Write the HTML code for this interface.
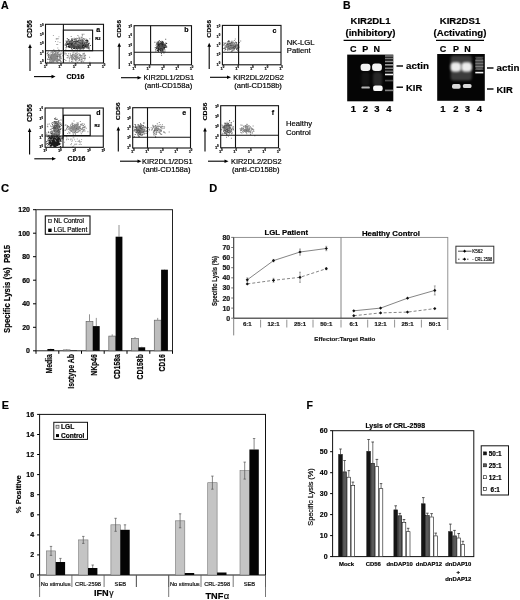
<!DOCTYPE html>
<html><head><meta charset="utf-8"><style>
html,body{margin:0;padding:0;background:#fff;}
svg{display:block;font-family:"Liberation Sans",sans-serif;filter:grayscale(1);}
text{stroke:#000;stroke-width:0.18px;}
</style></head><body>
<svg width="520" height="600" viewBox="0 0 520 600">
<defs>
<filter id="bd" x="-20%" y="-20%" width="140%" height="140%"><feGaussianBlur stdDeviation="0.3"/></filter>
<filter id="b1" x="-50%" y="-50%" width="200%" height="200%"><feGaussianBlur stdDeviation="0.7"/></filter>
<filter id="b2" x="-50%" y="-50%" width="200%" height="200%"><feGaussianBlur stdDeviation="1.3"/></filter>
<filter id="b3" x="-50%" y="-50%" width="200%" height="200%"><feGaussianBlur stdDeviation="2.5"/></filter>
</defs>
<rect width="520" height="600" fill="#fff"/>
<text x="1" y="8.6" font-size="10.6" font-weight="bold" fill="#000">A</text>
<g filter="url(#bd)">
<path fill="#1a1a1a" d="M75.8 45h1v1h-1zM76 43.7h1v1h-1zM72.7 43.9h1v1h-1zM82.1 44.9h1v1h-1zM81.8 44.6h1v1h-1zM78.8 44.5h1v1h-1zM69.3 45.6h1v1h-1zM79.3 45h1v1h-1zM69.2 41.4h1v1h-1zM72.9 43.5h1v1h-1zM78.4 44.1h1v1h-1zM79.4 43.2h1v1h-1zM78.4 44.8h1v1h-1zM74 46.9h1v1h-1zM79.6 46.1h1v1h-1zM74.1 43h1v1h-1zM75.4 44h1v1h-1zM79.9 44.6h1v1h-1zM74.9 42.7h1v1h-1zM74.6 46.2h1v1h-1zM73.3 44.6h1v1h-1zM79 41.8h1v1h-1zM77.2 46.3h1v1h-1zM67.7 43.7h1v1h-1zM76.5 42.9h1v1h-1zM79.3 44.1h1v1h-1zM70.3 45.5h1v1h-1zM80.1 45.7h1v1h-1zM83.6 44.8h1v1h-1zM77.5 42.1h1v1h-1zM79.8 43.2h1v1h-1zM74.9 42.2h1v1h-1zM72.5 43.4h1v1h-1zM82.9 40.9h1v1h-1zM70.3 44.6h1v1h-1zM83.6 45.1h1v1h-1zM68.3 40.2h1v1h-1zM78.6 43h1v1h-1zM71.8 45.8h1v1h-1zM82.1 44.5h1v1h-1zM78.1 44.9h1v1h-1zM84.3 45.2h1v1h-1zM79.4 45.1h1v1h-1zM69.8 46.3h1v1h-1zM81.4 45h1v1h-1zM67.9 43.2h1v1h-1zM80.9 41.3h1v1h-1zM76.2 45.8h1v1h-1zM71 46.8h1v1h-1zM79.5 44h1v1h-1zM78.5 45.2h1v1h-1zM77.6 46h1v1h-1zM74 43.5h1v1h-1zM81.8 44.2h1v1h-1zM72.9 45.7h1v1h-1zM83.7 43.5h1v1h-1zM70.7 44h1v1h-1zM76.3 43.7h1v1h-1zM83.5 42.6h1v1h-1zM82.8 42.2h1v1h-1zM73.4 45.2h1v1h-1zM82.2 45.6h1v1h-1zM78.6 44.4h1v1h-1zM77.7 45.1h1v1h-1zM76.2 44.6h1v1h-1zM79.6 44.2h1v1h-1zM80.5 45.1h1v1h-1zM86.2 44.7h1v1h-1zM75 43.6h1v1h-1zM76.9 45.7h1v1h-1zM75.5 44.8h1v1h-1zM85.5 40.1h1v1h-1zM71.8 44.6h1v1h-1zM78.8 44.6h1v1h-1zM75 45.2h1v1h-1zM78.3 43.4h1v1h-1zM88.2 44.8h1v1h-1zM74.5 44h1v1h-1zM76 44.1h1v1h-1zM81.6 42.3h1v1h-1zM76.7 45.7h1v1h-1zM80.9 46.6h1v1h-1zM69.2 43.6h1v1h-1zM75.4 45.2h1v1h-1zM82 39.9h1v1h-1zM82 41.9h1v1h-1zM80.1 41.8h1v1h-1zM77.8 46.1h1v1h-1zM76.3 44.5h1v1h-1zM80.7 44.4h1v1h-1zM76.6 46.7h1v1h-1zM81.8 43.7h1v1h-1zM81.2 43.8h1v1h-1zM77.6 45.3h1v1h-1zM78 45.2h1v1h-1zM70 41.8h1v1h-1zM79.8 42.7h1v1h-1zM72.3 41.8h1v1h-1zM82.8 45.4h1v1h-1zM83.8 42.7h1v1h-1zM77 42.4h1v1h-1zM80.5 46.7h1v1h-1zM72.9 46.7h1v1h-1zM81.5 43.9h1v1h-1zM67.9 46.5h1v1h-1zM76.6 43.2h1v1h-1zM78.8 44.9h1v1h-1zM83.9 42.6h1v1h-1zM82.2 46.6h1v1h-1zM83.7 43.9h1v1h-1zM73.6 45.8h1v1h-1zM77.5 44.4h1v1h-1zM83.6 43.8h1v1h-1zM66.4 43.6h1v1h-1zM68.5 45.5h1v1h-1zM78.5 43.2h1v1h-1zM77 45.5h1v1h-1zM77.4 46.3h1v1h-1zM76.7 45.9h1v1h-1zM83.9 46.8h1v1h-1zM73.9 45.6h1v1h-1zM68.4 42.5h1v1h-1zM68 45.9h1v1h-1zM71.3 44.2h1v1h-1zM76.1 44.2h1v1h-1zM74.3 44.6h1v1h-1zM85.2 44.3h1v1h-1zM79.4 45.8h1v1h-1zM76.1 42.2h1v1h-1zM74.4 45.9h1v1h-1zM69.4 43.2h1v1h-1zM81.6 45.5h1v1h-1zM77 45.5h1v1h-1zM77.8 42.3h1v1h-1zM69.8 43.2h1v1h-1zM81.2 43.3h1v1h-1zM72.8 43h1v1h-1zM70 44h1v1h-1zM71.6 44.8h1v1h-1zM66.1 44.7h1v1h-1zM74 41.1h1v1h-1zM80.3 43.8h1v1h-1zM66.7 42.8h1v1h-1zM78.3 43.5h1v1h-1zM80.6 45.4h1v1h-1zM80.1 44.7h1v1h-1zM83.1 45.3h1v1h-1zM79.1 40.9h1v1h-1zM81.1 46.3h1v1h-1zM75.6 43.4h1v1h-1zM85.9 41.4h1v1h-1zM79.2 48.1h1v1h-1zM72.7 45.3h1v1h-1zM85.7 44h1v1h-1zM79.6 45.6h1v1h-1zM72.8 44.1h1v1h-1zM78.3 45.5h1v1h-1zM76.8 43.9h1v1h-1zM72.3 43.6h1v1h-1zM81.1 44.4h1v1h-1zM73.1 42.9h1v1h-1zM79.9 40.1h1v1h-1zM79.9 45h1v1h-1zM84.7 44.9h1v1h-1zM76.7 45h1v1h-1zM68.1 45.9h1v1h-1zM78.5 43.1h1v1h-1zM83.1 47.1h1v1h-1zM70.5 43.1h1v1h-1zM78.3 44.5h1v1h-1zM75.2 42.6h1v1h-1zM86.8 45.9h1v1h-1zM71.5 42h1v1h-1zM84.8 45.8h1v1h-1zM85.4 45.5h1v1h-1zM73 44.6h1v1h-1zM67.1 43h1v1h-1zM76.7 45h1v1h-1zM73.7 44h1v1h-1zM79.1 44.8h1v1h-1zM79.9 44.5h1v1h-1zM75.5 45.5h1v1h-1zM77.2 42.9h1v1h-1zM74.1 44.2h1v1h-1zM76.5 44.5h1v1h-1zM77 44.5h1v1h-1zM76.4 42.2h1v1h-1zM78.9 45.9h1v1h-1zM79 43.9h1v1h-1zM79.1 42.7h1v1h-1zM68.3 44.3h1v1h-1zM72.7 45.4h1v1h-1zM72 40h1v1h-1zM72.2 46.7h1v1h-1zM75.2 42h1v1h-1zM73.5 45h1v1h-1zM79.3 44.5h1v1h-1zM83.8 45.3h1v1h-1zM76.9 45.2h1v1h-1zM84.6 45.8h1v1h-1zM81.7 42.5h1v1h-1zM76.3 45.4h1v1h-1zM75.6 45.9h1v1h-1zM79.7 45.7h1v1h-1zM76 48.3h1v1h-1zM82.7 43.9h1v1h-1zM77.4 48.4h1v1h-1zM75.4 45.6h1v1h-1zM81.5 44.2h1v1h-1zM71.6 44.5h1v1h-1zM78.7 46h1v1h-1zM80.6 44.2h1v1h-1zM80.9 45.1h1v1h-1zM77.9 44.3h1v1h-1zM75.9 45.3h1v1h-1zM72.2 43.2h1v1h-1zM77 41.9h1v1h-1zM75 41h1v1h-1zM73.9 45.1h1v1h-1zM79.6 44.1h1v1h-1zM75.9 41.9h1v1h-1zM85.4 45h1v1h-1zM82 42.8h1v1h-1zM76.1 41.3h1v1h-1zM80.6 45.7h1v1h-1zM68.3 44.1h1v1h-1zM79.9 41.4h1v1h-1zM68.6 42.5h1v1h-1zM74.1 42h1v1h-1zM77.1 44.6h1v1h-1zM79.9 45.3h1v1h-1zM83.9 46.1h1v1h-1zM71 43.4h1v1h-1zM72.1 42.5h1v1h-1zM76.6 44.2h1v1h-1zM79.3 41.7h1v1h-1zM71.3 44.2h1v1h-1zM76.1 43.7h1v1h-1zM76.7 43h1v1h-1zM80.2 44.8h1v1h-1zM76.6 43.1h1v1h-1zM76.2 39.8h1v1h-1zM72.5 44.3h1v1h-1zM70.1 44.5h1v1h-1zM77.7 42h1v1h-1zM75.8 43.7h1v1h-1zM79.1 45.2h1v1h-1zM76.8 42.8h1v1h-1zM76.3 44.1h1v1h-1zM80.4 44.7h1v1h-1zM73.7 42h1v1h-1zM75.3 43h1v1h-1zM71.9 44h1v1h-1zM74.7 44.4h1v1h-1zM79.4 43.5h1v1h-1zM87.7 43.7h1v1h-1zM82.1 44.4h1v1h-1zM82.1 40.4h1v1h-1zM73.5 44.6h1v1h-1zM79.8 47.9h1v1h-1zM78.5 46.2h1v1h-1zM80.5 45.7h1v1h-1zM79.3 44h1v1h-1zM79.3 42.5h1v1h-1zM82.4 42.6h1v1h-1zM78.1 47.6h1v1h-1zM76 44.2h1v1h-1zM82.3 44.2h1v1h-1zM73.3 44.6h1v1h-1zM79.7 45.3h1v1h-1zM73.4 47h1v1h-1zM84.7 44.2h1v1h-1zM78.2 43.5h1v1h-1zM83.5 43.1h1v1h-1zM80.1 43.4h1v1h-1zM73.8 45.3h1v1h-1zM83.1 44.2h1v1h-1zM73.9 45.5h1v1h-1zM76.8 44.7h1v1h-1zM84 46h1v1h-1zM74.6 47.9h1v1h-1zM77 45.5h1v1h-1zM74 44.1h1v1h-1zM69 47.1h1v1h-1zM83.3 42.3h1v1h-1zM70.1 41.6h1v1h-1zM82.4 43.5h1v1h-1zM76.7 43.7h1v1h-1zM76.4 42.5h1v1h-1zM77.1 41.9h1v1h-1zM76.7 44.7h1v1h-1zM79.2 43.8h1v1h-1zM72.8 44.5h1v1h-1zM74.8 46.7h1v1h-1zM80.5 44h1v1h-1zM74.8 43.1h1v1h-1zM72.7 43.6h1v1h-1zM78.4 45h1v1h-1zM79.6 47.6h1v1h-1zM73.8 44.2h1v1h-1zM74.6 44.5h1v1h-1zM77.7 44.9h1v1h-1zM75.9 44.8h1v1h-1zM77.2 45.4h1v1h-1zM68.3 42.8h1v1h-1zM77 42.5h1v1h-1zM72.2 45.2h1v1h-1zM74 45.2h1v1h-1zM80.4 44.7h1v1h-1zM79.3 44h1v1h-1zM70.5 44.2h1v1h-1zM79.1 43.4h1v1h-1zM76.5 45.4h1v1h-1zM73 45.2h1v1h-1zM85.6 43.3h1v1h-1zM77.7 44h1v1h-1zM84.1 44.7h1v1h-1zM81.1 43.1h1v1h-1zM76.9 44.2h1v1h-1zM68.8 46.5h1v1h-1zM81.1 41.4h1v1h-1zM80.4 44h1v1h-1zM79.1 44.8h1v1h-1zM70.1 43.9h1v1h-1zM83.9 43.3h1v1h-1zM72.3 42h1v1h-1zM71.4 44.7h1v1h-1zM84.8 44.9h1v1h-1zM78.1 47.8h1v1h-1zM74.6 43.1h1v1h-1zM79.4 45.1h1v1h-1zM72.3 42.3h1v1h-1zM78.3 44.6h1v1h-1zM71 43.9h1v1h-1zM74.5 44.9h1v1h-1zM76.5 44.1h1v1h-1zM75.4 45.9h1v1h-1zM83.4 43.6h1v1h-1zM80.9 43h1v1h-1zM77.3 45.4h1v1h-1zM84 43.6h1v1h-1zM76.7 44.5h1v1h-1zM70.1 44.2h1v1h-1zM73.9 44.8h1v1h-1zM71.8 41h1v1h-1zM77.2 44.6h1v1h-1zM74.5 45.6h1v1h-1zM75.7 43.2h1v1h-1zM79.2 41.7h1v1h-1zM73.9 44.2h1v1h-1zM80.9 43.9h1v1h-1zM78.4 43.2h1v1h-1zM78.4 46.9h1v1h-1zM73.8 48h1v1h-1zM74 44.2h1v1h-1zM77.8 45.8h1v1h-1zM71.3 40.8h1v1h-1zM79.8 45.5h1v1h-1zM79.9 48.4h1v1h-1zM77.9 44.6h1v1h-1zM81.3 44.8h1v1h-1zM84.7 42.2h1v1h-1zM75.3 38.7h1v1h-1zM80.7 43.6h1v1h-1zM81.3 47.6h1v1h-1zM77 43.8h1v1h-1zM74.7 42.9h1v1h-1zM74.1 45.2h1v1h-1zM77.2 44.3h1v1h-1zM76.2 45.7h1v1h-1zM79.3 44h1v1h-1zM80.1 44h1v1h-1zM71.7 46.5h1v1h-1zM79.1 42.7h1v1h-1zM82 44.8h1v1h-1zM69.8 46.8h1v1h-1zM78.5 45.6h1v1h-1zM77.9 44h1v1h-1zM69.9 45.8h1v1h-1zM77.1 43.7h1v1h-1zM78.6 44.3h1v1h-1zM80.1 43.6h1v1h-1zM76.8 40.8h1v1h-1zM75.1 45.3h1v1h-1zM83.1 43.6h1v1h-1zM76.4 46.7h1v1h-1zM75.5 45.4h1v1h-1zM84.7 44.3h1v1h-1zM82.6 43.1h1v1h-1zM78 44.1h1v1h-1zM77.5 46h1v1h-1zM88 43.1h1v1h-1zM74.4 45h1v1h-1zM72.1 45h1v1h-1zM79.6 43.8h1v1h-1zM79.4 41.7h1v1h-1zM80.5 41.7h1v1h-1zM73.8 43.3h1v1h-1zM75.2 45.6h1v1h-1zM77.4 43.6h1v1h-1zM79.5 46.7h1v1h-1zM77 44.8h1v1h-1zM82.7 44.6h1v1h-1zM71.1 48.2h1v1h-1zM87.2 41h1v1h-1zM76.8 44.9h1v1h-1zM81.4 45.3h1v1h-1zM75.7 42.5h1v1h-1zM77.5 45.9h1v1h-1zM72 42.6h1v1h-1zM76.9 41.1h1v1h-1zM75.8 43.5h1v1h-1zM79.1 43.1h1v1h-1zM72.9 43.6h1v1h-1zM76.8 43.1h1v1h-1zM77.1 45.4h1v1h-1zM82.5 46.9h1v1h-1zM73.4 43.5h1v1h-1zM65.6 47.2h1v1h-1zM73.7 44.1h1v1h-1zM79.4 42h1v1h-1zM79.1 44.2h1v1h-1zM68.6 44.7h1v1h-1zM82.5 41.2h1v1h-1zM80.7 44.5h1v1h-1zM79.2 44.9h1v1h-1zM83 43.8h1v1h-1zM81 43.5h1v1h-1zM80.3 42.9h1v1h-1zM76.5 47h1v1h-1zM79 43.9h1v1h-1zM71.7 42.9h1v1h-1zM77.9 45.7h1v1h-1zM79 45h1v1h-1zM76.8 46.4h1v1h-1zM75.2 43.3h1v1h-1zM81.1 44.3h1v1h-1zM75.7 43.3h1v1h-1zM75.8 45.2h1v1h-1zM78.6 42.3h1v1h-1zM79 44.5h1v1h-1zM72.4 45.4h1v1h-1zM75.7 43.7h1v1h-1zM80.7 46.3h1v1h-1zM73.8 44.9h1v1h-1zM73 47.9h1v1h-1zM74.7 46.1h1v1h-1zM74 45.5h1v1h-1zM87.2 40.1h1v1h-1zM75 45h1v1h-1zM76.6 43.1h1v1h-1zM86.9 44.3h1v1h-1zM69.4 45.6h1v1h-1zM69.1 46h1v1h-1zM74.3 44.4h1v1h-1zM82.8 44.4h1v1h-1zM70.6 41.5h1v1h-1zM82.4 45.4h1v1h-1zM73.2 45.6h1v1h-1zM79.3 45.2h1v1h-1zM66.6 43.7h1v1h-1zM81.1 45.4h1v1h-1zM81.1 40.3h1v1h-1zM77.8 45h1v1h-1zM88.7 42.7h1v1h-1zM75.5 44.3h1v1h-1zM81.1 43.5h1v1h-1zM82.3 42.9h1v1h-1zM78.2 43.4h1v1h-1zM77.7 43.1h1v1h-1zM69.7 45.9h1v1h-1zM78.4 43.3h1v1h-1zM77.9 45.8h1v1h-1zM72.5 44h1v1h-1zM79.5 45h1v1h-1zM75.5 40.8h1v1h-1zM82.7 44.7h1v1h-1zM77.1 43.8h1v1h-1zM78.2 43.5h1v1h-1zM72.3 43h1v1h-1zM74.3 43.2h1v1h-1zM71.7 45.2h1v1h-1zM71 45.3h1v1h-1zM72.3 44.8h1v1h-1zM83.3 44.5h1v1h-1zM73.6 44.3h1v1h-1zM77.7 41.4h1v1h-1zM74.2 44.5h1v1h-1zM74.8 44.3h1v1h-1zM80.4 45.4h1v1h-1zM81.2 45.1h1v1h-1zM75.7 44.2h1v1h-1zM75.8 43.7h1v1h-1zM76.2 41.4h1v1h-1zM75.5 44.2h1v1h-1zM72.5 44.2h1v1h-1zM79.4 43.9h1v1h-1zM86.6 40h1v1h-1zM76.1 41.3h1v1h-1zM81.5 48.4h1v1h-1zM65.5 44.4h1v1h-1zM79.4 43.7h1v1h-1zM79.5 40.6h1v1h-1zM80.9 44.8h1v1h-1zM77.1 43.3h1v1h-1zM79.9 43.4h1v1h-1zM78 43.4h1v1h-1zM66.7 44.1h1v1h-1zM77.9 45.4h1v1h-1zM73 44.1h1v1h-1zM79.8 44.4h1v1h-1zM82.7 47.4h1v1h-1zM72.8 41.1h1v1h-1zM80.9 46.6h1v1h-1zM81.2 45.5h1v1h-1zM74.2 43.1h1v1h-1zM81.1 42.7h1v1h-1zM68.7 42.6h1v1h-1zM88.5 47.3h1v1h-1zM73.8 43h1v1h-1zM78.1 43h1v1h-1zM83 44.1h1v1h-1zM72 46.3h1v1h-1zM74.3 44.6h1v1h-1zM76.9 43.7h1v1h-1zM78.5 43.1h1v1h-1zM68.5 40.7h1v1h-1zM71.2 43h1v1h-1zM76.9 44.3h1v1h-1zM79.6 44.4h1v1h-1zM73.4 43.1h1v1h-1zM67.3 43.9h1v1h-1zM79.2 45h1v1h-1zM76.4 43.9h1v1h-1zM81.3 44.2h1v1h-1zM80.4 45.1h1v1h-1zM78 46.3h1v1h-1zM74.4 43.6h1v1h-1zM73.3 42.9h1v1h-1zM84.2 47h1v1h-1zM77.1 45.1h1v1h-1zM82.4 45.5h1v1h-1zM82.5 42.2h1v1h-1zM74.1 44.9h1v1h-1zM83.6 44.4h1v1h-1zM73.1 43.6h1v1h-1zM74 42.8h1v1h-1zM83.9 43.2h1v1h-1zM77.1 47.7h1v1h-1zM82.4 44.7h1v1h-1zM74.2 44.9h1v1h-1zM84.5 45.2h1v1h-1zM82.8 44.4h1v1h-1zM79.4 43.9h1v1h-1zM79 46.3h1v1h-1zM70.4 44.1h1v1h-1zM78.1 43.3h1v1h-1zM75.6 45.5h1v1h-1zM86.2 45.2h1v1h-1zM78.5 41.7h1v1h-1zM85.9 44.3h1v1h-1zM76.8 42.4h1v1h-1zM76.7 42.4h1v1h-1zM77.3 44.9h1v1h-1zM77.1 44.6h1v1h-1zM73.1 46.5h1v1h-1zM74 41.3h1v1h-1zM76.1 43h1v1h-1zM72.4 43.6h1v1h-1zM78.3 42.3h1v1h-1zM76.4 46.5h1v1h-1zM80.1 44h1v1h-1zM77.6 44h1v1h-1zM76.8 45.4h1v1h-1zM76.6 40.4h1v1h-1zM76.9 42.8h1v1h-1zM80 43.2h1v1h-1zM77.7 47.7h1v1h-1zM72.2 42.4h1v1h-1zM70.5 40.4h1v1h-1zM68.4 44.8h1v1h-1zM74.1 41.2h1v1h-1zM70.2 45.2h1v1h-1zM73.4 43.6h1v1h-1zM78.5 46.4h1v1h-1zM85.9 45.9h1v1h-1zM77.7 44.5h1v1h-1zM85.3 46.5h1v1h-1zM75.6 44.9h1v1h-1zM78.3 44.3h1v1h-1zM74.7 42.1h1v1h-1zM74.5 41.7h1v1h-1zM82.6 45.1h1v1h-1zM71.5 46.4h1v1h-1zM81.1 41.1h1v1h-1zM85.5 45.5h1v1h-1zM86.5 42.2h1v1h-1zM79.4 44.9h1v1h-1zM77.9 44.5h1v1h-1zM81.8 41.8h1v1h-1zM71.3 42h1v1h-1zM74.4 43.2h1v1h-1zM78.7 44.6h1v1h-1zM77.1 43.1h1v1h-1zM75 45.7h1v1h-1zM80.5 44.4h1v1h-1zM75.5 46.7h1v1h-1zM74.3 45.2h1v1h-1zM82.3 43.8h1v1h-1zM80.8 42.4h1v1h-1zM81.7 44.5h1v1h-1zM69.7 45.3h1v1h-1zM72.9 46.3h1v1h-1zM73.9 43.9h1v1h-1zM78.3 43.7h1v1h-1zM78.2 43.3h1v1h-1zM80.1 44.2h1v1h-1zM78 39.8h1v1h-1zM82.3 44.3h1v1h-1zM68.8 44.4h1v1h-1zM79.1 45.9h1v1h-1zM72 46.7h1v1h-1zM76.3 48h1v1h-1zM76.3 45.3h1v1h-1zM75.3 42.4h1v1h-1zM82 45.7h1v1h-1zM84.1 45.6h1v1h-1zM74.4 41.5h1v1h-1zM74 43.1h1v1h-1zM73.3 45.1h1v1h-1zM78.5 43.8h1v1h-1zM77.8 44h1v1h-1zM78 45.4h1v1h-1zM81.4 43.1h1v1h-1zM70.1 46.5h1v1h-1zM77.5 46h1v1h-1zM69.4 43.7h1v1h-1zM77.1 41.9h1v1h-1zM74.6 45.4h1v1h-1zM82 46.8h1v1h-1zM73 42h1v1h-1zM79.4 45.7h1v1h-1zM77.9 42.1h1v1h-1zM80.6 45.5h1v1h-1zM79.5 43.4h1v1h-1zM78.4 45.5h1v1h-1zM74.4 41.3h1v1h-1zM78.5 45h1v1h-1zM77.1 45.6h1v1h-1zM74.3 44.1h1v1h-1zM75.6 45.1h1v1h-1zM84.3 43.8h1v1h-1zM86.5 46.6h1v1h-1zM80.6 45.1h1v1h-1zM85.1 43.9h1v1h-1zM76.5 42.5h1v1h-1zM79.2 46.4h1v1h-1zM79.4 44.9h1v1h-1zM76.1 44.5h1v1h-1zM70.4 45.9h1v1h-1zM75.1 42.4h1v1h-1zM73.5 42.9h1v1h-1zM80.9 45.9h1v1h-1zM70.8 45.7h1v1h-1zM81.1 43.3h1v1h-1zM70.2 43h1v1h-1zM74.1 44.7h1v1h-1zM75.4 41h1v1h-1zM78.1 41.7h1v1h-1zM81.2 42.3h1v1h-1zM73.8 42.8h1v1h-1zM74.5 46.3h1v1h-1zM80.9 45.2h1v1h-1zM78.5 41.7h1v1h-1zM74.6 43.3h1v1h-1zM72.5 45h1v1h-1zM73.6 43.1h1v1h-1zM72.2 40.9h1v1h-1zM79.7 46.3h1v1h-1zM77.8 42.6h1v1h-1zM64.6 44.5h1v1h-1zM82.6 44.7h1v1h-1zM81.3 46.6h1v1h-1zM82.2 43.5h1v1h-1zM81.8 45.4h1v1h-1zM69.9 43.6h1v1h-1zM70.5 44h1v1h-1zM79.7 42.5h1v1h-1zM67.5 46.3h1v1h-1zM78.7 46.6h1v1h-1zM70.9 45.9h1v1h-1zM86.5 47.4h1v1h-1zM76 44.6h1v1h-1zM76.3 45.8h1v1h-1zM81.8 44.3h1v1h-1zM70.7 45.4h1v1h-1z"/>
<path fill="#555" d="M74.3 45.4h1v1h-1zM78.5 47.9h1v1h-1zM83.6 42.7h1v1h-1zM79 48.2h1v1h-1zM73.9 44.9h1v1h-1zM83.9 46.9h1v1h-1zM80 40.5h1v1h-1zM69.7 44.4h1v1h-1zM79.2 50.2h1v1h-1zM72 46.6h1v1h-1zM81.5 39.6h1v1h-1zM72.3 44.2h1v1h-1zM74.1 43.4h1v1h-1zM79.7 41.8h1v1h-1zM79.7 42.2h1v1h-1zM73.8 45.1h1v1h-1zM73.7 44.5h1v1h-1zM86.3 43.9h1v1h-1zM76.2 45.6h1v1h-1zM74.9 46.5h1v1h-1zM69.6 45.3h1v1h-1zM74 41.8h1v1h-1zM87.3 41.7h1v1h-1zM87.2 45.4h1v1h-1zM85.4 41.4h1v1h-1zM84 47.4h1v1h-1zM76.3 43.5h1v1h-1zM74.5 42.2h1v1h-1zM79.6 44.6h1v1h-1zM78 48.1h1v1h-1zM75.1 45h1v1h-1zM85.5 41.3h1v1h-1zM83 48.4h1v1h-1zM69.1 41.1h1v1h-1zM71 39.2h1v1h-1zM79.6 39.2h1v1h-1zM79.9 47.4h1v1h-1zM67.6 43h1v1h-1zM65.9 45.7h1v1h-1zM72.7 43.1h1v1h-1zM77.3 45.2h1v1h-1zM75 43.8h1v1h-1zM73.8 44.1h1v1h-1zM70.2 44h1v1h-1zM65.8 42.6h1v1h-1zM88.1 44h1v1h-1zM69.7 44.4h1v1h-1zM71.4 39.7h1v1h-1zM72.7 45.6h1v1h-1zM79.2 43.6h1v1h-1zM71.6 41.1h1v1h-1zM84.8 44.4h1v1h-1zM71.5 38.5h1v1h-1zM69.1 50h1v1h-1zM70.3 43.6h1v1h-1zM78.2 43.4h1v1h-1zM75.4 40.4h1v1h-1zM70.9 48h1v1h-1zM72.6 45.9h1v1h-1zM67.2 43.1h1v1h-1zM78.5 46.4h1v1h-1zM70.5 45.3h1v1h-1zM79.2 42h1v1h-1zM79.8 41.6h1v1h-1zM72.4 43.8h1v1h-1zM71.2 40.1h1v1h-1zM74.5 45.7h1v1h-1zM74.7 47h1v1h-1zM70.3 40.5h1v1h-1zM86 44.8h1v1h-1zM82.5 41.7h1v1h-1zM81.7 44.4h1v1h-1zM80.8 43.9h1v1h-1zM84 42.2h1v1h-1zM71.4 40.1h1v1h-1zM83.7 42h1v1h-1zM70.9 41.5h1v1h-1zM74.4 40.6h1v1h-1zM75.3 42.2h1v1h-1zM73.8 41.4h1v1h-1zM77.2 42.6h1v1h-1zM77.7 44.4h1v1h-1zM79 38.3h1v1h-1zM73.9 41.8h1v1h-1zM81.5 39.9h1v1h-1zM72.9 43.1h1v1h-1zM75.1 46.3h1v1h-1zM74.4 46.2h1v1h-1zM68.5 39.3h1v1h-1zM84.1 44.9h1v1h-1zM79.8 44.1h1v1h-1zM79.8 40.8h1v1h-1zM82.5 42.5h1v1h-1zM82.7 44h1v1h-1zM65.6 40.6h1v1h-1zM83.5 43.5h1v1h-1zM74.7 44.4h1v1h-1zM74.5 42.4h1v1h-1zM77.6 44.2h1v1h-1zM85.8 43.9h1v1h-1zM87.9 48.3h1v1h-1zM87 46.5h1v1h-1zM77.8 44.1h1v1h-1zM76.2 42h1v1h-1zM76.6 42.2h1v1h-1zM86.5 45.1h1v1h-1zM74.4 39h1v1h-1zM76.7 42.8h1v1h-1zM70.7 41h1v1h-1zM76.6 50.3h1v1h-1zM76.8 43.4h1v1h-1zM85.4 44.1h1v1h-1zM78 42.9h1v1h-1zM73.5 47.5h1v1h-1zM82.8 48.1h1v1h-1zM75 43.9h1v1h-1zM71.9 46.2h1v1h-1zM68.9 45.2h1v1h-1zM83.4 47.3h1v1h-1zM71.5 46.5h1v1h-1zM72.9 41.9h1v1h-1zM69.3 46.7h1v1h-1zM86.6 42.3h1v1h-1zM72.6 43h1v1h-1zM73.9 39.3h1v1h-1zM73.1 46.8h1v1h-1zM87.8 43.1h1v1h-1zM73 42.5h1v1h-1zM66.1 46.1h1v1h-1zM70.7 46.5h1v1h-1zM67.1 40.6h1v1h-1zM78.7 41.9h1v1h-1zM81.5 43.8h1v1h-1zM70.2 45.4h1v1h-1zM81.9 39h1v1h-1zM87.6 45h1v1h-1zM81.4 39.1h1v1h-1zM72.8 42.9h1v1h-1zM83.2 40.2h1v1h-1zM71.9 38.7h1v1h-1zM75.6 44.7h1v1h-1zM67.2 42.3h1v1h-1zM80 47.8h1v1h-1zM80.9 43h1v1h-1zM70.2 41.5h1v1h-1zM73.1 44.2h1v1h-1zM76.7 48h1v1h-1zM78.7 41.1h1v1h-1zM86 46.2h1v1h-1zM77.6 42h1v1h-1zM66.1 41.2h1v1h-1zM82.3 41.8h1v1h-1zM69.3 44.3h1v1h-1zM78.4 45.3h1v1h-1zM80.8 47.3h1v1h-1zM72.1 46.2h1v1h-1zM71.3 45.5h1v1h-1zM78 44.4h1v1h-1zM82.6 43.8h1v1h-1zM83.5 46h1v1h-1zM77.8 42.4h1v1h-1zM72.6 42.5h1v1h-1zM75.8 43.7h1v1h-1zM81.5 41.6h1v1h-1zM72.9 43h1v1h-1zM78.1 41.2h1v1h-1zM86.3 42.4h1v1h-1zM83.3 38h1v1h-1zM77 44.5h1v1h-1zM78.1 45.3h1v1h-1zM78.6 44.2h1v1h-1zM66 42h1v1h-1zM78.8 43.3h1v1h-1zM72.2 42.3h1v1h-1zM87.7 48.1h1v1h-1zM76.7 47h1v1h-1zM67.8 39h1v1h-1zM74.2 41.6h1v1h-1zM73.8 44.3h1v1h-1zM77.3 44.5h1v1h-1zM76.8 46.1h1v1h-1zM87.3 40.7h1v1h-1zM77.9 43.1h1v1h-1zM79.1 40h1v1h-1zM66.8 38h1v1h-1zM80 44.3h1v1h-1zM77.4 37.9h1v1h-1zM74.8 41.9h1v1h-1zM68.8 41.5h1v1h-1zM81 45.2h1v1h-1zM76.9 45.1h1v1h-1zM73.5 44h1v1h-1zM77.2 45.2h1v1h-1zM76.6 43.4h1v1h-1zM76.2 42.2h1v1h-1zM90 45.1h1v1h-1zM79.5 49.5h1v1h-1zM85.1 39.9h1v1h-1zM81 45.9h1v1h-1zM87.9 47.1h1v1h-1zM81.5 40.9h1v1h-1zM72 44.5h1v1h-1zM79.9 41.2h1v1h-1zM74.8 42.8h1v1h-1zM77.4 44.6h1v1h-1zM75.3 40.7h1v1h-1zM84.2 47.8h1v1h-1zM76.4 46.4h1v1h-1zM79.6 45.4h1v1h-1zM79.8 41.9h1v1h-1zM80.3 46.3h1v1h-1zM71.8 48.7h1v1h-1zM89.1 48.4h1v1h-1zM88.5 45.7h1v1h-1zM75 42.3h1v1h-1zM72.3 44.1h1v1h-1zM76.8 45.5h1v1h-1zM65.3 49.6h1v1h-1zM80.9 45h1v1h-1zM78.6 43.3h1v1h-1zM76.3 41.7h1v1h-1zM78 43.7h1v1h-1zM78.9 41.7h1v1h-1zM77.2 43.9h1v1h-1zM80.5 41.1h1v1h-1zM79.4 46.3h1v1h-1zM80.5 42.9h1v1h-1zM74.2 43.2h1v1h-1zM81.2 47.7h1v1h-1zM76.1 42.2h1v1h-1zM79.2 44.3h1v1h-1zM71.7 42h1v1h-1zM76.4 45.5h1v1h-1zM70.1 41.3h1v1h-1zM79.9 40.7h1v1h-1zM77.6 44.7h1v1h-1zM76.4 41.3h1v1h-1zM76.7 43h1v1h-1zM78.9 41.7h1v1h-1zM83.3 39.6h1v1h-1zM76 43.8h1v1h-1zM82.6 42.3h1v1h-1zM80.2 42.4h1v1h-1zM81.3 48.1h1v1h-1zM74.7 44.9h1v1h-1zM71.6 46.2h1v1h-1zM84 43.9h1v1h-1zM70.4 44.8h1v1h-1zM83.7 46.5h1v1h-1zM81.7 39.2h1v1h-1zM73.1 47.4h1v1h-1zM69.9 46.6h1v1h-1zM87.9 45.7h1v1h-1zM83.5 43h1v1h-1zM69.9 43.5h1v1h-1zM75.8 43.7h1v1h-1zM81 43.4h1v1h-1zM78.1 44.9h1v1h-1zM77 48.4h1v1h-1zM79.6 44h1v1h-1zM75.8 42.2h1v1h-1zM84.8 44.2h1v1h-1zM70.7 42.4h1v1h-1zM76.2 42.7h1v1h-1zM83.3 40.9h1v1h-1zM79.9 44.2h1v1h-1zM70.2 43.9h1v1h-1zM76.5 45.1h1v1h-1zM74.4 44.6h1v1h-1zM67.3 41.1h1v1h-1zM81.6 46.4h1v1h-1zM76.9 42.3h1v1h-1zM55.1 52.5h1v1h-1zM55.5 55.8h1v1h-1zM54.2 56.3h1v1h-1zM54.4 53.1h1v1h-1zM50.9 55.3h1v1h-1zM55.4 51.3h1v1h-1zM51.5 54.9h1v1h-1zM50.5 57.3h1v1h-1zM53.5 54.4h1v1h-1zM50.8 58.6h1v1h-1zM51.8 58h1v1h-1zM55.5 51.6h1v1h-1zM50.4 56.5h1v1h-1zM55.1 58.5h1v1h-1zM56.6 59.2h1v1h-1zM52.8 56h1v1h-1zM56.6 55.4h1v1h-1zM57.5 52.4h1v1h-1zM56.2 56h1v1h-1zM47.5 59h1v1h-1zM55 56.6h1v1h-1zM50.4 55.3h1v1h-1zM59 54.3h1v1h-1zM50 56.2h1v1h-1zM52.7 54.1h1v1h-1zM51.2 59.2h1v1h-1zM49.2 61.6h1v1h-1zM52.2 53.7h1v1h-1zM56.6 58h1v1h-1zM50.6 58.4h1v1h-1zM47.9 54.1h1v1h-1zM57.7 55.8h1v1h-1zM49.7 57.8h1v1h-1zM57 56.4h1v1h-1zM48 55.6h1v1h-1zM55.4 58.5h1v1h-1zM60.1 55.8h1v1h-1zM52.4 56.4h1v1h-1zM58 54.1h1v1h-1zM58.3 49.4h1v1h-1zM56.6 54.7h1v1h-1zM55.5 58.3h1v1h-1zM50.1 56.3h1v1h-1zM54.8 58h1v1h-1zM50.9 53.9h1v1h-1zM53.4 55.9h1v1h-1zM49.1 58.9h1v1h-1zM52.2 60.2h1v1h-1zM56.8 56.6h1v1h-1zM56.4 53.6h1v1h-1zM52.9 55h1v1h-1zM49.8 56.5h1v1h-1zM53.5 60.2h1v1h-1zM51 55.3h1v1h-1zM55.4 57.5h1v1h-1zM54.1 55.3h1v1h-1zM55.6 57.4h1v1h-1zM47.9 55.8h1v1h-1zM49.5 53.4h1v1h-1zM54.5 56.7h1v1h-1zM54.4 54.2h1v1h-1zM53.3 54.1h1v1h-1zM55.3 58.3h1v1h-1zM59.8 59.8h1v1h-1zM51.3 55.3h1v1h-1zM50.9 57.3h1v1h-1zM60.5 58.3h1v1h-1zM46.7 53.2h1v1h-1zM49.7 57.8h1v1h-1zM54 57.3h1v1h-1zM59.9 54.3h1v1h-1zM51.2 61.6h1v1h-1zM55.1 54.5h1v1h-1zM47.3 52.5h1v1h-1zM54.1 59.1h1v1h-1zM53.5 54.7h1v1h-1zM51.6 61.4h1v1h-1zM48.2 57h1v1h-1zM54.1 58.1h1v1h-1zM52.7 57.8h1v1h-1zM56.7 56.1h1v1h-1zM52.5 56h1v1h-1zM50.8 56h1v1h-1zM53 57h1v1h-1zM58.4 59.9h1v1h-1z"/>
<path fill="#888" d="M83.4 33.7h1v1h-1zM74 42h1v1h-1zM81.3 36.9h1v1h-1zM68.6 44.4h1v1h-1zM78.8 37.3h1v1h-1zM78.3 42.7h1v1h-1zM65 43.3h1v1h-1zM81.7 33.8h1v1h-1zM81.9 34.7h1v1h-1zM83.7 41.2h1v1h-1zM89.3 38.2h1v1h-1zM78 43.1h1v1h-1zM74.8 37.9h1v1h-1zM76.1 39.8h1v1h-1zM72.6 41.5h1v1h-1zM80.7 40.2h1v1h-1zM86.5 39h1v1h-1zM84.5 38.4h1v1h-1zM81.8 34.2h1v1h-1zM79 39.5h1v1h-1zM75.5 38.2h1v1h-1zM76.3 37.8h1v1h-1zM67 38.2h1v1h-1zM75.3 38.4h1v1h-1zM72.7 39.6h1v1h-1zM81.9 39.2h1v1h-1zM75.5 44.1h1v1h-1zM82.9 42.8h1v1h-1zM83.8 39h1v1h-1zM77.4 43.3h1v1h-1zM75.2 39.6h1v1h-1zM79.9 41.1h1v1h-1zM76.6 43h1v1h-1zM77.1 42.2h1v1h-1zM83.4 42h1v1h-1zM81.7 36.5h1v1h-1zM71.4 38.1h1v1h-1zM80.4 44.5h1v1h-1zM71.9 40.9h1v1h-1zM73.7 37.8h1v1h-1zM76.6 42.1h1v1h-1zM79.1 43.5h1v1h-1zM73.1 42.7h1v1h-1zM82.7 40.2h1v1h-1zM80.4 38.3h1v1h-1zM72.6 38.8h1v1h-1zM74.8 48.7h1v1h-1zM75.6 45h1v1h-1zM79 40.9h1v1h-1zM81.7 37.7h1v1h-1zM82.6 41.1h1v1h-1zM70.4 41.8h1v1h-1zM80.8 41.4h1v1h-1zM85.9 38.8h1v1h-1zM80.6 42.2h1v1h-1zM73.5 43.6h1v1h-1zM70.7 36.1h1v1h-1zM80.6 36.7h1v1h-1zM77.4 35.1h1v1h-1zM78.3 36.6h1v1h-1zM52.3 58.3h1v1h-1zM55.1 58.8h1v1h-1zM54.1 57.3h1v1h-1zM52.2 54.1h1v1h-1zM57.3 60.4h1v1h-1zM56.5 57.8h1v1h-1zM55 55.1h1v1h-1zM47.2 58.5h1v1h-1zM54.8 54.8h1v1h-1zM50.3 60.3h1v1h-1zM47.1 61.8h1v1h-1zM51.3 56.4h1v1h-1zM52.1 57h1v1h-1zM53.2 54.3h1v1h-1zM58.1 54.1h1v1h-1zM52.1 58.2h1v1h-1zM52 55.2h1v1h-1zM55.4 55.4h1v1h-1zM49.3 56.2h1v1h-1zM53.2 61.6h1v1h-1zM49.8 59.4h1v1h-1zM51 55.4h1v1h-1zM52.8 57.3h1v1h-1zM57.3 61.7h1v1h-1zM51.6 60.5h1v1h-1zM57.8 58.9h1v1h-1zM51.1 59.2h1v1h-1zM53.6 57.6h1v1h-1zM53 58.5h1v1h-1zM58.2 59.9h1v1h-1zM53.2 59.5h1v1h-1zM59.5 53.7h1v1h-1zM59.6 52.5h1v1h-1zM56.1 58.3h1v1h-1zM59.6 57.3h1v1h-1zM52.2 54.1h1v1h-1zM49.2 58.8h1v1h-1zM53.1 54.3h1v1h-1zM56 54.2h1v1h-1zM52.3 55.1h1v1h-1zM60.3 60.9h1v1h-1zM53.4 51.8h1v1h-1zM55.1 56.7h1v1h-1zM55.3 58.2h1v1h-1zM52.8 59.3h1v1h-1zM57.2 57.1h1v1h-1zM52.5 55.1h1v1h-1zM56.6 53.2h1v1h-1zM53.4 54.3h1v1h-1zM48.7 58.3h1v1h-1zM53.9 56.6h1v1h-1zM57.3 52h1v1h-1zM53.7 57.4h1v1h-1zM57.2 53.2h1v1h-1zM56.7 57.2h1v1h-1zM59.2 59.9h1v1h-1zM54 55.2h1v1h-1zM52.7 53.7h1v1h-1zM53.9 50.9h1v1h-1zM53.7 57.8h1v1h-1zM57.8 55.5h1v1h-1zM59.3 54.5h1v1h-1zM53.5 50.9h1v1h-1zM51.1 54.1h1v1h-1zM59.5 58.1h1v1h-1zM49.9 58.1h1v1h-1zM55.8 55.8h1v1h-1zM54.1 55.6h1v1h-1zM52 51.3h1v1h-1zM53.7 60.3h1v1h-1zM59.3 55.7h1v1h-1zM51.2 55.9h1v1h-1zM57.3 57.5h1v1h-1zM51.8 57.6h1v1h-1zM53.2 58h1v1h-1zM52.5 52.2h1v1h-1zM54.2 58.7h1v1h-1zM49.9 56.2h1v1h-1zM57.3 55.4h1v1h-1zM57.1 59.5h1v1h-1zM50.5 61.3h1v1h-1zM47.9 55h1v1h-1zM56.7 60.4h1v1h-1zM50.6 54.6h1v1h-1zM54.7 50.9h1v1h-1zM56.4 58.1h1v1h-1zM52.3 58.1h1v1h-1zM56.9 57.4h1v1h-1zM55.9 60.9h1v1h-1zM52.2 57h1v1h-1zM52.1 59.5h1v1h-1zM52.5 57.9h1v1h-1zM54.5 56.7h1v1h-1zM60.3 56.3h1v1h-1zM59.2 58.9h1v1h-1zM58.9 56h1v1h-1zM57.4 58.7h1v1h-1zM51.7 57.3h1v1h-1zM53.5 56.4h1v1h-1zM58.8 54.4h1v1h-1zM47.8 51.5h1v1h-1zM52.3 54.6h1v1h-1zM54.1 58.1h1v1h-1zM60.5 57.4h1v1h-1zM55.7 54.4h1v1h-1zM56.1 60.4h1v1h-1zM58.9 50.8h1v1h-1zM57.3 61.1h1v1h-1zM57 52.2h1v1h-1zM52.9 58.2h1v1h-1zM55.5 54.2h1v1h-1zM50.7 59.3h1v1h-1zM49.1 60.6h1v1h-1zM54.1 57.4h1v1h-1zM49.1 54.8h1v1h-1zM56.5 52.3h1v1h-1zM61.6 52.4h1v1h-1zM49.5 56.6h1v1h-1zM55.8 58.6h1v1h-1zM52.6 55.9h1v1h-1zM53.1 54.8h1v1h-1zM54.9 57h1v1h-1zM51.7 57.2h1v1h-1zM54 56.3h1v1h-1zM58 51.5h1v1h-1zM54.9 53.4h1v1h-1zM52.8 60.8h1v1h-1zM50 56.2h1v1h-1zM51.8 59.2h1v1h-1zM50.4 51.7h1v1h-1zM55.9 55.5h1v1h-1zM52.8 59.6h1v1h-1zM50.8 55.4h1v1h-1zM54.5 57.7h1v1h-1zM52.1 59.5h1v1h-1zM62.2 55.3h1v1h-1zM60.8 50.4h1v1h-1zM59.1 55.5h1v1h-1zM54.5 55.5h1v1h-1zM51.7 52.8h1v1h-1zM52.6 60.2h1v1h-1zM58.2 55.5h1v1h-1zM52.1 54.5h1v1h-1zM49.6 61.7h1v1h-1zM56.4 56.8h1v1h-1zM52.2 53.6h1v1h-1zM58.8 58.7h1v1h-1zM50.5 59.3h1v1h-1zM50 58.3h1v1h-1zM50.5 55.3h1v1h-1zM55.8 57.7h1v1h-1zM57.7 54.1h1v1h-1zM59.8 60.4h1v1h-1zM54 57.8h1v1h-1zM51.2 56.1h1v1h-1zM49.2 56.8h1v1h-1zM54.7 60.4h1v1h-1zM57.5 58.8h1v1h-1zM52.7 55.9h1v1h-1zM52.8 57.1h1v1h-1zM47 58.7h1v1h-1zM48.3 55h1v1h-1zM54.1 55h1v1h-1zM60.1 56.2h1v1h-1zM59.7 59.9h1v1h-1zM52.2 57.7h1v1h-1zM58.7 55.5h1v1h-1zM54.3 54.9h1v1h-1zM54.2 55.5h1v1h-1zM54.3 59.4h1v1h-1zM59.1 56.9h1v1h-1zM54.7 59h1v1h-1zM52.9 53.5h1v1h-1zM58.1 53.8h1v1h-1zM57.4 53.7h1v1h-1zM60.7 53.5h1v1h-1zM57.1 60.8h1v1h-1zM50.5 60.8h1v1h-1zM51 51.4h1v1h-1zM56.6 58.5h1v1h-1zM53.3 49.2h1v1h-1zM53.8 55.6h1v1h-1zM52.6 55.7h1v1h-1zM47.5 54.9h1v1h-1zM60.6 61h1v1h-1zM52.7 54.4h1v1h-1zM55.4 59.6h1v1h-1zM56.6 53.1h1v1h-1zM54.6 56.9h1v1h-1zM59.2 59.9h1v1h-1zM55.9 60h1v1h-1zM52.6 60.9h1v1h-1zM52.4 57.6h1v1h-1zM57.3 53.9h1v1h-1zM51.4 51.4h1v1h-1zM54.6 56.3h1v1h-1zM74 57.9h1v1h-1zM76.5 55.7h1v1h-1zM81 61.5h1v1h-1zM73.2 53.8h1v1h-1zM72.2 56.8h1v1h-1zM79.7 54h1v1h-1zM82.2 53.5h1v1h-1zM81.2 57.7h1v1h-1zM74.4 56h1v1h-1zM79 59h1v1h-1zM67.6 57.3h1v1h-1zM71.4 58.3h1v1h-1zM84.5 56.6h1v1h-1zM75.3 57h1v1h-1zM79.5 57h1v1h-1zM73.5 54.4h1v1h-1zM74.9 60h1v1h-1zM75.4 60.4h1v1h-1zM77.7 56.5h1v1h-1zM65.6 54.6h1v1h-1zM83.8 52.8h1v1h-1zM69.8 53.3h1v1h-1zM72.6 58.4h1v1h-1zM85.1 54.8h1v1h-1zM72.3 61.3h1v1h-1zM75.5 52.9h1v1h-1zM72 54.4h1v1h-1zM69.7 55.5h1v1h-1zM81.5 57.5h1v1h-1zM69.8 56.8h1v1h-1zM76.2 58.7h1v1h-1zM74 57.8h1v1h-1zM89.1 56.8h1v1h-1zM69.2 57.4h1v1h-1zM71 55.4h1v1h-1zM77.2 57.5h1v1h-1zM74.2 58.9h1v1h-1zM74.8 52.7h1v1h-1zM81.5 55.5h1v1h-1zM83.6 54.6h1v1h-1zM79.6 57.4h1v1h-1zM69 60.6h1v1h-1zM64.2 59.1h1v1h-1zM82.8 57.9h1v1h-1zM80.2 55.1h1v1h-1zM75.9 57.1h1v1h-1zM78.6 58.5h1v1h-1zM74.7 54.5h1v1h-1zM72.5 57.7h1v1h-1zM65.6 52.9h1v1h-1zM73.4 54.9h1v1h-1zM73.9 55.8h1v1h-1zM74.1 57.9h1v1h-1zM79.1 59.9h1v1h-1zM82.6 53.5h1v1h-1zM80 55.5h1v1h-1zM71 60.9h1v1h-1zM72.1 54h1v1h-1zM73.5 54h1v1h-1zM82.3 57.6h1v1h-1zM84.8 57.7h1v1h-1zM72.2 59.5h1v1h-1zM71.9 55.2h1v1h-1zM75 56.6h1v1h-1zM83.5 54.8h1v1h-1zM78.2 56.4h1v1h-1zM68.1 53.3h1v1h-1zM74.6 57.7h1v1h-1zM78 57.9h1v1h-1zM76.3 55.2h1v1h-1zM78.7 53.6h1v1h-1zM67.6 55.5h1v1h-1zM67 55h1v1h-1zM71.3 54.9h1v1h-1zM75.7 54.2h1v1h-1zM73.4 51.6h1v1h-1zM76.9 54h1v1h-1zM71 57.2h1v1h-1zM76.6 56.8h1v1h-1zM66.6 57.2h1v1h-1zM76.9 53.7h1v1h-1zM80.7 56.4h1v1h-1zM76.1 55.2h1v1h-1zM79.4 56.8h1v1h-1zM83.1 57.8h1v1h-1zM72.1 55.9h1v1h-1zM81.8 55.4h1v1h-1zM78.4 58h1v1h-1zM76.8 57.1h1v1h-1zM76.9 54.3h1v1h-1zM83.6 56.1h1v1h-1zM72.1 54.4h1v1h-1zM78.3 53.3h1v1h-1zM84.2 59.6h1v1h-1zM84.6 58.2h1v1h-1zM65.4 60h1v1h-1zM83.8 57.9h1v1h-1zM84.6 55.1h1v1h-1zM76.8 58.8h1v1h-1zM75.5 59.7h1v1h-1zM76.5 58.5h1v1h-1zM76.5 52.2h1v1h-1zM77.8 60.3h1v1h-1zM83.2 61.5h1v1h-1zM79.5 54.8h1v1h-1zM74.8 59.1h1v1h-1zM81.2 60.4h1v1h-1zM70.2 54.6h1v1h-1zM64.2 53.5h1v1h-1zM68.8 60.5h1v1h-1zM78.7 55.1h1v1h-1zM75.6 57.1h1v1h-1zM89.4 61.7h1v1h-1zM82.2 60.5h1v1h-1zM79.2 57.5h1v1h-1zM74.8 55.3h1v1h-1zM77.7 56.4h1v1h-1zM77.1 61.8h1v1h-1zM75.3 55.7h1v1h-1zM71.3 56.4h1v1h-1zM73.2 57.1h1v1h-1zM81.5 58.9h1v1h-1zM80.5 58.9h1v1h-1zM80.3 60.6h1v1h-1zM82.4 60.4h1v1h-1zM72.8 56.5h1v1h-1zM71.4 59.3h1v1h-1zM81.3 55.1h1v1h-1zM83.8 53.2h1v1h-1zM75.4 58.4h1v1h-1zM75.8 57.6h1v1h-1zM83.5 57.5h1v1h-1zM69.1 58.6h1v1h-1zM75.4 56.8h1v1h-1zM72.4 52.5h1v1h-1zM68.1 55.5h1v1h-1zM83.3 53.1h1v1h-1zM71.4 58.1h1v1h-1zM71.1 58.4h1v1h-1zM73 57.4h1v1h-1zM76.7 56.5h1v1h-1zM64.4 52.2h1v1h-1zM75.7 60.6h1v1h-1z"/>
<path fill="#aaa" d="M56.2 44.1h1v1h-1zM57.2 43.9h1v1h-1zM58.4 36.2h1v1h-1zM57.4 41.3h1v1h-1zM56.5 38.7h1v1h-1zM55.9 38h1v1h-1zM55.4 51.8h1v1h-1zM59.5 42h1v1h-1zM58.1 38.2h1v1h-1zM52.9 34.9h1v1h-1zM57.2 47.6h1v1h-1zM56.9 38.1h1v1h-1zM56.6 38.1h1v1h-1zM55 41.1h1v1h-1zM56.4 38.8h1v1h-1zM55.7 38.4h1v1h-1zM57.3 47.4h1v1h-1zM56.7 50.7h1v1h-1z"/>
</g>
<rect x="45.5" y="24.3" width="58" height="38.7" fill="none" stroke="#111" stroke-width="1.1"/>
<line x1="63.4" y1="24.3" x2="63.4" y2="63" stroke="#111" stroke-width="1.1"/>
<line x1="45.5" y1="50.7" x2="103.5" y2="50.7" stroke="#111" stroke-width="1.1"/>
<rect x="63.4" y="30.1" width="29.2" height="20.6" fill="none" stroke="#111" stroke-width="1.1"/>
<text x="95.3" y="40" font-size="4.2" font-weight="bold" fill="#000">R2</text>
<text x="96.2" y="31.6" font-size="7" font-weight="bold" fill="#000">a</text>
<text x="39.7" y="27" font-size="4.2" font-weight="bold" fill="#111">1</text>
<text x="41.9" y="25.5" font-size="2.8" font-weight="bold" fill="#111">0</text>
<text x="39.7" y="36.2" font-size="4.2" font-weight="bold" fill="#111">1</text>
<text x="41.9" y="34.7" font-size="2.8" font-weight="bold" fill="#111">0</text>
<text x="39.7" y="45.4" font-size="4.2" font-weight="bold" fill="#111">1</text>
<text x="41.9" y="43.9" font-size="2.8" font-weight="bold" fill="#111">0</text>
<text x="39.7" y="54.5" font-size="4.2" font-weight="bold" fill="#111">1</text>
<text x="41.9" y="53" font-size="2.8" font-weight="bold" fill="#111">0</text>
<text x="39.7" y="63.7" font-size="4.2" font-weight="bold" fill="#111">1</text>
<text x="41.9" y="62.2" font-size="2.8" font-weight="bold" fill="#111">0</text>
<text x="43.7" y="67.8" font-size="4.2" font-weight="bold" fill="#111">1</text>
<text x="45.8" y="66.4" font-size="2.8" font-weight="bold" fill="#111">0</text>
<text x="58.2" y="67.8" font-size="4.2" font-weight="bold" fill="#111">1</text>
<text x="60.3" y="66.4" font-size="2.8" font-weight="bold" fill="#111">0</text>
<text x="72.7" y="67.8" font-size="4.2" font-weight="bold" fill="#111">1</text>
<text x="74.8" y="66.4" font-size="2.8" font-weight="bold" fill="#111">0</text>
<text x="87.2" y="67.8" font-size="4.2" font-weight="bold" fill="#111">1</text>
<text x="89.3" y="66.4" font-size="2.8" font-weight="bold" fill="#111">0</text>
<text x="101.7" y="67.8" font-size="4.2" font-weight="bold" fill="#111">1</text>
<text x="103.8" y="66.4" font-size="2.8" font-weight="bold" fill="#111">0</text>
<line x1="30" y1="47" x2="30" y2="71" stroke="#000" stroke-width="1.1"/>
<path d="M30 44l-1.8 4h3.6z" fill="#000"/>
<text x="32.4" y="29" font-size="7" font-weight="bold" text-anchor="middle" transform="rotate(-90 32.4 29)" fill="#000">CD56</text>
<line x1="34" y1="76.6" x2="52.5" y2="76.6" stroke="#000" stroke-width="1.1"/>
<path d="M55.5 76.6l-4 -1.8v3.6z" fill="#000"/>
<text x="66.5" y="79.1" font-size="7" font-weight="bold" fill="#000">CD16</text>
<g filter="url(#bd)">
<path fill="#1a1a1a" d="M157.5 46.7h1v1h-1zM158.4 45.9h1v1h-1zM160.7 47.3h1v1h-1zM162.6 45.1h1v1h-1zM158.2 45.8h1v1h-1zM161 44.8h1v1h-1zM162.2 49.5h1v1h-1zM157.9 46.9h1v1h-1zM162.4 42.5h1v1h-1zM160.9 45.8h1v1h-1zM157.9 48.8h1v1h-1zM160.9 45.3h1v1h-1zM161.3 47.5h1v1h-1zM161.9 47.3h1v1h-1zM161.3 43.9h1v1h-1zM159.7 46.5h1v1h-1zM155.4 50.4h1v1h-1zM159.8 44.1h1v1h-1zM157.1 46.7h1v1h-1zM160.6 45.1h1v1h-1zM159.7 44.5h1v1h-1zM159.1 46h1v1h-1zM159.3 47.5h1v1h-1zM160.2 46.5h1v1h-1zM161.3 48.7h1v1h-1zM161.6 46.6h1v1h-1zM160.2 44.6h1v1h-1zM159.9 47.5h1v1h-1zM160.9 45.4h1v1h-1zM158 43.2h1v1h-1zM161.1 48.2h1v1h-1zM161.2 43.5h1v1h-1zM160.1 46.6h1v1h-1zM158.8 46.9h1v1h-1zM160.1 44.6h1v1h-1zM158.2 47.8h1v1h-1zM161.2 44.5h1v1h-1zM158.6 47.9h1v1h-1zM161.6 45.6h1v1h-1zM163.4 45.6h1v1h-1zM158.5 48.3h1v1h-1zM160.2 46.9h1v1h-1zM160.6 44.2h1v1h-1zM158.3 45.8h1v1h-1zM163.1 44.2h1v1h-1zM163 46.6h1v1h-1zM158.4 46.7h1v1h-1zM161.5 44.4h1v1h-1zM156.6 46.9h1v1h-1zM158.4 47.1h1v1h-1zM157 45.9h1v1h-1zM159 43.3h1v1h-1zM160.1 46.5h1v1h-1zM159.5 43.9h1v1h-1zM160.9 42.8h1v1h-1zM161.5 47.2h1v1h-1zM163.6 47.9h1v1h-1zM161.2 46.7h1v1h-1zM160.6 43.6h1v1h-1zM163.2 47.2h1v1h-1zM160 44h1v1h-1zM163.2 47.2h1v1h-1zM158.3 47.5h1v1h-1zM164 46.2h1v1h-1zM161.2 45.4h1v1h-1zM159.3 48.3h1v1h-1zM166.2 46.4h1v1h-1zM160.3 47.7h1v1h-1zM159.9 47.6h1v1h-1zM162 44.2h1v1h-1zM158.5 46.1h1v1h-1zM162 46.7h1v1h-1zM162.8 43.5h1v1h-1zM161.4 45h1v1h-1zM160.7 46.8h1v1h-1zM158.7 45.8h1v1h-1zM158.4 46.7h1v1h-1zM158.9 45.2h1v1h-1zM160.9 44.9h1v1h-1zM162.6 45h1v1h-1zM162.1 46.7h1v1h-1zM158.6 45.8h1v1h-1zM159 45.5h1v1h-1zM160 49.7h1v1h-1zM159.7 49.2h1v1h-1zM161.3 43.7h1v1h-1zM156.2 47.5h1v1h-1zM156.8 47.6h1v1h-1zM162.4 47h1v1h-1zM160.1 45.7h1v1h-1zM161 45.6h1v1h-1zM159.5 45.5h1v1h-1zM162.7 45h1v1h-1zM161.2 44h1v1h-1zM159.2 43.5h1v1h-1zM160.1 47.5h1v1h-1zM161.1 45.2h1v1h-1zM161.6 45.5h1v1h-1zM161.2 46.7h1v1h-1zM161.5 41.4h1v1h-1zM158.1 47.7h1v1h-1zM160.3 50.5h1v1h-1zM160.1 45.1h1v1h-1zM163.2 47.3h1v1h-1zM164 47.2h1v1h-1zM160.1 47.6h1v1h-1zM159.1 45.3h1v1h-1zM159.5 45.8h1v1h-1zM161.9 45.3h1v1h-1zM161.1 45.2h1v1h-1zM162.1 40.9h1v1h-1zM160.1 46.5h1v1h-1zM158.5 48.2h1v1h-1zM160.9 48.7h1v1h-1zM162.3 47.4h1v1h-1zM160.2 44.1h1v1h-1zM160.1 45.3h1v1h-1zM161 45.3h1v1h-1zM166.1 43.1h1v1h-1zM162.7 45.3h1v1h-1zM160.1 48h1v1h-1zM160.5 43.9h1v1h-1zM161.3 45.8h1v1h-1zM156.7 46.6h1v1h-1zM158.6 44.8h1v1h-1zM161.4 46.8h1v1h-1zM160 50.4h1v1h-1zM161.3 45h1v1h-1zM160.9 46h1v1h-1zM156.5 43.2h1v1h-1zM157.9 50.2h1v1h-1zM160.2 45.7h1v1h-1zM159.5 48.1h1v1h-1zM160.6 49.5h1v1h-1zM161.9 49.4h1v1h-1zM160.3 46.9h1v1h-1zM159.7 45.9h1v1h-1zM157.3 45.1h1v1h-1zM158.8 44.9h1v1h-1zM162.7 46.7h1v1h-1zM162.7 47.9h1v1h-1zM162.2 48.1h1v1h-1zM159.4 47.7h1v1h-1zM159.9 45.2h1v1h-1zM162.7 50.4h1v1h-1zM158.7 49.5h1v1h-1zM162 44.6h1v1h-1zM161 46.9h1v1h-1zM161.2 45.5h1v1h-1zM158.1 46.3h1v1h-1zM162.1 47.7h1v1h-1zM161.7 48.3h1v1h-1zM158.7 46.1h1v1h-1zM161.1 48.1h1v1h-1zM160.8 47.2h1v1h-1zM160.7 50.2h1v1h-1zM156.5 46.2h1v1h-1zM165 46.7h1v1h-1zM157.1 46.5h1v1h-1zM157.9 44.9h1v1h-1zM160.9 49.5h1v1h-1zM161.3 47.5h1v1h-1zM162.4 46.6h1v1h-1zM158.9 46h1v1h-1zM161.1 45.7h1v1h-1zM159.3 45.5h1v1h-1zM157.8 44.2h1v1h-1zM160.3 45.5h1v1h-1zM160.6 48.9h1v1h-1zM161 46.1h1v1h-1zM158.4 44.1h1v1h-1zM161.2 44.5h1v1h-1zM161.3 44.1h1v1h-1zM160.7 46.1h1v1h-1zM162.3 45.4h1v1h-1zM159.8 46.7h1v1h-1zM160.6 49.5h1v1h-1zM160 45.2h1v1h-1zM159.9 47.1h1v1h-1zM160.9 47.5h1v1h-1zM158 51h1v1h-1zM163.9 46.1h1v1h-1zM158.3 46.5h1v1h-1zM161.3 41.9h1v1h-1zM160.5 43.4h1v1h-1zM161.3 48.9h1v1h-1zM162.4 43.3h1v1h-1zM163 47.9h1v1h-1zM159.8 47.2h1v1h-1zM163.3 45.6h1v1h-1zM160.5 45.1h1v1h-1zM162.6 42.1h1v1h-1zM163.1 44.3h1v1h-1zM162.2 43.1h1v1h-1zM158.8 45h1v1h-1zM162 43.1h1v1h-1zM161.6 45h1v1h-1zM162.8 45.6h1v1h-1zM161.4 45.9h1v1h-1zM163.8 45.5h1v1h-1zM160.5 50h1v1h-1zM160.6 47.5h1v1h-1zM159.2 46.6h1v1h-1zM156.4 46.4h1v1h-1zM159.3 43.3h1v1h-1zM157.9 48.4h1v1h-1zM161.3 43.3h1v1h-1zM163.8 44.9h1v1h-1zM159.8 46.7h1v1h-1zM158.4 43.1h1v1h-1zM159.1 48.5h1v1h-1zM162.2 43.2h1v1h-1zM162.7 46.3h1v1h-1zM161.4 46.3h1v1h-1zM161.3 44.3h1v1h-1zM158.8 44.8h1v1h-1zM159.8 47.4h1v1h-1zM158.3 49.3h1v1h-1zM159.3 45.1h1v1h-1zM161.8 47h1v1h-1zM159.9 44.1h1v1h-1zM158.7 43.1h1v1h-1zM162.6 48.3h1v1h-1zM163.9 47.2h1v1h-1zM161.1 47.7h1v1h-1zM162.2 45.7h1v1h-1zM161.1 50.3h1v1h-1zM157.4 43.5h1v1h-1zM158.7 47.7h1v1h-1zM162.7 45.5h1v1h-1zM161.7 46.1h1v1h-1zM161 45.2h1v1h-1zM160.5 46.2h1v1h-1zM162.6 50.5h1v1h-1zM157.2 47.2h1v1h-1zM160.5 48.1h1v1h-1zM162.4 47.7h1v1h-1zM162 44.4h1v1h-1zM157.4 49.4h1v1h-1zM162.7 44.4h1v1h-1zM162.9 47.5h1v1h-1zM156 47.9h1v1h-1zM158.7 48.4h1v1h-1zM159.3 44.8h1v1h-1zM157.7 45.8h1v1h-1zM162.4 44.9h1v1h-1zM157.1 50.3h1v1h-1zM163.9 47.5h1v1h-1zM159.5 43.9h1v1h-1zM157.5 47.3h1v1h-1zM162.9 44.2h1v1h-1zM160.5 45.7h1v1h-1zM160 47.2h1v1h-1zM164.3 45h1v1h-1zM162.1 48.3h1v1h-1zM160 45.9h1v1h-1zM158 48.3h1v1h-1zM159.5 44.9h1v1h-1zM160.6 44.5h1v1h-1zM158.6 45.6h1v1h-1zM163.2 45.8h1v1h-1zM161.5 43.4h1v1h-1zM156.9 49.7h1v1h-1zM159.8 43.2h1v1h-1zM160.3 47.4h1v1h-1zM157.3 44.5h1v1h-1zM161 44.4h1v1h-1zM162 48.1h1v1h-1zM161.3 45.4h1v1h-1zM160.4 45h1v1h-1zM160.3 46.8h1v1h-1zM159.9 48.1h1v1h-1zM165.3 45.1h1v1h-1zM161.1 47.8h1v1h-1zM161.7 45.7h1v1h-1zM159.6 48.1h1v1h-1zM161.6 47.2h1v1h-1zM159 47.4h1v1h-1zM162 45.8h1v1h-1zM161.7 50.4h1v1h-1zM157.1 47.4h1v1h-1zM158.4 43.6h1v1h-1zM160.1 47.3h1v1h-1zM160.6 43.9h1v1h-1zM157.9 45.1h1v1h-1zM160.5 44.6h1v1h-1zM157.7 49.6h1v1h-1zM159 45.9h1v1h-1zM159.5 45.1h1v1h-1zM160.6 45.6h1v1h-1zM161.6 43.9h1v1h-1zM157.8 50h1v1h-1zM160.4 47.7h1v1h-1zM162.7 47.3h1v1h-1zM160.6 43.2h1v1h-1zM157.6 48.1h1v1h-1zM161.7 47.3h1v1h-1zM157.4 42.1h1v1h-1zM158.6 43.9h1v1h-1zM160.8 44.2h1v1h-1zM163.4 45h1v1h-1zM159.5 47.9h1v1h-1zM161.1 44.5h1v1h-1zM162 49.9h1v1h-1zM158.2 45.7h1v1h-1zM158.5 42.4h1v1h-1zM161.7 47.6h1v1h-1zM162.3 47h1v1h-1zM156.8 46.1h1v1h-1zM159.3 43.9h1v1h-1zM158.5 47.7h1v1h-1zM160 50h1v1h-1zM161.4 42.5h1v1h-1zM162.1 48.6h1v1h-1zM160.6 43.8h1v1h-1zM163.8 43.6h1v1h-1zM160.3 42.5h1v1h-1zM158.2 42.9h1v1h-1zM162.5 48.5h1v1h-1zM159.8 43.6h1v1h-1zM160.4 46.9h1v1h-1zM157.7 43.9h1v1h-1zM160.3 47.6h1v1h-1zM160.6 47.1h1v1h-1zM158.2 41.3h1v1h-1zM161.1 44.4h1v1h-1zM160.3 45.5h1v1h-1zM161.4 44.7h1v1h-1zM163.2 46.3h1v1h-1zM161.5 47.4h1v1h-1zM162.4 47h1v1h-1zM157.3 45h1v1h-1zM164 47.1h1v1h-1zM161.5 47.1h1v1h-1zM159.3 44.9h1v1h-1zM159.3 48.5h1v1h-1zM161.2 49.7h1v1h-1zM161.4 49.9h1v1h-1zM161.4 43.9h1v1h-1zM163.7 46.9h1v1h-1zM162.7 46.6h1v1h-1zM159.9 46.5h1v1h-1zM158.4 43.9h1v1h-1zM158.8 45.2h1v1h-1zM158 46h1v1h-1zM161.1 50.2h1v1h-1zM163.9 46.1h1v1h-1zM162.1 45.8h1v1h-1zM161.2 46.1h1v1h-1zM159.5 46.3h1v1h-1zM157.7 47.1h1v1h-1zM160 44.1h1v1h-1zM159.8 47.3h1v1h-1zM159.2 47.1h1v1h-1zM161.6 49.3h1v1h-1zM158.5 46h1v1h-1zM161.5 49.2h1v1h-1zM161 47.7h1v1h-1zM157.8 45.1h1v1h-1zM163.6 45.6h1v1h-1zM164.5 44.8h1v1h-1zM160 43.1h1v1h-1zM161.7 46.7h1v1h-1zM164.3 46.5h1v1h-1zM160 43.4h1v1h-1zM160.3 48.1h1v1h-1zM161.9 48.6h1v1h-1zM162.1 46.1h1v1h-1zM161.6 46.5h1v1h-1zM158 49.6h1v1h-1zM161.2 44.1h1v1h-1zM161.2 46.8h1v1h-1zM162.4 49.1h1v1h-1zM154.8 47.3h1v1h-1zM163.4 44.3h1v1h-1zM157 46.8h1v1h-1zM161.1 46.9h1v1h-1zM158.4 45.3h1v1h-1zM160.9 47.7h1v1h-1zM164.6 46.8h1v1h-1z"/>
<path fill="#555" d="M158.8 40h1v1h-1zM163.5 46.1h1v1h-1zM160.2 43.8h1v1h-1zM162.5 41.5h1v1h-1zM160.8 46.8h1v1h-1zM161.3 50.1h1v1h-1zM160.2 46.8h1v1h-1zM162.9 42.2h1v1h-1zM159.7 46.7h1v1h-1zM163.2 44.3h1v1h-1zM162.7 47.6h1v1h-1zM156.4 42.4h1v1h-1zM156.5 46.9h1v1h-1zM161.1 48.5h1v1h-1zM162.8 45h1v1h-1zM163.5 48.8h1v1h-1zM161.8 47.8h1v1h-1zM156.9 47.5h1v1h-1zM157.6 43.2h1v1h-1zM159.5 46.9h1v1h-1zM160.4 45.6h1v1h-1zM157.7 47h1v1h-1zM158.4 42.6h1v1h-1zM160.8 50.5h1v1h-1zM159.4 43.5h1v1h-1zM164.4 51.3h1v1h-1zM159.7 45.9h1v1h-1zM161.1 54.7h1v1h-1zM160.9 49.3h1v1h-1zM161.7 41.4h1v1h-1zM157.4 43.1h1v1h-1zM161.7 46.8h1v1h-1zM165.5 45.7h1v1h-1zM161.4 46.7h1v1h-1zM160.9 53h1v1h-1zM161.3 50.6h1v1h-1zM164.1 44.8h1v1h-1zM162.4 45.4h1v1h-1zM160.8 46.9h1v1h-1zM160.6 45.2h1v1h-1zM164.8 45.8h1v1h-1zM162.5 51.2h1v1h-1zM162.2 49.4h1v1h-1zM164.4 49.5h1v1h-1zM165.3 42.5h1v1h-1zM166 46.6h1v1h-1zM155.6 44.7h1v1h-1zM156.6 46.4h1v1h-1zM156.3 43.7h1v1h-1zM161.3 46.9h1v1h-1zM158.3 45.8h1v1h-1zM160.2 46.7h1v1h-1zM160.5 45.9h1v1h-1zM163 42h1v1h-1zM159.1 46.9h1v1h-1zM159.4 45h1v1h-1zM159.3 47.1h1v1h-1zM164 46h1v1h-1zM159.8 47.5h1v1h-1zM159.8 41.1h1v1h-1zM161.3 45.4h1v1h-1zM158.9 48.3h1v1h-1zM160.6 44.9h1v1h-1zM154.4 41.7h1v1h-1zM160.5 46.2h1v1h-1zM161.7 47.1h1v1h-1zM159.2 43h1v1h-1zM157.4 46.1h1v1h-1zM157.3 48.6h1v1h-1zM156.8 41.5h1v1h-1zM160 41.5h1v1h-1zM165.1 43.7h1v1h-1zM160.4 45.8h1v1h-1zM158.2 41.6h1v1h-1zM155.3 48.9h1v1h-1zM163.4 52.6h1v1h-1zM156.4 48.1h1v1h-1zM160.5 48.9h1v1h-1zM159.1 48.5h1v1h-1zM163 48.2h1v1h-1zM164.6 46h1v1h-1zM164.8 44.5h1v1h-1zM165.2 38.8h1v1h-1zM160.5 44.3h1v1h-1zM160.5 49.4h1v1h-1zM162.5 46.8h1v1h-1zM165.3 42.4h1v1h-1zM158.2 50.7h1v1h-1zM161.4 40.7h1v1h-1zM161.5 43.2h1v1h-1z"/>
</g>
<rect x="134.1" y="25.7" width="57.4" height="39.1" fill="none" stroke="#111" stroke-width="1.1"/>
<line x1="150.6" y1="25.7" x2="150.6" y2="64.8" stroke="#111" stroke-width="1.1"/>
<line x1="134.1" y1="52.3" x2="191.5" y2="52.3" stroke="#111" stroke-width="1.1"/>
<text x="184.3" y="32.3" font-size="7" font-weight="bold" fill="#000">b</text>
<text x="128.3" y="28.4" font-size="4.2" font-weight="bold" fill="#111">1</text>
<text x="130.5" y="26.9" font-size="2.8" font-weight="bold" fill="#111">0</text>
<text x="128.3" y="37.7" font-size="4.2" font-weight="bold" fill="#111">1</text>
<text x="130.5" y="36.2" font-size="2.8" font-weight="bold" fill="#111">0</text>
<text x="128.3" y="47" font-size="4.2" font-weight="bold" fill="#111">1</text>
<text x="130.5" y="45.5" font-size="2.8" font-weight="bold" fill="#111">0</text>
<text x="128.3" y="56.2" font-size="4.2" font-weight="bold" fill="#111">1</text>
<text x="130.5" y="54.7" font-size="2.8" font-weight="bold" fill="#111">0</text>
<text x="128.3" y="65.5" font-size="4.2" font-weight="bold" fill="#111">1</text>
<text x="130.5" y="64" font-size="2.8" font-weight="bold" fill="#111">0</text>
<text x="132.3" y="69.6" font-size="4.2" font-weight="bold" fill="#111">1</text>
<text x="134.4" y="68.2" font-size="2.8" font-weight="bold" fill="#111">0</text>
<text x="146.6" y="69.6" font-size="4.2" font-weight="bold" fill="#111">1</text>
<text x="148.8" y="68.2" font-size="2.8" font-weight="bold" fill="#111">0</text>
<text x="161" y="69.6" font-size="4.2" font-weight="bold" fill="#111">1</text>
<text x="163.1" y="68.2" font-size="2.8" font-weight="bold" fill="#111">0</text>
<text x="175.3" y="69.6" font-size="4.2" font-weight="bold" fill="#111">1</text>
<text x="177.5" y="68.2" font-size="2.8" font-weight="bold" fill="#111">0</text>
<text x="189.7" y="69.6" font-size="4.2" font-weight="bold" fill="#111">1</text>
<text x="191.8" y="68.2" font-size="2.8" font-weight="bold" fill="#111">0</text>
<line x1="119.2" y1="45.7" x2="119.2" y2="69" stroke="#000" stroke-width="1.1"/>
<path d="M119.2 42.7l-1.8 4h3.6z" fill="#000"/>
<text x="0" y="0" font-size="7" font-weight="bold" text-anchor="middle" transform="translate(120.7 28.8) scale(0.82 1) rotate(-90)" fill="#000">CD56</text>
<line x1="121" y1="77.7" x2="138.5" y2="77.7" stroke="#000" stroke-width="1.1"/>
<path d="M141.5 77.7l-4 -1.8v3.6z" fill="#000"/>
<text x="143.6" y="80.4" font-size="7.4" fill="#000">KIR2DL1/2DS1</text>
<text x="144.5" y="88.4" font-size="7.6" fill="#000">(anti-CD158a)</text>
<g filter="url(#bd)">
<path fill="#555" d="M235.2 47.6h1v1h-1zM228.7 47.8h1v1h-1zM227.8 47.2h1v1h-1zM232.4 45.3h1v1h-1zM226 45h1v1h-1zM223.2 44.5h1v1h-1zM224.6 47.7h1v1h-1zM227.4 41.1h1v1h-1zM232.4 46.2h1v1h-1zM228.9 49.3h1v1h-1zM233 45.6h1v1h-1zM228.4 40.2h1v1h-1zM232 47.2h1v1h-1zM228.6 43h1v1h-1zM230.4 42.5h1v1h-1zM230.5 46.9h1v1h-1zM235.3 46h1v1h-1zM231.1 46.8h1v1h-1zM235 44.9h1v1h-1zM226.6 44.1h1v1h-1zM226.5 43.9h1v1h-1zM230.1 46.1h1v1h-1zM231 45.6h1v1h-1zM229.4 46.3h1v1h-1zM233.3 46.9h1v1h-1zM235.3 45h1v1h-1zM229.7 48.6h1v1h-1zM231.1 46.2h1v1h-1zM229.4 47.2h1v1h-1zM229.2 43.7h1v1h-1zM230.3 44.7h1v1h-1zM233.2 44.8h1v1h-1zM230.9 45.1h1v1h-1zM231.6 44.4h1v1h-1zM234 42.9h1v1h-1zM229.3 44.2h1v1h-1zM232.6 45.6h1v1h-1zM232.1 44.9h1v1h-1zM228.2 43.5h1v1h-1zM229.4 44.5h1v1h-1zM231.4 46.1h1v1h-1zM233.6 45.3h1v1h-1zM228.1 43.6h1v1h-1zM230.7 46.1h1v1h-1zM236.7 45.8h1v1h-1zM236.1 48.9h1v1h-1zM227.1 47.7h1v1h-1zM234.1 47.9h1v1h-1zM230.5 47.2h1v1h-1zM229 45.4h1v1h-1zM230.6 48.7h1v1h-1zM229.8 47.2h1v1h-1zM230.7 44.2h1v1h-1zM231.3 46.7h1v1h-1zM228.2 46.6h1v1h-1zM228.2 43.9h1v1h-1zM231.2 45.1h1v1h-1zM227.4 42.6h1v1h-1zM230.6 45.9h1v1h-1zM229 45.8h1v1h-1zM225.6 46.2h1v1h-1zM231.8 46h1v1h-1zM228.5 45.6h1v1h-1zM230.9 47.4h1v1h-1zM231.4 46h1v1h-1zM228.2 47.1h1v1h-1zM234.3 44.6h1v1h-1zM232.5 46.1h1v1h-1zM230.4 43.2h1v1h-1zM236.1 42.1h1v1h-1zM231.5 44.8h1v1h-1zM234.2 44.7h1v1h-1zM230.6 46.6h1v1h-1zM232 44.6h1v1h-1zM232.7 46.2h1v1h-1zM233.7 44.6h1v1h-1zM230.4 44.8h1v1h-1zM227.8 46h1v1h-1zM231.8 48.1h1v1h-1zM229.5 46.2h1v1h-1zM234.1 45.3h1v1h-1zM230.7 45.7h1v1h-1zM228.3 43.7h1v1h-1zM234.1 45.8h1v1h-1zM230.3 43.3h1v1h-1zM230.9 47.6h1v1h-1zM226.8 43.9h1v1h-1zM234 48.1h1v1h-1zM235.5 44.5h1v1h-1zM232.4 44.2h1v1h-1zM232.2 44.8h1v1h-1zM231.1 47.9h1v1h-1zM231.6 45.1h1v1h-1zM230.7 46h1v1h-1zM228.9 45.9h1v1h-1zM232.4 48.3h1v1h-1zM223.9 43.4h1v1h-1zM226.6 47.1h1v1h-1zM238.3 45.8h1v1h-1zM230.9 47.5h1v1h-1zM228.9 44.6h1v1h-1zM231.6 44.5h1v1h-1zM234 45.5h1v1h-1zM231.7 50h1v1h-1zM229.1 47.2h1v1h-1zM227.9 47.7h1v1h-1zM233.6 45.8h1v1h-1zM233.7 48.4h1v1h-1zM234.9 45.5h1v1h-1zM230.3 47.5h1v1h-1zM225.8 44.4h1v1h-1zM232 46.5h1v1h-1zM236.4 48.6h1v1h-1zM231.5 46.3h1v1h-1zM226.3 45.2h1v1h-1zM231.3 45.1h1v1h-1zM230.7 46.6h1v1h-1zM227.5 44.5h1v1h-1zM224.9 47.5h1v1h-1zM227.2 42.5h1v1h-1zM232.9 45.1h1v1h-1zM233.6 44.8h1v1h-1zM237.2 46.8h1v1h-1zM231 45.7h1v1h-1zM229.8 46.9h1v1h-1zM236.8 44.7h1v1h-1zM227.1 46.6h1v1h-1zM233.9 42.8h1v1h-1zM228.3 43.7h1v1h-1zM232.3 46.4h1v1h-1zM228.2 43.5h1v1h-1zM232.7 41.8h1v1h-1zM232.5 45.2h1v1h-1zM236.6 47.3h1v1h-1zM228.7 45h1v1h-1zM229.6 44.2h1v1h-1zM230.8 47.2h1v1h-1zM225.7 45.1h1v1h-1zM235.2 46.8h1v1h-1zM227.9 44.1h1v1h-1zM227.8 42.7h1v1h-1zM234.1 45.6h1v1h-1zM228.3 43h1v1h-1zM229.3 44.6h1v1h-1zM235.9 44.7h1v1h-1zM230.9 47.4h1v1h-1zM232.6 45.2h1v1h-1zM223.6 48h1v1h-1zM232.4 44.7h1v1h-1zM230.2 43.8h1v1h-1zM227.7 42.9h1v1h-1zM232.1 46.4h1v1h-1zM231 46.9h1v1h-1zM232.2 45.7h1v1h-1zM227.7 46.5h1v1h-1zM234.2 46.6h1v1h-1zM234.4 44.7h1v1h-1zM227.4 47.7h1v1h-1zM228.7 45.9h1v1h-1zM229.9 45.5h1v1h-1zM229.6 44.5h1v1h-1zM224.9 48.9h1v1h-1zM231.1 42.1h1v1h-1zM227.7 43.5h1v1h-1zM228.2 41h1v1h-1zM232.3 48.4h1v1h-1zM229.7 46.8h1v1h-1zM232.4 43.3h1v1h-1zM234.3 42.5h1v1h-1zM228.7 44.9h1v1h-1zM234.4 45.7h1v1h-1zM230.1 44.1h1v1h-1zM230.8 45.6h1v1h-1zM232.8 48h1v1h-1zM232.8 45.5h1v1h-1zM230 48.3h1v1h-1zM231.1 45.5h1v1h-1zM236.1 48.3h1v1h-1zM232.3 45.3h1v1h-1zM228.5 47.4h1v1h-1zM229.1 47.2h1v1h-1zM228 45.7h1v1h-1zM231.8 45.8h1v1h-1zM231.2 46.2h1v1h-1zM227 43.5h1v1h-1zM230 48.7h1v1h-1zM230.1 43.9h1v1h-1zM228.4 45.6h1v1h-1zM234.2 44.5h1v1h-1zM232.3 45.8h1v1h-1zM229.4 43.8h1v1h-1zM230 44.2h1v1h-1zM232.2 42.4h1v1h-1zM234 46.8h1v1h-1zM232.3 48.1h1v1h-1zM232.4 42.5h1v1h-1zM230.7 46.3h1v1h-1zM228.4 43.5h1v1h-1zM231.9 46.4h1v1h-1zM229.2 45.1h1v1h-1zM228.9 44.5h1v1h-1zM230.3 47.4h1v1h-1zM225.5 44.9h1v1h-1zM235.5 46.1h1v1h-1zM231 47h1v1h-1zM227.4 43.4h1v1h-1zM225.3 42.9h1v1h-1zM231.3 47h1v1h-1zM229.2 44.3h1v1h-1zM231.8 46.6h1v1h-1zM231.3 42.2h1v1h-1zM228.8 41.1h1v1h-1zM231.3 44h1v1h-1zM228.5 48.1h1v1h-1zM234.6 46.3h1v1h-1zM231.4 45.8h1v1h-1zM228.7 45.4h1v1h-1zM236.5 44h1v1h-1zM228.4 45.8h1v1h-1zM233.3 47h1v1h-1zM227.5 45.3h1v1h-1zM229.7 43.3h1v1h-1zM230.7 44.7h1v1h-1zM233.4 46.3h1v1h-1zM228.1 45.6h1v1h-1zM229.4 44.4h1v1h-1zM229 47.4h1v1h-1zM229.2 42.5h1v1h-1zM228.1 46.9h1v1h-1zM237.2 43.7h1v1h-1zM229.4 44.9h1v1h-1zM226.1 46.2h1v1h-1zM230.3 46h1v1h-1zM237.5 45h1v1h-1zM233 47h1v1h-1zM228.5 44.5h1v1h-1zM235.3 46.8h1v1h-1zM230.9 43.6h1v1h-1zM233.2 46.4h1v1h-1zM237.3 48.1h1v1h-1zM233 46h1v1h-1zM230.7 44.5h1v1h-1zM231.5 45.9h1v1h-1zM232.5 47.4h1v1h-1zM231.5 44.6h1v1h-1zM233 48.2h1v1h-1zM227.9 46.2h1v1h-1zM232.2 46.4h1v1h-1zM232.1 45.3h1v1h-1zM230.2 48.5h1v1h-1zM235.9 43h1v1h-1zM228.4 44.6h1v1h-1zM225.5 46.1h1v1h-1zM230.3 44.6h1v1h-1zM233.3 49.8h1v1h-1zM235.1 47.6h1v1h-1zM229.2 46.7h1v1h-1z"/>
<path fill="#888" d="M230.3 48.2h1v1h-1zM232.9 45.4h1v1h-1zM232.8 43.8h1v1h-1zM233.7 49h1v1h-1zM229 46.8h1v1h-1zM223.7 47.7h1v1h-1zM234.1 43.1h1v1h-1zM237.6 45.8h1v1h-1zM223.4 42.3h1v1h-1zM234.1 44.9h1v1h-1zM235 41.9h1v1h-1zM230.1 47.8h1v1h-1zM227.7 47.1h1v1h-1zM229 46.3h1v1h-1zM231.8 50.7h1v1h-1zM225.4 47.3h1v1h-1zM235.9 42.9h1v1h-1zM230.8 50.9h1v1h-1zM234.8 38.6h1v1h-1zM229.5 41.5h1v1h-1zM231.7 43.8h1v1h-1zM228.2 43.5h1v1h-1zM231.7 44.4h1v1h-1zM226.8 45h1v1h-1zM232.2 43.5h1v1h-1zM235 41.6h1v1h-1zM232.2 44.6h1v1h-1zM236.9 44h1v1h-1zM227.8 42.4h1v1h-1zM238.6 46.9h1v1h-1zM226.1 44.7h1v1h-1zM226.6 49.1h1v1h-1zM232.2 40.8h1v1h-1zM231.4 47.6h1v1h-1zM230.5 46.6h1v1h-1zM230.1 46h1v1h-1zM231.4 43.9h1v1h-1zM231.9 45.9h1v1h-1zM230.3 43.9h1v1h-1zM226.4 46.1h1v1h-1zM233.9 39.9h1v1h-1zM228.3 48.7h1v1h-1zM234.2 43.8h1v1h-1zM236 43.2h1v1h-1zM227.3 50h1v1h-1zM228.7 45h1v1h-1zM223.8 43.1h1v1h-1zM225.7 45.2h1v1h-1zM223 48h1v1h-1zM229 44.1h1v1h-1zM227.9 47.2h1v1h-1zM236.8 44.5h1v1h-1zM237.1 49.3h1v1h-1zM236 46.2h1v1h-1zM224.4 47.1h1v1h-1zM228.8 46h1v1h-1zM231.5 43.3h1v1h-1zM231.7 49.4h1v1h-1zM231.4 43.9h1v1h-1zM240.2 40.5h1v1h-1zM226.7 46.5h1v1h-1zM228.1 40.1h1v1h-1zM231.6 47.4h1v1h-1zM227.3 48.9h1v1h-1zM232.5 48.3h1v1h-1zM224.3 45.5h1v1h-1zM237 50.2h1v1h-1zM235.9 45.5h1v1h-1zM231.2 44h1v1h-1zM235 43.9h1v1h-1zM231 40.7h1v1h-1zM224.3 49.7h1v1h-1zM230.7 46h1v1h-1zM239 42h1v1h-1zM228.3 45h1v1h-1zM225.4 42.3h1v1h-1zM225.4 47h1v1h-1z"/>
</g>
<rect x="222.4" y="25.4" width="58.6" height="39.4" fill="none" stroke="#111" stroke-width="1.1"/>
<line x1="238.6" y1="25.4" x2="238.6" y2="64.8" stroke="#111" stroke-width="1.1"/>
<line x1="222.4" y1="52.3" x2="281" y2="52.3" stroke="#111" stroke-width="1.1"/>
<text x="272.6" y="32.8" font-size="7" font-weight="bold" fill="#000">c</text>
<text x="216.6" y="28.1" font-size="4.2" font-weight="bold" fill="#111">1</text>
<text x="218.8" y="26.6" font-size="2.8" font-weight="bold" fill="#111">0</text>
<text x="216.6" y="37.5" font-size="4.2" font-weight="bold" fill="#111">1</text>
<text x="218.8" y="36" font-size="2.8" font-weight="bold" fill="#111">0</text>
<text x="216.6" y="46.8" font-size="4.2" font-weight="bold" fill="#111">1</text>
<text x="218.8" y="45.3" font-size="2.8" font-weight="bold" fill="#111">0</text>
<text x="216.6" y="56.1" font-size="4.2" font-weight="bold" fill="#111">1</text>
<text x="218.8" y="54.6" font-size="2.8" font-weight="bold" fill="#111">0</text>
<text x="216.6" y="65.5" font-size="4.2" font-weight="bold" fill="#111">1</text>
<text x="218.8" y="64" font-size="2.8" font-weight="bold" fill="#111">0</text>
<text x="220.6" y="69.6" font-size="4.2" font-weight="bold" fill="#111">1</text>
<text x="222.7" y="68.2" font-size="2.8" font-weight="bold" fill="#111">0</text>
<text x="235.2" y="69.6" font-size="4.2" font-weight="bold" fill="#111">1</text>
<text x="237.4" y="68.2" font-size="2.8" font-weight="bold" fill="#111">0</text>
<text x="249.9" y="69.6" font-size="4.2" font-weight="bold" fill="#111">1</text>
<text x="252" y="68.2" font-size="2.8" font-weight="bold" fill="#111">0</text>
<text x="264.6" y="69.6" font-size="4.2" font-weight="bold" fill="#111">1</text>
<text x="266.7" y="68.2" font-size="2.8" font-weight="bold" fill="#111">0</text>
<text x="279.2" y="69.6" font-size="4.2" font-weight="bold" fill="#111">1</text>
<text x="281.3" y="68.2" font-size="2.8" font-weight="bold" fill="#111">0</text>
<line x1="209.2" y1="45.7" x2="209.2" y2="69" stroke="#000" stroke-width="1.1"/>
<path d="M209.2 42.7l-1.8 4h3.6z" fill="#000"/>
<text x="0" y="0" font-size="7" font-weight="bold" text-anchor="middle" transform="translate(210.7 28.8) scale(0.82 1) rotate(-90)" fill="#000">CD56</text>
<line x1="210" y1="77.3" x2="228" y2="77.3" stroke="#000" stroke-width="1.1"/>
<path d="M231 77.3l-4 -1.8v3.6z" fill="#000"/>
<text x="233.3" y="80" font-size="7.4" fill="#000">KIR2DL2/2DS2</text>
<text x="234.2" y="88" font-size="7.6" fill="#000">(anti-CD158b)</text>
<text x="286.8" y="44.5" font-size="7.7" fill="#000">NK-LGL</text>
<text x="286.8" y="53.3" font-size="7.7" fill="#000">Patient</text>
<g filter="url(#bd)">
<path fill="#1a1a1a" d="M53.9 142.4h1v1h-1zM51.2 141.7h1v1h-1zM52.8 140.3h1v1h-1zM56.5 140.1h1v1h-1zM53.1 135.1h1v1h-1zM54.2 142.3h1v1h-1zM52.3 139.8h1v1h-1zM49.3 136.1h1v1h-1zM55.1 143.8h1v1h-1zM53.2 135.1h1v1h-1zM53 135.4h1v1h-1zM53.3 145.7h1v1h-1zM54.8 139.6h1v1h-1zM56.7 138.9h1v1h-1zM54.9 140.6h1v1h-1zM55.2 135.7h1v1h-1zM55.9 142.6h1v1h-1zM48 132h1v1h-1zM51.6 144.4h1v1h-1zM54.1 142h1v1h-1zM55.5 142.6h1v1h-1zM52.3 138.3h1v1h-1zM55 141.8h1v1h-1zM55.5 141h1v1h-1zM52.7 143.3h1v1h-1zM55.3 143.1h1v1h-1zM47.3 143h1v1h-1zM47.5 140.6h1v1h-1zM52.2 140.4h1v1h-1zM52.7 139.1h1v1h-1zM54.5 141h1v1h-1zM51.9 132.5h1v1h-1zM51.9 141.6h1v1h-1zM51.8 141.3h1v1h-1zM53 137.2h1v1h-1zM57.1 144.9h1v1h-1zM53.7 139.9h1v1h-1zM56.6 136.1h1v1h-1zM51.7 143.4h1v1h-1zM56.4 138.5h1v1h-1zM51.9 141h1v1h-1zM50.2 138.5h1v1h-1zM53.4 132.7h1v1h-1zM55.6 142.3h1v1h-1zM56.8 135.7h1v1h-1zM50.6 137.6h1v1h-1zM50.5 146.1h1v1h-1zM51.4 139.1h1v1h-1zM54.6 141.4h1v1h-1zM57.9 136.8h1v1h-1zM56.4 140.4h1v1h-1zM50.9 140.4h1v1h-1zM50.3 144.8h1v1h-1zM52 143h1v1h-1zM57.5 138.2h1v1h-1zM51.6 140.4h1v1h-1zM51.2 142.7h1v1h-1zM54.5 137.7h1v1h-1zM52.2 142.2h1v1h-1zM50.1 145h1v1h-1zM51.9 139.4h1v1h-1zM51.5 144.8h1v1h-1zM56.2 143.9h1v1h-1zM55.8 140.3h1v1h-1zM58.5 142h1v1h-1zM55.2 141.7h1v1h-1zM56 140.8h1v1h-1zM53.6 135.2h1v1h-1zM59.5 136.1h1v1h-1zM48.2 137.9h1v1h-1zM59.2 143.6h1v1h-1zM52.4 140.8h1v1h-1zM53.9 134.1h1v1h-1zM53.1 140.9h1v1h-1zM57.2 136.4h1v1h-1zM47.9 135.3h1v1h-1zM54.9 140.2h1v1h-1zM54.4 140.4h1v1h-1zM53 135.9h1v1h-1zM55.2 141.2h1v1h-1zM55.6 143.7h1v1h-1zM50.7 133h1v1h-1zM51.5 141.2h1v1h-1zM54 142.2h1v1h-1zM62.7 138.5h1v1h-1zM53.5 138.2h1v1h-1zM54.7 141.6h1v1h-1zM51.4 143.9h1v1h-1zM57.1 141.3h1v1h-1zM53.7 139.3h1v1h-1zM49.6 142h1v1h-1zM51.4 138.5h1v1h-1zM56.7 137.2h1v1h-1zM52.6 142.6h1v1h-1zM59 137.9h1v1h-1zM57 138h1v1h-1zM55 141.5h1v1h-1zM50.9 143.1h1v1h-1zM58.9 140.2h1v1h-1zM54.7 136.5h1v1h-1zM58.8 140.2h1v1h-1zM50.6 142.3h1v1h-1zM50.1 137.9h1v1h-1zM48.2 144.1h1v1h-1zM60 138.1h1v1h-1zM52.2 138.3h1v1h-1zM52.5 141.7h1v1h-1zM57.9 137h1v1h-1zM55.2 134.6h1v1h-1zM58.1 139.7h1v1h-1zM52.1 144.6h1v1h-1zM53.7 144.1h1v1h-1zM56.9 145h1v1h-1zM51.8 140.2h1v1h-1zM55 139.4h1v1h-1zM58.1 137.9h1v1h-1zM56.7 144.1h1v1h-1zM48.7 137.1h1v1h-1zM51.6 138.4h1v1h-1zM55.1 139.5h1v1h-1zM54.2 138.6h1v1h-1zM53.8 141.5h1v1h-1zM56 137.7h1v1h-1zM53.7 137.7h1v1h-1zM53.5 135.7h1v1h-1zM56.6 142h1v1h-1zM53.7 137.9h1v1h-1zM52.8 138h1v1h-1zM49.8 144.9h1v1h-1zM62.9 136.3h1v1h-1zM50.8 141.7h1v1h-1zM55.6 135.3h1v1h-1zM48.8 141.6h1v1h-1zM48.6 144.3h1v1h-1zM52.7 140.3h1v1h-1zM54 138.3h1v1h-1zM53.6 139.1h1v1h-1zM57.4 139.7h1v1h-1zM53.9 138.4h1v1h-1zM52.3 137.8h1v1h-1zM54 145.5h1v1h-1zM57 140.7h1v1h-1zM58.5 143h1v1h-1zM54.6 139.5h1v1h-1zM51 140.7h1v1h-1zM53.1 135.2h1v1h-1zM50.5 145.8h1v1h-1zM54.6 141.5h1v1h-1zM54.5 138.6h1v1h-1zM55.2 143.3h1v1h-1zM53.2 141.5h1v1h-1zM56.8 138.6h1v1h-1zM54.5 137.8h1v1h-1zM55.6 138.9h1v1h-1zM57.1 137.7h1v1h-1zM58.6 139.1h1v1h-1zM51.7 137.3h1v1h-1zM55.8 137.4h1v1h-1zM58.9 143.8h1v1h-1zM55.4 135.7h1v1h-1zM53.9 137.8h1v1h-1zM49.1 141.3h1v1h-1zM59.9 138.4h1v1h-1zM56.2 143.9h1v1h-1zM51.4 139h1v1h-1zM54.7 141.4h1v1h-1zM50.9 140.6h1v1h-1zM53.7 142.9h1v1h-1zM49.7 138.3h1v1h-1zM52.6 139h1v1h-1zM56 138.1h1v1h-1zM61.4 137.9h1v1h-1zM56.3 143.1h1v1h-1zM56.6 139.4h1v1h-1zM51.8 139.2h1v1h-1zM55.8 140.4h1v1h-1zM55.6 141.7h1v1h-1zM51.6 137.2h1v1h-1zM57.9 138.5h1v1h-1zM49.7 145.6h1v1h-1zM51.7 137.2h1v1h-1zM56.6 136.6h1v1h-1zM51.6 143.1h1v1h-1zM54.3 140.2h1v1h-1zM52.3 139.3h1v1h-1zM52.6 139.9h1v1h-1zM56.1 136.2h1v1h-1zM51.5 133.7h1v1h-1zM58.1 139.8h1v1h-1zM54 139.8h1v1h-1zM56.7 141h1v1h-1zM56.3 139.5h1v1h-1zM53.7 139.8h1v1h-1zM49 143.3h1v1h-1zM49.7 137h1v1h-1zM55.8 140.2h1v1h-1zM56.2 145.1h1v1h-1zM59 144.1h1v1h-1zM53.4 146.1h1v1h-1zM51.6 139.7h1v1h-1zM56.7 139.4h1v1h-1zM53.7 138.9h1v1h-1zM57.7 132.6h1v1h-1zM57.4 143.2h1v1h-1zM53.8 141.7h1v1h-1zM51.4 143.3h1v1h-1zM62.3 137.2h1v1h-1zM57.8 139.8h1v1h-1zM53.1 138.5h1v1h-1zM53.5 136.2h1v1h-1zM50.3 145h1v1h-1zM54 141.7h1v1h-1zM54.8 141.4h1v1h-1zM49.9 137.2h1v1h-1zM55.7 143h1v1h-1zM50.9 138.3h1v1h-1zM51.1 142h1v1h-1zM54.9 140.1h1v1h-1zM52.2 141h1v1h-1zM54.1 137.8h1v1h-1zM54.9 138h1v1h-1zM56.6 141.9h1v1h-1zM52.1 141.8h1v1h-1zM54.2 137.9h1v1h-1zM51.5 135h1v1h-1zM50.9 141h1v1h-1zM57.3 138.1h1v1h-1zM54.4 141h1v1h-1zM56.1 141.3h1v1h-1zM57.3 142.3h1v1h-1zM51.9 141.2h1v1h-1zM47.7 139.5h1v1h-1zM54.1 141.7h1v1h-1zM53.2 142.5h1v1h-1zM57.6 137.5h1v1h-1zM52.5 140.8h1v1h-1zM55.3 140.4h1v1h-1zM56.2 136.5h1v1h-1zM56.1 143.5h1v1h-1zM57 141.3h1v1h-1zM53.4 141.2h1v1h-1zM53.8 135.2h1v1h-1zM52.4 139.9h1v1h-1zM52.6 137.2h1v1h-1zM53.4 138.9h1v1h-1zM54.2 139.9h1v1h-1zM54.5 143h1v1h-1zM54.4 141.2h1v1h-1zM50.7 131.2h1v1h-1zM52.9 142h1v1h-1zM53.1 138.1h1v1h-1zM50.7 142.7h1v1h-1zM52.6 140.7h1v1h-1zM57.1 141.6h1v1h-1zM60.1 139.6h1v1h-1zM56.6 142.1h1v1h-1zM52.2 140.1h1v1h-1zM52.5 136.9h1v1h-1zM54.8 137.7h1v1h-1zM58.5 137.8h1v1h-1zM52.5 140.3h1v1h-1zM52.6 140.2h1v1h-1zM52.4 135.7h1v1h-1zM47.5 136.1h1v1h-1zM58.1 141.3h1v1h-1zM54.4 138.6h1v1h-1zM53.6 140.9h1v1h-1zM50.2 137.6h1v1h-1zM51.6 143.8h1v1h-1zM51.1 143.5h1v1h-1zM53.8 140.1h1v1h-1zM57.6 142.6h1v1h-1zM56.5 136.8h1v1h-1zM57.1 145h1v1h-1zM53.7 138.5h1v1h-1zM51.1 143.1h1v1h-1zM54.8 140h1v1h-1zM50.7 144.9h1v1h-1zM56.4 139.9h1v1h-1zM58 137.1h1v1h-1zM56.4 137h1v1h-1zM57.8 139.2h1v1h-1zM57.3 138.8h1v1h-1zM55.1 143.4h1v1h-1zM51.6 140.3h1v1h-1zM51.7 142.6h1v1h-1zM52.4 138.9h1v1h-1zM53.5 143.5h1v1h-1zM51.2 139.9h1v1h-1zM53.1 138.4h1v1h-1zM51.9 139.5h1v1h-1zM54.5 135.4h1v1h-1zM54.6 136.4h1v1h-1zM51.4 139.8h1v1h-1zM53.3 142.9h1v1h-1zM52.7 134.6h1v1h-1zM49.7 140.5h1v1h-1zM54.7 143.2h1v1h-1zM52.6 142h1v1h-1zM51.1 143.9h1v1h-1zM53.8 138h1v1h-1zM54.5 145.2h1v1h-1zM51.7 136.3h1v1h-1zM51.3 136.5h1v1h-1zM53.9 141.1h1v1h-1zM53.6 140.6h1v1h-1zM57.2 139.1h1v1h-1zM50.6 133.1h1v1h-1zM54.7 138h1v1h-1zM53.3 141.2h1v1h-1zM55.2 135.3h1v1h-1zM51.4 140.2h1v1h-1zM53.6 143.4h1v1h-1zM52.6 133.8h1v1h-1zM57.2 135.1h1v1h-1zM51.4 141.2h1v1h-1zM54.6 141.6h1v1h-1zM55.5 137.8h1v1h-1zM57.4 134.9h1v1h-1zM52.4 140.9h1v1h-1zM54.4 137.1h1v1h-1zM58.3 144.4h1v1h-1zM51.5 141.1h1v1h-1zM52.3 138.7h1v1h-1zM56.7 140.4h1v1h-1zM53.7 140.3h1v1h-1zM50.8 143.7h1v1h-1zM52 143.9h1v1h-1zM52.8 138.6h1v1h-1zM58 140.6h1v1h-1zM52.3 138.4h1v1h-1zM55.6 145.6h1v1h-1zM55.7 138.8h1v1h-1zM51 138h1v1h-1zM53.7 140.7h1v1h-1zM52.2 143.8h1v1h-1zM51.4 137.9h1v1h-1zM55.3 141.4h1v1h-1zM52.9 142.9h1v1h-1zM50.2 144.9h1v1h-1zM59.9 145.9h1v1h-1zM54.3 145.9h1v1h-1zM54.1 144h1v1h-1zM53.5 140.6h1v1h-1zM55.4 134.8h1v1h-1zM53.4 145.2h1v1h-1zM46.1 141.2h1v1h-1zM56.5 141h1v1h-1zM54.5 144.2h1v1h-1zM54.9 134.3h1v1h-1zM51.5 139.1h1v1h-1zM54.4 138.7h1v1h-1zM53.7 145h1v1h-1zM46.1 143.5h1v1h-1zM56.5 141.8h1v1h-1zM54 140.2h1v1h-1zM55 140.7h1v1h-1zM52 142.3h1v1h-1zM51.8 139.9h1v1h-1zM53 136.5h1v1h-1zM55.6 139.8h1v1h-1zM50.9 139.8h1v1h-1zM50.3 144.3h1v1h-1zM55.4 146h1v1h-1zM52.5 142.1h1v1h-1zM51.4 137.4h1v1h-1zM53.8 141.2h1v1h-1zM56.5 139.2h1v1h-1zM57 142.9h1v1h-1zM51.6 139.5h1v1h-1zM51.5 145.1h1v1h-1zM52.5 142.6h1v1h-1zM56.5 139.2h1v1h-1zM52.7 141h1v1h-1zM51.9 136.2h1v1h-1zM51.4 141h1v1h-1zM54.5 145.3h1v1h-1zM49.1 141.5h1v1h-1zM50.9 143.5h1v1h-1zM55.9 140.4h1v1h-1zM58 138.9h1v1h-1zM52.6 136.9h1v1h-1zM52.2 140.3h1v1h-1zM55.8 143.8h1v1h-1zM53.3 137.8h1v1h-1zM53.1 138.7h1v1h-1zM52.7 138.8h1v1h-1zM51.7 139.8h1v1h-1zM52.6 139.5h1v1h-1zM50.3 140.4h1v1h-1zM55.5 141.9h1v1h-1zM52.5 136.6h1v1h-1zM50.5 136.5h1v1h-1zM52.3 139.1h1v1h-1zM49.2 142h1v1h-1zM49.9 138h1v1h-1zM52.1 142.5h1v1h-1zM58.9 138.9h1v1h-1zM53.3 138.8h1v1h-1zM53.5 139.5h1v1h-1zM60.6 136.8h1v1h-1zM53.7 137.7h1v1h-1zM55 138.5h1v1h-1zM55.5 136.8h1v1h-1zM59.6 140.6h1v1h-1zM49.3 142.1h1v1h-1zM52.7 136.6h1v1h-1zM55.2 138.5h1v1h-1zM56 138.4h1v1h-1zM56.4 140.4h1v1h-1zM55 140.5h1v1h-1zM53 138.9h1v1h-1zM55.2 142.1h1v1h-1zM58.5 136.6h1v1h-1zM56.9 139.8h1v1h-1zM54.6 137.7h1v1h-1zM58.4 137.6h1v1h-1zM53.8 137.9h1v1h-1zM59.2 143.7h1v1h-1zM50.5 138.7h1v1h-1zM55 138.7h1v1h-1zM53.1 136.8h1v1h-1zM54.7 136.8h1v1h-1zM53.1 144.9h1v1h-1zM55 138h1v1h-1zM53.1 137.2h1v1h-1zM54.3 142.1h1v1h-1zM56.5 139.2h1v1h-1zM50.8 139.8h1v1h-1zM58.5 140.8h1v1h-1zM53.8 133.9h1v1h-1zM52.8 141.6h1v1h-1zM51.5 144h1v1h-1zM52.5 137.4h1v1h-1zM52.5 139.7h1v1h-1zM56.7 138.3h1v1h-1zM49.3 139.8h1v1h-1zM55.4 144.5h1v1h-1zM51 144.4h1v1h-1zM55.8 141.3h1v1h-1zM52 137.4h1v1h-1zM51.5 142.8h1v1h-1zM54.6 143.2h1v1h-1zM58.8 140.1h1v1h-1zM53.9 145.7h1v1h-1zM50.5 138.7h1v1h-1zM53 138.9h1v1h-1zM54.4 137.5h1v1h-1zM57.1 136h1v1h-1zM51.8 135h1v1h-1zM50.3 141.7h1v1h-1zM55.7 139.4h1v1h-1zM56.2 141.8h1v1h-1zM52.5 139.9h1v1h-1zM55 145.9h1v1h-1zM52.8 141.1h1v1h-1zM55.4 143.6h1v1h-1zM55.1 143.2h1v1h-1zM51.2 139.2h1v1h-1zM48.9 139.9h1v1h-1zM60.2 140.7h1v1h-1zM54.2 140.8h1v1h-1zM54.4 136.1h1v1h-1zM52.2 139.5h1v1h-1zM54.4 137.5h1v1h-1zM53.7 137.9h1v1h-1zM50.5 138.1h1v1h-1zM51.9 142.5h1v1h-1zM57.6 141.7h1v1h-1zM53.4 138.4h1v1h-1zM49.8 138.5h1v1h-1zM58.2 143.4h1v1h-1zM54.6 139.3h1v1h-1zM54 141.3h1v1h-1zM54 141.3h1v1h-1zM52 140.2h1v1h-1zM53.1 143.2h1v1h-1zM50.7 143.8h1v1h-1zM53.8 138.5h1v1h-1zM54.1 140.4h1v1h-1zM53.4 141.3h1v1h-1zM52.5 135.1h1v1h-1zM55.8 139.9h1v1h-1zM58.4 141.2h1v1h-1zM48.7 143.7h1v1h-1zM52.2 141.6h1v1h-1zM59.9 143.2h1v1h-1zM51.1 139.8h1v1h-1zM49.7 142h1v1h-1zM55.5 137h1v1h-1zM55.2 142.8h1v1h-1zM56.1 138.1h1v1h-1zM52.2 136.7h1v1h-1zM50.6 140.9h1v1h-1zM54.1 143.8h1v1h-1zM54.7 139.1h1v1h-1zM50.2 144.5h1v1h-1zM54.4 139.9h1v1h-1zM51.3 137h1v1h-1zM55.7 137.2h1v1h-1zM55.6 141.9h1v1h-1zM53 135.3h1v1h-1zM55.1 144.1h1v1h-1zM51.8 136.3h1v1h-1zM56.9 140.4h1v1h-1zM52.3 143.6h1v1h-1zM53.3 141.3h1v1h-1zM52.9 137.8h1v1h-1zM54.6 137.5h1v1h-1zM49.3 138.5h1v1h-1zM57.3 143.2h1v1h-1zM59.8 142.9h1v1h-1zM58.3 140.8h1v1h-1zM52.8 141.4h1v1h-1zM51.5 142.2h1v1h-1zM52.8 140.8h1v1h-1zM51.7 139.6h1v1h-1zM56.6 139.4h1v1h-1zM52.2 140.9h1v1h-1zM56.3 139.5h1v1h-1zM50.9 135.5h1v1h-1zM50.5 143.1h1v1h-1zM53.8 141.4h1v1h-1zM56.8 140.9h1v1h-1zM55.3 138.6h1v1h-1zM49.7 141.9h1v1h-1zM53.7 141.7h1v1h-1zM51.2 139.6h1v1h-1zM59.3 137.6h1v1h-1zM54.3 143.8h1v1h-1zM53.4 140.4h1v1h-1zM48.4 142.3h1v1h-1zM52.8 143.8h1v1h-1zM53.8 139h1v1h-1zM55.2 139.3h1v1h-1zM52.6 144.5h1v1h-1zM56.6 140.4h1v1h-1zM56.1 142.4h1v1h-1zM55.5 140.2h1v1h-1zM54.2 141.2h1v1h-1zM55.5 141.1h1v1h-1zM52.5 139.8h1v1h-1zM55.2 137.2h1v1h-1zM54 142.2h1v1h-1zM54.4 139.2h1v1h-1zM53.9 138.6h1v1h-1zM56.6 139h1v1h-1zM49.6 136.6h1v1h-1zM54.8 140.6h1v1h-1zM52.8 136.3h1v1h-1zM53.6 137.6h1v1h-1zM52.3 140h1v1h-1zM52 140.9h1v1h-1zM52 138.7h1v1h-1zM53.4 144.3h1v1h-1zM58.2 142.8h1v1h-1zM52.1 140.1h1v1h-1zM56.4 142.4h1v1h-1zM49.7 139.9h1v1h-1zM52 142.2h1v1h-1zM55.7 138.5h1v1h-1zM59.7 139.2h1v1h-1zM60.5 139.6h1v1h-1zM53.8 145.5h1v1h-1zM52.6 138.7h1v1h-1zM57.9 139.9h1v1h-1zM55.3 136.4h1v1h-1zM58.7 142.9h1v1h-1zM54.9 142.1h1v1h-1zM52.7 138.7h1v1h-1zM49.8 141.1h1v1h-1zM57.3 142.5h1v1h-1zM56.4 142.1h1v1h-1zM51.6 136.3h1v1h-1zM55.7 140.5h1v1h-1zM56.6 139.3h1v1h-1zM51.7 141.3h1v1h-1zM52.5 135.4h1v1h-1zM52.4 137.5h1v1h-1zM51.1 138.5h1v1h-1zM58.6 138.9h1v1h-1zM57 139.8h1v1h-1zM55.1 138.1h1v1h-1zM53.8 135.3h1v1h-1zM58.7 137.9h1v1h-1zM55.5 138.4h1v1h-1zM54.7 136.7h1v1h-1zM53 142.7h1v1h-1zM55.6 134.5h1v1h-1zM56.3 136.3h1v1h-1zM54.8 141.5h1v1h-1zM52.3 139.1h1v1h-1zM53.4 141.2h1v1h-1zM56.4 143.9h1v1h-1zM54.9 145.7h1v1h-1zM51.5 145.1h1v1h-1zM53.3 142.2h1v1h-1zM53.7 140.3h1v1h-1zM51.6 141.2h1v1h-1zM59.4 140.5h1v1h-1zM53.9 140.1h1v1h-1zM55.9 139.5h1v1h-1zM54 140.7h1v1h-1zM57.4 142.8h1v1h-1zM51.2 138.2h1v1h-1zM54.1 142.5h1v1h-1zM56.6 139.5h1v1h-1zM59.6 139.6h1v1h-1zM57.7 144.1h1v1h-1zM58.2 140.6h1v1h-1zM55.5 135.7h1v1h-1zM49.3 138.3h1v1h-1zM55.9 143.1h1v1h-1zM53.7 143h1v1h-1zM55.5 144.4h1v1h-1zM49.8 137.7h1v1h-1zM51.5 137.1h1v1h-1zM58.4 137.4h1v1h-1zM51.8 138.9h1v1h-1zM56.3 138.7h1v1h-1zM55.9 141.6h1v1h-1zM52.3 133.3h1v1h-1zM51.6 136.5h1v1h-1zM58.3 138h1v1h-1zM51.2 141.1h1v1h-1zM54.1 137.4h1v1h-1zM56.9 142.7h1v1h-1zM54.7 137.9h1v1h-1zM51.7 134.2h1v1h-1zM55 141.2h1v1h-1zM51.6 140.1h1v1h-1zM62.7 136.8h1v1h-1zM49.5 141.8h1v1h-1zM52.9 138.6h1v1h-1zM55.6 139.7h1v1h-1zM56.6 141.5h1v1h-1zM57.1 140.4h1v1h-1zM48.3 143.9h1v1h-1zM49.5 143h1v1h-1zM54.7 136.1h1v1h-1z"/>
<path fill="#555" d="M56.1 131.4h1v1h-1zM53.8 128.2h1v1h-1zM54.4 124.2h1v1h-1zM54.7 132.9h1v1h-1zM57.5 127.9h1v1h-1zM55.8 128.5h1v1h-1zM56.6 128.8h1v1h-1zM52.3 131.5h1v1h-1zM54.2 118.1h1v1h-1zM57.5 123.5h1v1h-1zM55.7 127.7h1v1h-1zM54.7 130.1h1v1h-1zM55.4 127h1v1h-1zM53.9 127h1v1h-1zM53.8 128.2h1v1h-1zM58.9 131.9h1v1h-1zM56.9 122.9h1v1h-1zM58.2 131.6h1v1h-1zM60.5 119.5h1v1h-1zM56 126.8h1v1h-1zM58.4 123.9h1v1h-1zM55.2 136.9h1v1h-1zM58.1 120.5h1v1h-1zM56 133.2h1v1h-1zM54.7 130.3h1v1h-1zM56.2 122.5h1v1h-1zM54.6 132.4h1v1h-1zM58.6 125.7h1v1h-1zM58.4 125.3h1v1h-1zM56.5 128h1v1h-1zM53.3 129.3h1v1h-1zM55.2 117.6h1v1h-1zM54.2 124.8h1v1h-1zM54.2 124.3h1v1h-1zM54.5 118.7h1v1h-1zM57.9 128.3h1v1h-1zM56.6 127h1v1h-1zM56.1 127h1v1h-1zM53.6 122.2h1v1h-1zM56.2 131.9h1v1h-1zM56.5 134.2h1v1h-1zM53 127h1v1h-1zM54.7 132.7h1v1h-1zM59.7 126h1v1h-1zM57.6 127.1h1v1h-1zM53.8 127.6h1v1h-1zM53.7 133.9h1v1h-1zM57.3 132.6h1v1h-1zM56.8 118.7h1v1h-1zM57.7 128.4h1v1h-1zM50.8 128.4h1v1h-1zM58.2 134.6h1v1h-1zM53.8 131h1v1h-1zM56.7 127.4h1v1h-1zM55.4 130h1v1h-1zM57.2 130.5h1v1h-1zM55.1 123h1v1h-1zM58.9 133h1v1h-1zM54.8 127.9h1v1h-1zM57.7 121.3h1v1h-1zM57.1 137.3h1v1h-1zM56.6 125.3h1v1h-1zM60.4 128.1h1v1h-1zM56.5 126.4h1v1h-1zM56.4 121.1h1v1h-1zM53.2 122.4h1v1h-1zM58 127.7h1v1h-1zM58.5 120.2h1v1h-1zM54.7 133.6h1v1h-1zM54.3 120.9h1v1h-1zM54.4 126.7h1v1h-1zM56 133h1v1h-1zM58.9 134h1v1h-1zM57.3 126.1h1v1h-1zM54.9 122.3h1v1h-1zM58.8 132.8h1v1h-1zM56.2 124.6h1v1h-1zM57.5 129.9h1v1h-1zM56.3 123.6h1v1h-1zM56.5 125.8h1v1h-1zM57.6 130.3h1v1h-1zM57 126.4h1v1h-1zM59.3 131h1v1h-1zM58.7 131.2h1v1h-1zM57.4 129.5h1v1h-1zM53.7 121h1v1h-1zM54 130.4h1v1h-1zM58 128.7h1v1h-1zM56.2 135h1v1h-1zM55.1 121.2h1v1h-1zM52.7 126.8h1v1h-1zM57.5 130.8h1v1h-1zM55.5 131.1h1v1h-1zM55.9 125.2h1v1h-1zM55.2 130.9h1v1h-1zM58.1 123.7h1v1h-1zM53.9 128.5h1v1h-1zM60.6 123.5h1v1h-1zM53.3 129.6h1v1h-1zM57.1 125.7h1v1h-1zM55.9 129.9h1v1h-1zM52.2 127.9h1v1h-1zM57.3 131.5h1v1h-1zM58.5 127.7h1v1h-1zM52.9 133.2h1v1h-1zM57.7 125.6h1v1h-1zM58.2 132h1v1h-1zM55.7 119h1v1h-1zM55 125.1h1v1h-1zM54.2 127.7h1v1h-1zM53.7 129.5h1v1h-1zM60.1 123.4h1v1h-1zM58.2 126h1v1h-1zM57.2 127.5h1v1h-1zM58.8 125.3h1v1h-1zM57.6 125h1v1h-1zM56.5 127.9h1v1h-1zM58.3 122h1v1h-1zM53.1 133.3h1v1h-1zM56.8 134.5h1v1h-1zM53.8 128.8h1v1h-1zM57.3 134.8h1v1h-1zM55.9 126.3h1v1h-1zM57.5 127.6h1v1h-1zM54.4 130.9h1v1h-1zM51.9 124.1h1v1h-1zM58.9 126.1h1v1h-1zM55.3 129.4h1v1h-1zM58.4 130h1v1h-1zM53.9 125.8h1v1h-1zM58.3 127.5h1v1h-1zM54.6 131.4h1v1h-1zM58.5 136.3h1v1h-1zM53.7 125.3h1v1h-1zM54.5 129.4h1v1h-1zM55 132.3h1v1h-1zM50.2 131.7h1v1h-1zM54.6 126.9h1v1h-1zM57.2 128.8h1v1h-1zM53.8 133.8h1v1h-1zM57.2 126.1h1v1h-1zM56.4 123.8h1v1h-1zM53.4 126.8h1v1h-1zM56.8 128.4h1v1h-1zM54.3 122.7h1v1h-1zM52.4 134.1h1v1h-1zM56.8 124.9h1v1h-1zM58.5 130.1h1v1h-1zM55.1 125.6h1v1h-1zM58.4 129.3h1v1h-1zM59.5 129.4h1v1h-1zM54.7 125.7h1v1h-1zM54.5 129h1v1h-1zM56.5 130.3h1v1h-1zM57 124h1v1h-1zM55.6 124.4h1v1h-1zM57 123h1v1h-1zM54.8 124.7h1v1h-1zM54.7 127h1v1h-1zM59.2 127h1v1h-1zM52.9 126.8h1v1h-1zM57.6 130.1h1v1h-1zM56.5 135.6h1v1h-1zM58.4 128.4h1v1h-1zM58.6 122.9h1v1h-1zM55.6 124.7h1v1h-1zM56.4 134.2h1v1h-1zM54.9 134.1h1v1h-1zM53.8 133.5h1v1h-1zM52.4 124.7h1v1h-1zM58.1 127.6h1v1h-1zM56.3 128h1v1h-1zM56.4 127.3h1v1h-1zM53.9 126.9h1v1h-1zM56.2 124.5h1v1h-1zM57 134.8h1v1h-1zM52.5 125.9h1v1h-1zM55.4 128.1h1v1h-1zM56.2 125.2h1v1h-1zM55.9 128h1v1h-1zM55.8 133.9h1v1h-1zM56.3 122.3h1v1h-1zM52.7 130.3h1v1h-1zM55.3 125.6h1v1h-1zM53.1 126.8h1v1h-1zM55.8 125.4h1v1h-1zM55.2 131.4h1v1h-1zM57.7 130.1h1v1h-1zM55.6 122.8h1v1h-1zM57.7 133.7h1v1h-1zM58.7 132.5h1v1h-1zM56.6 129.4h1v1h-1zM56 132.8h1v1h-1zM55.4 136.2h1v1h-1zM57.7 126.8h1v1h-1zM56 121.8h1v1h-1zM54.4 126.8h1v1h-1zM61.2 124.9h1v1h-1zM58 128.3h1v1h-1zM55.4 130.4h1v1h-1zM51.7 131.6h1v1h-1zM60.1 129.1h1v1h-1zM55.9 128.6h1v1h-1zM57.4 126.1h1v1h-1zM56.3 129.9h1v1h-1zM55.3 129.5h1v1h-1zM56.7 130.7h1v1h-1zM53.9 125.9h1v1h-1zM55.1 132.6h1v1h-1zM56.5 121.7h1v1h-1zM53.3 135.4h1v1h-1zM56.7 123h1v1h-1zM54.1 128.5h1v1h-1zM59 134.2h1v1h-1zM55.2 126.9h1v1h-1zM60.1 124.2h1v1h-1zM59.3 129.3h1v1h-1zM56.2 132.9h1v1h-1zM57 124.8h1v1h-1zM52.7 128.1h1v1h-1zM71.5 129.5h1v1h-1zM75.5 130.6h1v1h-1zM74 126.8h1v1h-1zM76.4 127.1h1v1h-1zM73.8 125.8h1v1h-1zM76 128.1h1v1h-1zM82.2 127.4h1v1h-1zM68.1 128.4h1v1h-1zM84 126.6h1v1h-1zM71.9 127.2h1v1h-1zM74.3 124.5h1v1h-1zM77.3 125.8h1v1h-1zM67.8 126.1h1v1h-1zM77.5 131.3h1v1h-1zM79.9 127.9h1v1h-1zM73 127h1v1h-1zM78.8 126.5h1v1h-1zM76.6 129.4h1v1h-1zM71.4 126.3h1v1h-1zM76.8 127.5h1v1h-1zM74.5 126.5h1v1h-1zM74.8 131.1h1v1h-1zM80.3 124.3h1v1h-1zM75.2 127.7h1v1h-1zM75.1 124.8h1v1h-1zM74.5 127.8h1v1h-1zM72.3 128.1h1v1h-1zM65.4 124.6h1v1h-1zM75.4 128.3h1v1h-1z"/>
<path fill="#888" d="M55 139.9h1v1h-1zM55.4 140.7h1v1h-1zM56.1 133.2h1v1h-1zM54.7 134.3h1v1h-1zM50.6 131.3h1v1h-1zM53.5 129.4h1v1h-1zM47.3 123.7h1v1h-1zM55 135h1v1h-1zM53.4 125.3h1v1h-1zM56.3 129.7h1v1h-1zM47.2 145h1v1h-1zM55.1 129.5h1v1h-1zM58.8 139.8h1v1h-1zM54 122.1h1v1h-1zM51.5 130.4h1v1h-1zM54.8 131.3h1v1h-1zM54.3 122.6h1v1h-1zM50.5 140.3h1v1h-1zM47.4 137.3h1v1h-1zM62 135.8h1v1h-1zM47.6 139.2h1v1h-1zM45.8 133.9h1v1h-1zM51.4 139.1h1v1h-1zM57.6 133.1h1v1h-1zM60 137.7h1v1h-1zM51.1 126.3h1v1h-1zM62.6 129.7h1v1h-1zM54.6 131.3h1v1h-1zM51.2 122.7h1v1h-1zM52.4 131.3h1v1h-1zM56.8 129h1v1h-1zM46.9 125.8h1v1h-1zM52.8 133.4h1v1h-1zM55.8 129.8h1v1h-1zM55.1 132.8h1v1h-1zM59.6 131.7h1v1h-1zM53.6 135.3h1v1h-1zM57.7 126.7h1v1h-1zM51.2 130.4h1v1h-1zM57.2 132.1h1v1h-1zM66.1 139.3h1v1h-1zM60.9 141.1h1v1h-1zM56.5 123.8h1v1h-1zM59 134.4h1v1h-1zM48.4 132.3h1v1h-1zM55.9 137.7h1v1h-1zM53.7 129h1v1h-1zM56 127.6h1v1h-1zM52.7 136.4h1v1h-1zM47.4 134.2h1v1h-1zM48.2 131.5h1v1h-1zM55.8 131.7h1v1h-1zM56.6 132.6h1v1h-1zM52.2 134.8h1v1h-1zM52.1 132.8h1v1h-1zM57 128.7h1v1h-1zM57.5 125.6h1v1h-1zM52.1 122h1v1h-1zM50.9 141.2h1v1h-1zM54.4 139.3h1v1h-1zM47.3 126.2h1v1h-1zM54.8 136.8h1v1h-1zM56.3 122.3h1v1h-1zM55 131.6h1v1h-1zM53.5 134.8h1v1h-1zM51.9 122.2h1v1h-1zM48.8 123.6h1v1h-1zM47.9 131.2h1v1h-1zM58.1 127.9h1v1h-1zM50 125.4h1v1h-1zM46.3 132.4h1v1h-1zM51.1 130.6h1v1h-1zM49.3 134.8h1v1h-1zM48.3 135.2h1v1h-1zM50.4 136.6h1v1h-1zM49.5 134.6h1v1h-1zM54.7 131.5h1v1h-1zM59.4 133h1v1h-1zM49.5 136h1v1h-1zM49.8 128.9h1v1h-1zM53 133.1h1v1h-1zM59.6 121.9h1v1h-1zM52 138.5h1v1h-1zM52.4 133.9h1v1h-1zM58.9 124.9h1v1h-1zM75.2 129.4h1v1h-1zM72.1 123.3h1v1h-1zM70.1 128h1v1h-1zM75.9 131.9h1v1h-1zM81.5 123.8h1v1h-1zM80.1 129.7h1v1h-1zM82.9 127.1h1v1h-1zM72.3 127.9h1v1h-1zM82.5 129h1v1h-1zM83.3 129.4h1v1h-1zM72.1 125.1h1v1h-1zM84 123.8h1v1h-1zM73.3 126.7h1v1h-1zM70.6 126.1h1v1h-1zM75 133.2h1v1h-1zM74.7 126.2h1v1h-1zM75.6 129.8h1v1h-1zM71 126.5h1v1h-1zM66.5 129.2h1v1h-1zM78.3 131.1h1v1h-1zM69.2 132.8h1v1h-1zM79.3 126.8h1v1h-1zM73.1 126.8h1v1h-1zM69.1 129.4h1v1h-1zM72 125.8h1v1h-1zM77.5 127.8h1v1h-1zM72.2 126.9h1v1h-1zM72.6 130.8h1v1h-1zM79.9 125.7h1v1h-1zM74.8 130.8h1v1h-1zM73.6 131.8h1v1h-1zM77.2 129.1h1v1h-1zM64.9 129.6h1v1h-1zM76.7 128.9h1v1h-1zM77.3 128.8h1v1h-1zM72.5 129.7h1v1h-1zM75.3 125h1v1h-1zM70 127.9h1v1h-1zM76.6 122.2h1v1h-1zM64.9 130h1v1h-1zM74.9 134.4h1v1h-1zM67.5 126.9h1v1h-1zM72.1 128.9h1v1h-1zM81.9 131.4h1v1h-1zM70.1 130.5h1v1h-1zM69.1 128.2h1v1h-1zM75.8 129h1v1h-1zM71.1 130.7h1v1h-1zM74.7 127.5h1v1h-1zM73.7 124.9h1v1h-1zM78.5 128.3h1v1h-1zM77.2 132h1v1h-1zM70.8 126.8h1v1h-1zM75 129.6h1v1h-1zM74.1 129.8h1v1h-1zM77.2 123.2h1v1h-1zM71.7 122.6h1v1h-1zM73.6 126.5h1v1h-1zM77.9 127.9h1v1h-1zM74.7 130.6h1v1h-1zM77.9 124.5h1v1h-1zM71.6 128.3h1v1h-1zM83.3 127h1v1h-1zM74.2 128.1h1v1h-1zM78.8 127.3h1v1h-1zM76.4 126.5h1v1h-1zM72.3 125.6h1v1h-1zM78.2 126.2h1v1h-1zM77.7 128.5h1v1h-1zM79.8 121h1v1h-1zM70.3 124.5h1v1h-1zM74.2 129.5h1v1h-1zM87.4 131.2h1v1h-1zM81.6 128.4h1v1h-1zM73.1 128.8h1v1h-1zM64.4 129.8h1v1h-1zM75 129h1v1h-1zM70 124.8h1v1h-1zM71.9 127.4h1v1h-1zM76.7 126.6h1v1h-1zM76.7 129.2h1v1h-1zM69.3 127.3h1v1h-1zM67.4 126.2h1v1h-1zM79.4 125.8h1v1h-1zM84.1 128.7h1v1h-1zM79.3 127.8h1v1h-1zM79.2 130.2h1v1h-1zM75.5 126.2h1v1h-1zM72.3 132.2h1v1h-1zM74.1 126.4h1v1h-1zM71.5 123.4h1v1h-1zM72.6 128.3h1v1h-1zM72.6 125.7h1v1h-1zM77 128.6h1v1h-1zM72.9 128.2h1v1h-1zM70.2 129.6h1v1h-1zM70.2 126.7h1v1h-1zM75.7 126.5h1v1h-1zM69.4 132.6h1v1h-1zM82.4 123.3h1v1h-1zM75.6 124.4h1v1h-1zM76.5 124.3h1v1h-1zM77.8 128.8h1v1h-1zM83.3 130.4h1v1h-1zM72.8 129.8h1v1h-1zM72.8 127.2h1v1h-1zM72.6 123.2h1v1h-1zM77.9 122.6h1v1h-1zM73.8 128.8h1v1h-1zM75.6 123.7h1v1h-1zM71.8 129.2h1v1h-1zM80.4 131.4h1v1h-1zM66.1 128.6h1v1h-1zM72.6 129.4h1v1h-1zM66.8 127.2h1v1h-1zM78.5 125.9h1v1h-1zM73.2 125.1h1v1h-1zM80.4 124.3h1v1h-1zM70.5 126.7h1v1h-1zM73.5 132.6h1v1h-1zM76.3 125.5h1v1h-1zM77.8 128.3h1v1h-1zM76.4 127.3h1v1h-1zM77.3 124.6h1v1h-1zM69.1 126.5h1v1h-1zM69.6 129.2h1v1h-1zM84.5 130.5h1v1h-1zM77.2 128.3h1v1h-1zM71.7 124.3h1v1h-1zM77.7 123.9h1v1h-1zM76.5 127.2h1v1h-1zM78.7 127.6h1v1h-1zM75.5 126.1h1v1h-1zM66.6 126.7h1v1h-1zM78.4 130h1v1h-1zM81.7 125.1h1v1h-1zM70.4 129.2h1v1h-1zM72.8 133.8h1v1h-1zM76.5 123.8h1v1h-1zM72.3 131.3h1v1h-1zM66.1 127.9h1v1h-1zM68.2 131.4h1v1h-1zM72.8 125h1v1h-1zM66.7 125.8h1v1h-1zM85.7 127.7h1v1h-1zM73.7 124.7h1v1h-1zM76.7 126.4h1v1h-1zM70.9 130.9h1v1h-1zM77.1 125.3h1v1h-1zM82.2 127.4h1v1h-1zM77.5 127.9h1v1h-1zM80.8 129h1v1h-1zM73.3 129.2h1v1h-1zM73.1 127.8h1v1h-1zM83 124.9h1v1h-1zM69.9 126.5h1v1h-1zM72.6 130.7h1v1h-1zM67.2 133.1h1v1h-1zM82.7 126.4h1v1h-1zM75.9 126.6h1v1h-1zM78.3 129.1h1v1h-1zM78.7 129.4h1v1h-1zM84.4 127.1h1v1h-1zM78.4 127h1v1h-1zM75.2 128h1v1h-1zM74.7 128.3h1v1h-1zM70.8 127.1h1v1h-1zM72 124.7h1v1h-1zM71.5 126.3h1v1h-1zM74.3 123.7h1v1h-1zM73.7 124.7h1v1h-1zM71 128h1v1h-1zM80.4 128.2h1v1h-1zM72.6 126.4h1v1h-1zM81.6 123.5h1v1h-1zM80.6 123.8h1v1h-1zM71.9 127.6h1v1h-1zM73.9 131.6h1v1h-1zM77.4 127.4h1v1h-1zM79.7 127.6h1v1h-1zM71.1 130.2h1v1h-1zM82.3 130.6h1v1h-1zM69.3 132.2h1v1h-1zM73 129.4h1v1h-1zM80.8 133.3h1v1h-1zM67.1 125h1v1h-1zM80.8 128.7h1v1h-1zM73.5 120.4h1v1h-1zM77.2 127h1v1h-1zM75 128.1h1v1h-1zM78.7 126.9h1v1h-1zM70.6 126.6h1v1h-1zM64.7 124.8h1v1h-1zM84.7 125.8h1v1h-1zM74.6 132.1h1v1h-1zM80.2 127.8h1v1h-1zM78.6 126.8h1v1h-1z"/>
<path fill="#aaa" d="M72 139.7h1v1h-1zM74.1 144.2h1v1h-1zM78.3 140.8h1v1h-1zM70.3 144.1h1v1h-1zM76.2 143.6h1v1h-1zM71.4 138.5h1v1h-1zM74.1 139.2h1v1h-1zM79.8 143.5h1v1h-1zM60.2 143h1v1h-1zM80.8 144h1v1h-1zM70.2 138.5h1v1h-1zM78.7 144h1v1h-1zM73.4 137.6h1v1h-1zM64 141.8h1v1h-1zM68.1 139h1v1h-1zM75.6 144.1h1v1h-1zM60.8 139h1v1h-1zM80.7 140.9h1v1h-1zM71 142.9h1v1h-1zM66.3 137.4h1v1h-1zM73.1 145.6h1v1h-1zM79 141h1v1h-1zM79 139.8h1v1h-1zM66.1 136.1h1v1h-1zM74.6 143.6h1v1h-1zM75.2 140.9h1v1h-1zM70.6 144.2h1v1h-1zM72.7 136.8h1v1h-1zM81.1 139.1h1v1h-1zM75.3 141h1v1h-1zM79.2 141.7h1v1h-1zM80.2 141.6h1v1h-1zM70.3 139.5h1v1h-1zM76.8 138.6h1v1h-1zM78.5 140.3h1v1h-1zM67.5 138.4h1v1h-1zM72.1 146.2h1v1h-1zM77.5 141.1h1v1h-1zM71.4 141h1v1h-1z"/>
</g>
<rect x="45.1" y="108" width="58.2" height="39.3" fill="none" stroke="#111" stroke-width="1.1"/>
<line x1="63" y1="108" x2="63" y2="147.3" stroke="#111" stroke-width="1.1"/>
<line x1="45.1" y1="136" x2="103.3" y2="136" stroke="#111" stroke-width="1.1"/>
<rect x="63.5" y="115.2" width="26.7" height="20.4" fill="none" stroke="#111" stroke-width="1.1"/>
<text x="94.5" y="127" font-size="4.2" font-weight="bold" fill="#000">R2</text>
<text x="96.3" y="114.8" font-size="7" font-weight="bold" fill="#000">d</text>
<text x="39.3" y="110.7" font-size="4.2" font-weight="bold" fill="#111">1</text>
<text x="41.5" y="109.2" font-size="2.8" font-weight="bold" fill="#111">0</text>
<text x="39.3" y="120" font-size="4.2" font-weight="bold" fill="#111">1</text>
<text x="41.5" y="118.5" font-size="2.8" font-weight="bold" fill="#111">0</text>
<text x="39.3" y="129.3" font-size="4.2" font-weight="bold" fill="#111">1</text>
<text x="41.5" y="127.9" font-size="2.8" font-weight="bold" fill="#111">0</text>
<text x="39.3" y="138.7" font-size="4.2" font-weight="bold" fill="#111">1</text>
<text x="41.5" y="137.2" font-size="2.8" font-weight="bold" fill="#111">0</text>
<text x="39.3" y="148" font-size="4.2" font-weight="bold" fill="#111">1</text>
<text x="41.5" y="146.5" font-size="2.8" font-weight="bold" fill="#111">0</text>
<text x="43.3" y="152.1" font-size="4.2" font-weight="bold" fill="#111">1</text>
<text x="45.4" y="150.7" font-size="2.8" font-weight="bold" fill="#111">0</text>
<text x="57.9" y="152.1" font-size="4.2" font-weight="bold" fill="#111">1</text>
<text x="59.9" y="150.7" font-size="2.8" font-weight="bold" fill="#111">0</text>
<text x="72.4" y="152.1" font-size="4.2" font-weight="bold" fill="#111">1</text>
<text x="74.5" y="150.7" font-size="2.8" font-weight="bold" fill="#111">0</text>
<text x="87" y="152.1" font-size="4.2" font-weight="bold" fill="#111">1</text>
<text x="89" y="150.7" font-size="2.8" font-weight="bold" fill="#111">0</text>
<text x="101.5" y="152.1" font-size="4.2" font-weight="bold" fill="#111">1</text>
<text x="103.6" y="150.7" font-size="2.8" font-weight="bold" fill="#111">0</text>
<line x1="29.6" y1="131" x2="29.6" y2="154.5" stroke="#000" stroke-width="1.1"/>
<path d="M29.6 128l-1.8 4h3.6z" fill="#000"/>
<text x="31.8" y="113" font-size="7" font-weight="bold" text-anchor="middle" transform="rotate(-90 31.8 113)" fill="#000">CD56</text>
<line x1="34.3" y1="158.8" x2="53" y2="158.8" stroke="#000" stroke-width="1.1"/>
<path d="M56 158.8l-4 -1.8v3.6z" fill="#000"/>
<text x="67.6" y="161.3" font-size="7" font-weight="bold" fill="#000">CD16</text>
<g filter="url(#bd)">
<path fill="#555" d="M138.1 133.2h1v1h-1zM139.7 128.2h1v1h-1zM139.7 126.8h1v1h-1zM136.5 129.1h1v1h-1zM144.3 126.5h1v1h-1zM138.8 125.2h1v1h-1zM139.6 130.1h1v1h-1zM141.1 125.8h1v1h-1zM137.7 127.7h1v1h-1zM138.6 135.8h1v1h-1zM138.7 129.4h1v1h-1zM137.9 131.7h1v1h-1zM145.7 132.7h1v1h-1zM143.1 126.6h1v1h-1zM141.9 129.6h1v1h-1zM142.4 132.4h1v1h-1zM140.9 124.9h1v1h-1zM139.5 128.1h1v1h-1zM140.3 129.6h1v1h-1zM141.9 125.1h1v1h-1zM137.3 129.3h1v1h-1zM140 128.4h1v1h-1zM139.1 129.7h1v1h-1zM141.9 129.2h1v1h-1zM139.8 124.5h1v1h-1zM140.1 123.2h1v1h-1zM140.2 129.2h1v1h-1zM139.2 127.5h1v1h-1zM138.1 131.8h1v1h-1zM140.1 129.4h1v1h-1zM138 130.1h1v1h-1zM142.2 129.4h1v1h-1zM138.3 126.3h1v1h-1zM139.5 127h1v1h-1zM135.5 131.9h1v1h-1zM137.6 123.9h1v1h-1zM137.4 134.6h1v1h-1zM138.9 125.9h1v1h-1zM136.4 131.5h1v1h-1zM140.2 130.1h1v1h-1zM138.7 130.8h1v1h-1zM143.1 130.8h1v1h-1zM138.8 125.7h1v1h-1zM140.3 133.8h1v1h-1zM140.9 126h1v1h-1zM139.7 133.1h1v1h-1zM137.6 130.9h1v1h-1zM142.3 134h1v1h-1zM135.1 124.7h1v1h-1zM140.2 131.4h1v1h-1zM138.3 129.4h1v1h-1zM138.2 132.8h1v1h-1zM133.5 130.2h1v1h-1zM135.9 127.6h1v1h-1zM135.3 127h1v1h-1zM139.1 129.6h1v1h-1zM143.8 128.9h1v1h-1zM140.1 130.5h1v1h-1zM139.9 133.5h1v1h-1zM139.6 129.9h1v1h-1zM138.9 129.5h1v1h-1zM139.1 132.2h1v1h-1zM139.3 129.7h1v1h-1zM139.1 131.6h1v1h-1zM138 132.1h1v1h-1zM137.7 131.4h1v1h-1zM144.1 130.1h1v1h-1zM139 126.2h1v1h-1zM141.1 129.5h1v1h-1zM141.5 127.7h1v1h-1zM140.5 134.5h1v1h-1zM140.2 128.6h1v1h-1zM135.9 129.5h1v1h-1zM140.9 131.2h1v1h-1zM136.3 126.7h1v1h-1zM136.7 126.7h1v1h-1zM138.5 130.2h1v1h-1zM144.1 130h1v1h-1zM142.9 124.9h1v1h-1zM143.2 131.7h1v1h-1zM140.3 131.8h1v1h-1zM140.8 134.8h1v1h-1zM141.3 124.7h1v1h-1zM134.7 134h1v1h-1zM139 133.2h1v1h-1zM138.3 127.7h1v1h-1zM138.3 130.4h1v1h-1zM139.7 127.8h1v1h-1zM140.6 131.2h1v1h-1zM136.8 126.4h1v1h-1zM134.2 128.7h1v1h-1zM139.2 127.6h1v1h-1zM137.7 129.1h1v1h-1zM139.3 131.1h1v1h-1zM141.3 130.7h1v1h-1zM142.1 126.8h1v1h-1zM140.8 130.5h1v1h-1zM136.5 127.6h1v1h-1zM140.3 129.7h1v1h-1zM136 128h1v1h-1zM143.1 131.8h1v1h-1zM139.4 133.2h1v1h-1zM136.9 129h1v1h-1zM141.7 128.6h1v1h-1zM136.3 131.1h1v1h-1zM143.3 122.5h1v1h-1zM139.6 126h1v1h-1zM138.4 125.6h1v1h-1zM145.9 127.6h1v1h-1zM139.3 127.5h1v1h-1zM136.7 128.2h1v1h-1zM139.7 134.3h1v1h-1zM139.9 133.8h1v1h-1zM136.5 129.7h1v1h-1zM138.1 125.2h1v1h-1zM148.8 128.8h1v1h-1zM139.8 127.4h1v1h-1zM137.7 126.6h1v1h-1zM141.8 128.4h1v1h-1zM138.8 130h1v1h-1zM136.1 130.1h1v1h-1zM138.8 130.7h1v1h-1zM138.2 129.6h1v1h-1zM140.5 132.2h1v1h-1zM137.4 132.2h1v1h-1zM136.7 129h1v1h-1zM139.5 129.9h1v1h-1zM138.7 132.1h1v1h-1zM137.4 133.7h1v1h-1zM134.6 129.7h1v1h-1zM140.6 129.5h1v1h-1zM139.9 132.1h1v1h-1zM137.1 131.1h1v1h-1zM141.9 128.9h1v1h-1zM133.3 126.2h1v1h-1zM137 126.6h1v1h-1zM140.3 127.3h1v1h-1zM145.6 131.1h1v1h-1zM135.8 128.7h1v1h-1zM143.1 131.4h1v1h-1zM136.6 132.4h1v1h-1zM138 135.6h1v1h-1zM137.8 131.2h1v1h-1zM140.7 128.3h1v1h-1zM138.8 132.7h1v1h-1zM140.5 129.3h1v1h-1zM140.3 134.3h1v1h-1zM141.6 130.8h1v1h-1zM140 125.2h1v1h-1zM139.5 128.2h1v1h-1zM141.1 127.8h1v1h-1zM140.4 126.6h1v1h-1zM141.5 127.5h1v1h-1zM139.1 131.1h1v1h-1zM138.4 129.5h1v1h-1zM141.9 134.4h1v1h-1zM134.6 127h1v1h-1zM140.9 132.1h1v1h-1zM138 129.8h1v1h-1zM138.7 135.8h1v1h-1zM138.7 126.2h1v1h-1zM135.2 126h1v1h-1zM142.5 128.4h1v1h-1zM144.2 131.3h1v1h-1zM140.2 131.3h1v1h-1zM141.2 132h1v1h-1zM136.7 128h1v1h-1zM137.8 129.8h1v1h-1zM138.6 126.1h1v1h-1zM137.4 134.4h1v1h-1zM144.7 127.1h1v1h-1zM140.2 129.4h1v1h-1zM137 131.5h1v1h-1zM139 134.1h1v1h-1zM140.4 128.6h1v1h-1zM141.4 127.5h1v1h-1zM141.5 131.4h1v1h-1zM134.7 129h1v1h-1zM140 131.6h1v1h-1zM139.6 129.5h1v1h-1zM138.3 128.7h1v1h-1zM139.2 126.6h1v1h-1zM140.8 128.6h1v1h-1zM140.5 128.1h1v1h-1zM140.3 129.9h1v1h-1zM141.5 130.8h1v1h-1zM141.6 129h1v1h-1zM139.1 128.8h1v1h-1zM136 129.2h1v1h-1zM142 131.6h1v1h-1zM137 130.3h1v1h-1zM141.1 125.7h1v1h-1zM140.1 130.4h1v1h-1zM141.1 130.2h1v1h-1zM134.7 123.9h1v1h-1zM144.3 128.4h1v1h-1zM160.9 130.3h1v1h-1zM159.2 131.4h1v1h-1zM159.3 129.6h1v1h-1zM157.4 129.9h1v1h-1zM153.5 130.2h1v1h-1zM154.6 129.6h1v1h-1zM154.5 130h1v1h-1zM155.6 132.6h1v1h-1zM156.9 129.7h1v1h-1zM154.7 128.6h1v1h-1zM156.4 128.6h1v1h-1zM155.7 127.7h1v1h-1zM158 128.4h1v1h-1zM154.9 129.5h1v1h-1zM154.9 128.7h1v1h-1zM155.5 127.6h1v1h-1zM156.1 127.8h1v1h-1zM154 129.5h1v1h-1zM155.9 126.9h1v1h-1zM155.7 129.3h1v1h-1z"/>
<path fill="#888" d="M143.9 133.4h1v1h-1zM139.8 125.1h1v1h-1zM144.2 128.9h1v1h-1zM141.3 130.7h1v1h-1zM142.8 132.5h1v1h-1zM134.6 124.1h1v1h-1zM140 129h1v1h-1zM142.2 128.5h1v1h-1zM138.9 136h1v1h-1zM144.3 133h1v1h-1zM143.1 126.3h1v1h-1zM139.2 128.8h1v1h-1zM135.7 126h1v1h-1zM140.1 124.8h1v1h-1zM141.4 130.6h1v1h-1zM138.7 127.8h1v1h-1zM141.6 130.7h1v1h-1zM140.8 124.8h1v1h-1zM133.9 136.1h1v1h-1zM137.2 127.7h1v1h-1zM137 131.7h1v1h-1zM138.1 127.3h1v1h-1zM136.8 127.5h1v1h-1zM134 129.9h1v1h-1zM143.6 129.5h1v1h-1zM137.6 133.4h1v1h-1zM141.2 125.5h1v1h-1zM137.5 126.9h1v1h-1zM139.3 133.2h1v1h-1zM137.1 128.5h1v1h-1zM139.9 124.9h1v1h-1zM137.9 131.1h1v1h-1zM143.4 122.6h1v1h-1zM141.9 128h1v1h-1zM144 131.1h1v1h-1zM146.3 130.1h1v1h-1zM138.1 126.1h1v1h-1zM134.6 130.9h1v1h-1zM141.3 131.8h1v1h-1zM140.7 123.9h1v1h-1zM138.1 128.2h1v1h-1zM140.1 131.6h1v1h-1zM144.4 130h1v1h-1zM135.4 129.8h1v1h-1zM138.7 132.8h1v1h-1zM143.2 127.4h1v1h-1zM142.8 129h1v1h-1zM141.1 133.6h1v1h-1zM135.5 128.8h1v1h-1zM144.8 126.4h1v1h-1zM140.2 129.5h1v1h-1zM138.1 124.5h1v1h-1zM137.1 125.6h1v1h-1zM143.2 129.9h1v1h-1zM141.9 124.9h1v1h-1zM141.2 129.5h1v1h-1zM160.4 126.9h1v1h-1zM159.5 133h1v1h-1zM163.3 126.3h1v1h-1zM152.3 124.7h1v1h-1zM160.1 130.8h1v1h-1zM157.8 126.5h1v1h-1zM161.2 133.7h1v1h-1zM156.4 128.6h1v1h-1zM161 130.5h1v1h-1zM161.6 127.8h1v1h-1zM157.8 128h1v1h-1zM154.4 128.1h1v1h-1zM155.4 130.5h1v1h-1zM155.4 129.2h1v1h-1zM153.5 125.4h1v1h-1zM161.9 126.1h1v1h-1zM163.3 131.8h1v1h-1zM147.9 127.1h1v1h-1zM154.9 129.1h1v1h-1zM155.8 127.2h1v1h-1zM161.2 128.6h1v1h-1zM160.1 127h1v1h-1zM153.9 132.9h1v1h-1zM155.4 125.8h1v1h-1zM155.9 132.1h1v1h-1zM155.9 126.9h1v1h-1zM158.9 131.9h1v1h-1zM155.7 128.1h1v1h-1zM155.1 136.9h1v1h-1zM155.8 134.1h1v1h-1zM155.9 130.2h1v1h-1zM148.9 129.5h1v1h-1zM156.7 128.1h1v1h-1zM155 125h1v1h-1zM150.9 129.5h1v1h-1zM154.1 128.7h1v1h-1zM155.8 127.5h1v1h-1zM153.8 134.5h1v1h-1zM152.4 127.5h1v1h-1zM155.4 125.6h1v1h-1zM152.9 131.5h1v1h-1zM160 129.4h1v1h-1zM168.7 131.4h1v1h-1zM161.1 126.6h1v1h-1zM160.6 133.9h1v1h-1zM155.1 134.3h1v1h-1zM153.5 125.7h1v1h-1zM156.3 126.6h1v1h-1zM158.9 125.8h1v1h-1zM156.8 123.3h1v1h-1zM156.4 132.1h1v1h-1zM155.5 129.9h1v1h-1zM160.6 125.8h1v1h-1zM151.7 129.2h1v1h-1zM157.6 128.2h1v1h-1zM152.9 132.6h1v1h-1zM152.1 128.2h1v1h-1zM156.4 131.1h1v1h-1zM154.8 126.6h1v1h-1zM164.1 126.5h1v1h-1zM159.5 128.6h1v1h-1zM154.7 128.9h1v1h-1zM155.6 129.9h1v1h-1zM147 128.9h1v1h-1zM156.8 126.2h1v1h-1zM155.1 135.9h1v1h-1zM163.4 130.9h1v1h-1zM157.4 128.1h1v1h-1zM161.7 127.7h1v1h-1zM153.4 131h1v1h-1zM152.9 126.7h1v1h-1zM161.9 124.3h1v1h-1zM156.3 129.4h1v1h-1zM157.5 124.7h1v1h-1zM155.7 128h1v1h-1zM163.7 131.9h1v1h-1zM153.7 131.6h1v1h-1zM159 128.7h1v1h-1zM155.6 128.2h1v1h-1zM150.7 127.2h1v1h-1zM160 133.2h1v1h-1zM163.5 127.9h1v1h-1zM158.8 122h1v1h-1zM155.5 125.3h1v1h-1zM159.6 124.1h1v1h-1zM152.6 125.8h1v1h-1zM158 131.5h1v1h-1zM153.1 134.3h1v1h-1zM157.1 126.6h1v1h-1zM157.8 129h1v1h-1zM159.6 130h1v1h-1zM164.7 132.4h1v1h-1zM154.1 131.3h1v1h-1zM159.4 126.1h1v1h-1zM153.7 126.6h1v1h-1zM147.3 130.9h1v1h-1zM155.7 132.6h1v1h-1zM154.4 129.2h1v1h-1zM159.2 131.8h1v1h-1zM157.7 126h1v1h-1z"/>
</g>
<rect x="132.7" y="107.7" width="57.8" height="40.3" fill="none" stroke="#111" stroke-width="1.1"/>
<line x1="147.5" y1="107.7" x2="147.5" y2="148" stroke="#111" stroke-width="1.1"/>
<line x1="132.7" y1="137.3" x2="190.5" y2="137.3" stroke="#111" stroke-width="1.1"/>
<text x="182.3" y="114.6" font-size="7" font-weight="bold" fill="#000">e</text>
<text x="126.9" y="110.4" font-size="4.2" font-weight="bold" fill="#111">1</text>
<text x="129.1" y="108.9" font-size="2.8" font-weight="bold" fill="#111">0</text>
<text x="126.9" y="120" font-size="4.2" font-weight="bold" fill="#111">1</text>
<text x="129.1" y="118.5" font-size="2.8" font-weight="bold" fill="#111">0</text>
<text x="126.9" y="129.5" font-size="4.2" font-weight="bold" fill="#111">1</text>
<text x="129.1" y="128" font-size="2.8" font-weight="bold" fill="#111">0</text>
<text x="126.9" y="139.1" font-size="4.2" font-weight="bold" fill="#111">1</text>
<text x="129.1" y="137.6" font-size="2.8" font-weight="bold" fill="#111">0</text>
<text x="126.9" y="148.7" font-size="4.2" font-weight="bold" fill="#111">1</text>
<text x="129.1" y="147.2" font-size="2.8" font-weight="bold" fill="#111">0</text>
<text x="130.9" y="152.8" font-size="4.2" font-weight="bold" fill="#111">1</text>
<text x="133" y="151.4" font-size="2.8" font-weight="bold" fill="#111">0</text>
<text x="145.3" y="152.8" font-size="4.2" font-weight="bold" fill="#111">1</text>
<text x="147.4" y="151.4" font-size="2.8" font-weight="bold" fill="#111">0</text>
<text x="159.8" y="152.8" font-size="4.2" font-weight="bold" fill="#111">1</text>
<text x="161.9" y="151.4" font-size="2.8" font-weight="bold" fill="#111">0</text>
<text x="174.2" y="152.8" font-size="4.2" font-weight="bold" fill="#111">1</text>
<text x="176.4" y="151.4" font-size="2.8" font-weight="bold" fill="#111">0</text>
<text x="188.7" y="152.8" font-size="4.2" font-weight="bold" fill="#111">1</text>
<text x="190.8" y="151.4" font-size="2.8" font-weight="bold" fill="#111">0</text>
<line x1="118.3" y1="129.5" x2="118.3" y2="151.5" stroke="#000" stroke-width="1.1"/>
<path d="M118.3 126.5l-1.8 4h3.6z" fill="#000"/>
<text x="0" y="0" font-size="7" font-weight="bold" text-anchor="middle" transform="translate(120.2 111.2) scale(0.85 1) rotate(-90)" fill="#000">CD56</text>
<line x1="120" y1="161.2" x2="138.5" y2="161.2" stroke="#000" stroke-width="1.1"/>
<path d="M141.5 161.2l-4 -1.8v3.6z" fill="#000"/>
<text x="142" y="163.9" font-size="7.4" fill="#000">KIR2DL1/2DS1</text>
<text x="142.9" y="171.9" font-size="7.6" fill="#000">(anti-CD158a)</text>
<g filter="url(#bd)">
<path fill="#555" d="M227.6 128.9h1v1h-1zM227.1 129.5h1v1h-1zM225.3 126h1v1h-1zM228 127h1v1h-1zM226.5 129.7h1v1h-1zM228.8 131.1h1v1h-1zM224.8 127.1h1v1h-1zM227.9 124.4h1v1h-1zM223.4 129.5h1v1h-1zM225 125.7h1v1h-1zM228.5 129.3h1v1h-1zM228.8 127.2h1v1h-1zM225.8 127.1h1v1h-1zM227.3 122.9h1v1h-1zM224.8 129.8h1v1h-1zM224.6 127.8h1v1h-1zM226.8 129.3h1v1h-1zM225.4 125.1h1v1h-1zM232.7 126.2h1v1h-1zM230.7 123.6h1v1h-1zM226.8 127.5h1v1h-1zM231.2 133.2h1v1h-1zM228.9 125.4h1v1h-1zM224.5 126.1h1v1h-1zM225.3 128.7h1v1h-1zM224.6 127.4h1v1h-1zM230.1 131.6h1v1h-1zM221.9 125.6h1v1h-1zM225.6 131.3h1v1h-1zM225.7 132.8h1v1h-1zM227.4 131.6h1v1h-1zM224.4 127.2h1v1h-1zM229 129.4h1v1h-1zM221.9 127.3h1v1h-1zM227 129.6h1v1h-1zM225 132.4h1v1h-1zM226.9 131.7h1v1h-1zM227.5 128.2h1v1h-1zM225.7 125.1h1v1h-1zM228.6 129.9h1v1h-1zM228.8 127.1h1v1h-1zM224.1 127h1v1h-1zM225.8 128h1v1h-1zM228.9 125.7h1v1h-1zM225.3 129.7h1v1h-1zM228.7 133.6h1v1h-1zM227.8 125.9h1v1h-1zM224 126h1v1h-1zM226.7 128.6h1v1h-1zM226.4 126.5h1v1h-1zM226.1 127.8h1v1h-1zM228 128.2h1v1h-1zM224.5 125.1h1v1h-1zM230.2 127.8h1v1h-1zM226.1 127.9h1v1h-1zM229.3 127.2h1v1h-1zM227 127.4h1v1h-1zM227.9 125.5h1v1h-1zM227 130.6h1v1h-1zM229.4 129.6h1v1h-1zM227.3 132h1v1h-1zM228.3 131.5h1v1h-1zM223.6 125.2h1v1h-1zM228.5 127.3h1v1h-1zM225.5 125.6h1v1h-1zM230.2 125h1v1h-1zM226.8 124.5h1v1h-1zM226.1 133.7h1v1h-1zM232.5 126.8h1v1h-1zM224.1 132.1h1v1h-1zM224.4 123.5h1v1h-1zM227.4 125.3h1v1h-1zM223 130.8h1v1h-1zM224.7 125.3h1v1h-1zM226.9 127.5h1v1h-1zM229.3 128.2h1v1h-1zM230.4 130.9h1v1h-1zM230.9 130.8h1v1h-1zM226.7 129.4h1v1h-1zM226.6 124.1h1v1h-1zM223.7 129.9h1v1h-1zM223.4 127.8h1v1h-1zM224 128.6h1v1h-1zM226.1 126.8h1v1h-1zM224.5 122.4h1v1h-1zM226.7 124.8h1v1h-1zM225.8 128.9h1v1h-1zM229.1 129.8h1v1h-1zM230.2 124.4h1v1h-1zM228.2 132h1v1h-1zM227.5 125.2h1v1h-1zM227.5 126.7h1v1h-1zM225 130.7h1v1h-1zM226.1 125.2h1v1h-1zM224.9 132.9h1v1h-1zM224.5 129.7h1v1h-1zM227 130.9h1v1h-1zM225.9 125.6h1v1h-1zM225 125.4h1v1h-1zM232.9 128.5h1v1h-1zM225.8 131.2h1v1h-1zM228.1 127.5h1v1h-1zM228.1 128.7h1v1h-1zM229.3 132.2h1v1h-1zM225.8 127.9h1v1h-1zM226.1 131.1h1v1h-1zM227.5 130h1v1h-1zM228.7 126.4h1v1h-1zM226.9 131.5h1v1h-1zM228.8 130h1v1h-1zM225.9 127.1h1v1h-1zM224.4 127.3h1v1h-1zM226.4 124.4h1v1h-1zM229.4 126.1h1v1h-1zM227.2 129.5h1v1h-1zM225.2 123.5h1v1h-1zM228.9 129h1v1h-1zM225.9 130.9h1v1h-1zM228.7 125.6h1v1h-1zM226.3 123.6h1v1h-1zM225.9 131.6h1v1h-1zM224.5 130.1h1v1h-1zM222.9 127.3h1v1h-1zM228.8 132.3h1v1h-1zM227.6 129.9h1v1h-1zM230.7 121.9h1v1h-1zM222.4 132.8h1v1h-1zM232.6 129.5h1v1h-1zM226.7 128.7h1v1h-1zM226.6 126.5h1v1h-1zM226.5 127.7h1v1h-1zM228.2 129.7h1v1h-1zM228.9 129.5h1v1h-1zM224.2 131.5h1v1h-1zM227.3 126.7h1v1h-1zM231.1 125.3h1v1h-1zM223.7 126.7h1v1h-1zM227.6 130h1v1h-1zM226.8 129.7h1v1h-1zM224.8 126.5h1v1h-1zM226.9 124.6h1v1h-1zM227 127h1v1h-1zM228.2 125.5h1v1h-1zM225.3 126.6h1v1h-1zM225.7 125.5h1v1h-1zM225.9 124.6h1v1h-1zM227.8 129.7h1v1h-1zM226.5 127.5h1v1h-1zM224.4 125.6h1v1h-1zM226 125.7h1v1h-1zM223.7 128.4h1v1h-1zM226.5 127h1v1h-1zM224.6 127.9h1v1h-1zM224.9 126.9h1v1h-1zM227 129.8h1v1h-1zM228.4 126.5h1v1h-1zM229.5 125.1h1v1h-1zM226.1 131.3h1v1h-1zM232.3 128.3h1v1h-1zM225.7 127.1h1v1h-1zM223.6 127.6h1v1h-1zM225.5 126.1h1v1h-1zM229.4 126.1h1v1h-1zM230.6 130.1h1v1h-1zM228.1 126.5h1v1h-1zM225.3 123h1v1h-1zM227.2 127.3h1v1h-1zM227.5 126.3h1v1h-1zM227.7 124.2h1v1h-1zM221.2 129.2h1v1h-1zM229.1 120.1h1v1h-1zM229.7 127.1h1v1h-1zM226.1 124.1h1v1h-1zM224.1 129.8h1v1h-1zM224.8 127.9h1v1h-1zM226.2 133h1v1h-1zM228.7 124.7h1v1h-1zM225.4 125.1h1v1h-1zM223.2 126.3h1v1h-1zM229.2 128.1h1v1h-1zM228.2 127.7h1v1h-1zM225.5 128.2h1v1h-1zM226.4 132.8h1v1h-1zM230.9 129h1v1h-1zM228 123h1v1h-1zM226.2 134h1v1h-1zM224.6 130.1h1v1h-1zM229.5 127h1v1h-1zM226 126.9h1v1h-1zM228.5 128.1h1v1h-1zM230.2 131h1v1h-1zM226.5 134.5h1v1h-1zM225.8 126.5h1v1h-1zM226 125.8h1v1h-1zM225.5 127.8h1v1h-1zM228.7 124h1v1h-1zM223.2 126.1h1v1h-1zM225.8 129.1h1v1h-1zM246.3 130.3h1v1h-1zM246.4 131h1v1h-1zM244.7 126.1h1v1h-1zM241.4 128.2h1v1h-1zM243.4 130.5h1v1h-1zM248.1 129.5h1v1h-1zM247.1 129.6h1v1h-1zM246.4 128.8h1v1h-1zM245.2 131.2h1v1h-1zM245.5 129.4h1v1h-1zM248.3 130.9h1v1h-1zM245.3 129.9h1v1h-1zM244.1 129.7h1v1h-1zM246.6 129.5h1v1h-1zM246.3 130h1v1h-1zM241.2 128.3h1v1h-1zM246.2 128.8h1v1h-1zM244.2 129.2h1v1h-1zM249.1 129.2h1v1h-1zM244.8 128.8h1v1h-1zM243.7 130.2h1v1h-1zM244.1 130.8h1v1h-1zM247.8 130.3h1v1h-1zM248 129.4h1v1h-1zM242.7 129.4h1v1h-1z"/>
<path fill="#888" d="M223.9 133.1h1v1h-1zM224.8 127.3h1v1h-1zM226.7 132h1v1h-1zM227.6 128.1h1v1h-1zM224.7 128.6h1v1h-1zM227.9 126.8h1v1h-1zM226.5 121.8h1v1h-1zM224.8 132h1v1h-1zM231.3 127.8h1v1h-1zM226 136.7h1v1h-1zM225.2 131.4h1v1h-1zM224.5 132.7h1v1h-1zM230.5 124.4h1v1h-1zM230.9 137.7h1v1h-1zM225.8 123.9h1v1h-1zM227.5 126.6h1v1h-1zM221.5 124.4h1v1h-1zM227.4 122.8h1v1h-1zM230.2 129.5h1v1h-1zM225.9 132.8h1v1h-1zM223.4 130.3h1v1h-1zM222 126.9h1v1h-1zM228.7 126.2h1v1h-1zM226.2 130.2h1v1h-1zM231.7 132.4h1v1h-1zM228.1 127.1h1v1h-1zM221.7 133.8h1v1h-1zM232.9 120.7h1v1h-1zM229.5 127.9h1v1h-1zM228.9 129.1h1v1h-1zM225.9 128h1v1h-1zM226.4 132h1v1h-1zM225.7 126.2h1v1h-1zM228.7 130.2h1v1h-1zM228 129h1v1h-1zM231.5 131.8h1v1h-1zM227.3 127.3h1v1h-1zM228.8 121.6h1v1h-1zM224.8 125.6h1v1h-1zM227.1 126.7h1v1h-1zM234.8 130.5h1v1h-1zM227.9 135.7h1v1h-1zM226.5 126.9h1v1h-1zM230.7 130.8h1v1h-1zM229.7 132.1h1v1h-1zM225.3 125.8h1v1h-1zM224.1 128.4h1v1h-1zM229.9 124.4h1v1h-1zM224.7 123.5h1v1h-1zM253.3 130.9h1v1h-1zM247.3 126h1v1h-1zM243.1 127.4h1v1h-1zM246.6 125.9h1v1h-1zM245.8 132h1v1h-1zM246.6 129.2h1v1h-1zM239.5 128.3h1v1h-1zM246 127.3h1v1h-1zM241.9 128.8h1v1h-1zM243.1 127.7h1v1h-1zM241.2 128.8h1v1h-1zM249.6 127h1v1h-1zM247.6 125.3h1v1h-1zM248.5 130.3h1v1h-1zM245.2 131.2h1v1h-1zM243.6 129.1h1v1h-1zM252.2 128.9h1v1h-1zM242.8 131.8h1v1h-1zM248.3 128.3h1v1h-1zM240.4 124.4h1v1h-1zM241.4 132.6h1v1h-1zM247.5 126.9h1v1h-1zM250.4 132.6h1v1h-1zM243.7 130.2h1v1h-1zM241 129.9h1v1h-1zM252.6 125.6h1v1h-1zM246.7 127.5h1v1h-1zM246.2 129.2h1v1h-1zM247.5 131.2h1v1h-1zM248.3 131.6h1v1h-1zM249.9 131.7h1v1h-1zM244.3 130h1v1h-1zM245.3 126.9h1v1h-1zM253.1 129.7h1v1h-1zM246.7 123.9h1v1h-1zM245.8 130.9h1v1h-1zM245.8 127.7h1v1h-1zM251.5 128.2h1v1h-1zM245.4 128.8h1v1h-1zM245.7 131.6h1v1h-1zM248.4 128.8h1v1h-1zM245.3 128.5h1v1h-1zM252.2 128.3h1v1h-1zM248.7 125.2h1v1h-1zM247.6 130.7h1v1h-1zM250.8 129.8h1v1h-1zM248.5 129.8h1v1h-1zM250.1 134h1v1h-1zM247.2 127h1v1h-1zM248.5 128.7h1v1h-1zM248.7 130.9h1v1h-1zM247 127.9h1v1h-1zM247.6 126h1v1h-1zM247.5 126.8h1v1h-1zM248 129.3h1v1h-1zM245.8 126.1h1v1h-1zM246.7 127.3h1v1h-1zM246.1 130.7h1v1h-1zM249.7 125.9h1v1h-1zM249.7 132.3h1v1h-1zM250.3 129.7h1v1h-1zM246.2 133.2h1v1h-1zM245.5 125.3h1v1h-1zM246.8 129.7h1v1h-1zM243.1 126h1v1h-1zM253.2 129.3h1v1h-1zM249.1 127.6h1v1h-1zM241.5 128.6h1v1h-1zM251 127.4h1v1h-1zM240.5 128.6h1v1h-1zM245.6 129h1v1h-1zM243 128.2h1v1h-1zM244.7 131.2h1v1h-1zM247 131.1h1v1h-1zM246.4 123.8h1v1h-1zM240 130.3h1v1h-1zM249.5 131.1h1v1h-1zM246.3 124.6h1v1h-1zM244.9 130h1v1h-1zM251.2 128.2h1v1h-1zM244.7 127.1h1v1h-1zM249.9 131.1h1v1h-1zM240.4 132h1v1h-1zM243.5 125.4h1v1h-1zM241.2 127.2h1v1h-1zM254.3 135.2h1v1h-1zM242.4 127.4h1v1h-1zM247.1 130h1v1h-1zM244.9 125.1h1v1h-1zM245.2 127.3h1v1h-1zM240.5 129.4h1v1h-1zM241.6 124.8h1v1h-1zM251.6 131.3h1v1h-1zM251.4 129.3h1v1h-1zM245.2 128.8h1v1h-1zM242 130.8h1v1h-1zM247.4 128.3h1v1h-1zM240.3 128.7h1v1h-1zM252 132.5h1v1h-1zM249.5 128.1h1v1h-1z"/>
</g>
<rect x="220.7" y="105.7" width="57.8" height="42.1" fill="none" stroke="#111" stroke-width="1.1"/>
<line x1="235.5" y1="105.7" x2="235.5" y2="147.8" stroke="#111" stroke-width="1.1"/>
<line x1="220.7" y1="135.3" x2="278.5" y2="135.3" stroke="#111" stroke-width="1.1"/>
<text x="271.8" y="114.6" font-size="7" font-weight="bold" fill="#000">f</text>
<text x="214.9" y="108.4" font-size="4.2" font-weight="bold" fill="#111">1</text>
<text x="217.1" y="106.9" font-size="2.8" font-weight="bold" fill="#111">0</text>
<text x="214.9" y="118.4" font-size="4.2" font-weight="bold" fill="#111">1</text>
<text x="217.1" y="116.9" font-size="2.8" font-weight="bold" fill="#111">0</text>
<text x="214.9" y="128.4" font-size="4.2" font-weight="bold" fill="#111">1</text>
<text x="217.1" y="127" font-size="2.8" font-weight="bold" fill="#111">0</text>
<text x="214.9" y="138.5" font-size="4.2" font-weight="bold" fill="#111">1</text>
<text x="217.1" y="137" font-size="2.8" font-weight="bold" fill="#111">0</text>
<text x="214.9" y="148.5" font-size="4.2" font-weight="bold" fill="#111">1</text>
<text x="217.1" y="147" font-size="2.8" font-weight="bold" fill="#111">0</text>
<text x="218.9" y="152.6" font-size="4.2" font-weight="bold" fill="#111">1</text>
<text x="221" y="151.2" font-size="2.8" font-weight="bold" fill="#111">0</text>
<text x="233.3" y="152.6" font-size="4.2" font-weight="bold" fill="#111">1</text>
<text x="235.4" y="151.2" font-size="2.8" font-weight="bold" fill="#111">0</text>
<text x="247.8" y="152.6" font-size="4.2" font-weight="bold" fill="#111">1</text>
<text x="249.9" y="151.2" font-size="2.8" font-weight="bold" fill="#111">0</text>
<text x="262.2" y="152.6" font-size="4.2" font-weight="bold" fill="#111">1</text>
<text x="264.4" y="151.2" font-size="2.8" font-weight="bold" fill="#111">0</text>
<text x="276.7" y="152.6" font-size="4.2" font-weight="bold" fill="#111">1</text>
<text x="278.8" y="151.2" font-size="2.8" font-weight="bold" fill="#111">0</text>
<line x1="205" y1="130.5" x2="205" y2="151.5" stroke="#000" stroke-width="1.1"/>
<path d="M205 127.5l-1.8 4h3.6z" fill="#000"/>
<text x="0" y="0" font-size="7" font-weight="bold" text-anchor="middle" transform="translate(207.1 111.5) scale(0.85 1) rotate(-90)" fill="#000">CD56</text>
<line x1="208" y1="161.2" x2="225.5" y2="161.2" stroke="#000" stroke-width="1.1"/>
<path d="M228.5 161.2l-4 -1.8v3.6z" fill="#000"/>
<text x="231" y="163.9" font-size="7.4" fill="#000">KIR2DL2/2DS2</text>
<text x="231.9" y="171.9" font-size="7.6" fill="#000">(anti-CD158b)</text>
<text x="286" y="126" font-size="7.7" fill="#000">Healthy</text>
<text x="286" y="135" font-size="7.7" fill="#000">Control</text>
<text x="343" y="9.3" font-size="10.5" font-weight="bold" fill="#000">B</text>
<text x="370.5" y="24.3" font-size="9.6" font-weight="bold" text-anchor="middle" fill="#000">KIR2DL1</text>
<text x="370.5" y="35.8" font-size="9.6" font-weight="bold" text-anchor="middle" fill="#000">(inhibitory)</text>
<line x1="343.6" y1="40.3" x2="391.2" y2="40.3" stroke="#000" stroke-width="1.3"/>
<text x="353.3" y="52.3" font-size="9" font-weight="bold" text-anchor="middle" fill="#000">C</text>
<text x="365.3" y="52.3" font-size="9" font-weight="bold" text-anchor="middle" fill="#000">P</text>
<text x="376.8" y="52.3" font-size="9" font-weight="bold" text-anchor="middle" fill="#000">N</text>
<text x="353.3" y="112.3" font-size="9.5" font-weight="bold" text-anchor="middle" fill="#000">1</text>
<text x="365.3" y="112.3" font-size="9.5" font-weight="bold" text-anchor="middle" fill="#000">2</text>
<text x="376.8" y="112.3" font-size="9.5" font-weight="bold" text-anchor="middle" fill="#000">3</text>
<text x="389" y="112.3" font-size="9.5" font-weight="bold" text-anchor="middle" fill="#000">4</text>
<rect x="347.2" y="54.6" width="46.1" height="46.7" fill="#050505"/>
<rect x="373" y="72" width="9" height="14" rx="3.6" fill="#fff" fill-opacity="0.14" filter="url(#b2)"/>
<rect x="361.5" y="72" width="8" height="14" rx="3.2" fill="#fff" fill-opacity="0.06" filter="url(#b2)"/>
<rect x="360.6" y="63.7" width="9.8" height="7.2" rx="2.9" fill="#fff" fill-opacity="0.95" filter="url(#b1)"/>
<rect x="372.1" y="63.6" width="9.8" height="7.4" rx="3" fill="#fff" fill-opacity="0.95" filter="url(#b1)"/>
<rect x="361.4" y="86.4" width="8.4" height="2.2" rx="0.9" fill="#fff" fill-opacity="0.7" filter="url(#b1)"/>
<rect x="373.1" y="85.5" width="9.6" height="5.6" rx="2.2" fill="#fff" fill-opacity="0.98" filter="url(#b1)"/>
<rect x="385" y="55.2" width="8" height="1.6" fill="#fff" fill-opacity="0.45" filter="url(#b1)"/>
<rect x="385" y="57.7" width="8" height="1.6" fill="#fff" fill-opacity="0.45" filter="url(#b1)"/>
<rect x="385" y="60.7" width="8" height="1.6" fill="#fff" fill-opacity="0.55" filter="url(#b1)"/>
<rect x="385" y="64" width="8" height="1.6" fill="#fff" fill-opacity="0.6" filter="url(#b1)"/>
<rect x="385" y="67.5" width="8" height="1.6" fill="#fff" fill-opacity="0.5" filter="url(#b1)"/>
<rect x="385" y="70.5" width="8" height="1.6" fill="#fff" fill-opacity="0.4" filter="url(#b1)"/>
<rect x="385" y="73.7" width="8" height="1.6" fill="#fff" fill-opacity="0.95" filter="url(#b1)"/>
<rect x="385" y="79.8" width="8" height="1.6" fill="#fff" fill-opacity="0.3" filter="url(#b1)"/>
<rect x="385" y="89.6" width="8" height="1.6" fill="#fff" fill-opacity="0.5" filter="url(#b1)"/>
<line x1="396.5" y1="66" x2="403" y2="66" stroke="#000" stroke-width="1.4"/>
<text x="406" y="69.3" font-size="9.8" font-weight="bold" fill="#000">actin</text>
<line x1="396.5" y1="87.2" x2="403" y2="87.2" stroke="#000" stroke-width="1.4"/>
<text x="406" y="90.7" font-size="9.4" font-weight="bold" fill="#000">KIR</text>
<text x="460" y="24.3" font-size="9.6" font-weight="bold" text-anchor="middle" fill="#000">KIR2DS1</text>
<text x="460" y="35.8" font-size="9.6" font-weight="bold" text-anchor="middle" fill="#000">(Activating)</text>
<line x1="436" y1="40.3" x2="484" y2="40.3" stroke="#000" stroke-width="1.3"/>
<text x="443" y="52.3" font-size="9" font-weight="bold" text-anchor="middle" fill="#000">C</text>
<text x="456" y="52.3" font-size="9" font-weight="bold" text-anchor="middle" fill="#000">P</text>
<text x="467.5" y="52.3" font-size="9" font-weight="bold" text-anchor="middle" fill="#000">N</text>
<text x="443" y="112.3" font-size="9.5" font-weight="bold" text-anchor="middle" fill="#000">1</text>
<text x="456" y="112.3" font-size="9.5" font-weight="bold" text-anchor="middle" fill="#000">2</text>
<text x="467.5" y="112.3" font-size="9.5" font-weight="bold" text-anchor="middle" fill="#000">3</text>
<text x="479.3" y="112.3" font-size="9.5" font-weight="bold" text-anchor="middle" fill="#000">4</text>
<rect x="437.2" y="54" width="47.6" height="46.8" fill="#050505"/>
<rect x="450.7" y="55.5" width="21" height="25" rx="3" fill="#fff" fill-opacity="0.22" filter="url(#b2)"/>
<rect x="450.6" y="62.2" width="10.5" height="9.5" rx="3.8" fill="#fff" fill-opacity="0.9" filter="url(#b2)"/>
<rect x="461.4" y="62.2" width="10.5" height="9.5" rx="3.8" fill="#fff" fill-opacity="0.9" filter="url(#b2)"/>
<rect x="452" y="84.1" width="8.6" height="4.6" rx="1.8" fill="#fff" fill-opacity="0.85" filter="url(#b1)"/>
<rect x="462.9" y="84" width="8.6" height="4" rx="1.6" fill="#fff" fill-opacity="0.85" filter="url(#b1)"/>
<rect x="475.3" y="57.5" width="8" height="12" rx="3.2" fill="#fff" fill-opacity="0.2" filter="url(#b1)"/>
<rect x="475.3" y="56.7" width="8" height="1.6" fill="#fff" fill-opacity="0.25" filter="url(#b1)"/>
<rect x="475.3" y="59.7" width="8" height="1.6" fill="#fff" fill-opacity="0.3" filter="url(#b1)"/>
<rect x="475.3" y="62.7" width="8" height="1.6" fill="#fff" fill-opacity="0.3" filter="url(#b1)"/>
<rect x="475.3" y="65.7" width="8" height="1.6" fill="#fff" fill-opacity="0.35" filter="url(#b1)"/>
<rect x="475.3" y="68.5" width="8" height="1.6" fill="#fff" fill-opacity="0.3" filter="url(#b1)"/>
<rect x="475.3" y="71.8" width="8" height="1.6" fill="#fff" fill-opacity="0.95" filter="url(#b1)"/>
<line x1="487" y1="68" x2="493.5" y2="68" stroke="#000" stroke-width="1.4"/>
<text x="496.5" y="71.3" font-size="9.8" font-weight="bold" fill="#000">actin</text>
<line x1="487" y1="89" x2="493.5" y2="89" stroke="#000" stroke-width="1.4"/>
<text x="496.5" y="92.5" font-size="9.4" font-weight="bold" fill="#000">KIR</text>
<text x="1" y="192.2" font-size="11.2" font-weight="bold" fill="#000">C</text>
<rect x="36" y="209.7" width="136.5" height="141.1" fill="none" stroke="#222" stroke-width="1"/>
<line x1="33" y1="350.8" x2="36" y2="350.8" stroke="#000" stroke-width="1"/>
<text x="30" y="353.3" font-size="7" font-weight="bold" text-anchor="end" fill="#000">0</text>
<line x1="33" y1="327.3" x2="36" y2="327.3" stroke="#000" stroke-width="1"/>
<text x="30" y="329.8" font-size="7" font-weight="bold" text-anchor="end" fill="#000">20</text>
<line x1="33" y1="303.8" x2="36" y2="303.8" stroke="#000" stroke-width="1"/>
<text x="30" y="306.3" font-size="7" font-weight="bold" text-anchor="end" fill="#000">40</text>
<line x1="33" y1="280.2" x2="36" y2="280.2" stroke="#000" stroke-width="1"/>
<text x="30" y="282.8" font-size="7" font-weight="bold" text-anchor="end" fill="#000">60</text>
<line x1="33" y1="256.7" x2="36" y2="256.7" stroke="#000" stroke-width="1"/>
<text x="30" y="259.2" font-size="7" font-weight="bold" text-anchor="end" fill="#000">80</text>
<line x1="33" y1="233.2" x2="36" y2="233.2" stroke="#000" stroke-width="1"/>
<text x="30" y="235.7" font-size="7" font-weight="bold" text-anchor="end" fill="#000">100</text>
<line x1="33" y1="209.7" x2="36" y2="209.7" stroke="#000" stroke-width="1"/>
<text x="30" y="212.2" font-size="7" font-weight="bold" text-anchor="end" fill="#000">120</text>
<line x1="36" y1="350.8" x2="36" y2="353.8" stroke="#000" stroke-width="1"/>
<line x1="58.8" y1="350.8" x2="58.8" y2="353.8" stroke="#000" stroke-width="1"/>
<line x1="81.5" y1="350.8" x2="81.5" y2="353.8" stroke="#000" stroke-width="1"/>
<line x1="104.2" y1="350.8" x2="104.2" y2="353.8" stroke="#000" stroke-width="1"/>
<line x1="127" y1="350.8" x2="127" y2="353.8" stroke="#000" stroke-width="1"/>
<line x1="149.8" y1="350.8" x2="149.8" y2="353.8" stroke="#000" stroke-width="1"/>
<line x1="172.5" y1="350.8" x2="172.5" y2="353.8" stroke="#000" stroke-width="1"/>
<line x1="50.8" y1="349" x2="50.8" y2="348.7" stroke="#777" stroke-width="0.8"/>
<rect x="47.4" y="349" width="6.8" height="1.8" fill="#050505"/>
<text x="51.7" y="354.2" font-size="8.2" font-weight="bold" text-anchor="end" transform="rotate(-90 51.7 354.2)" fill="#000" textLength="19.3" lengthAdjust="spacingAndGlyphs">Media</text>
<line x1="66.7" y1="349.9" x2="66.7" y2="349.3" stroke="#777" stroke-width="0.8"/>
<rect x="63.3" y="349.9" width="6.8" height="0.9" fill="#bdbdbd" stroke="#666" stroke-width="0.7"/>
<line x1="73.5" y1="350.4" x2="73.5" y2="350.2" stroke="#777" stroke-width="0.8"/>
<rect x="70.1" y="350.4" width="6.8" height="0.4" fill="#050505"/>
<text x="74.4" y="354.2" font-size="8.2" font-weight="bold" text-anchor="end" transform="rotate(-90 74.4 354.2)" fill="#000" textLength="34.5" lengthAdjust="spacingAndGlyphs">Isotype Ab</text>
<line x1="89.5" y1="321.4" x2="89.5" y2="314.3" stroke="#777" stroke-width="0.8"/>
<rect x="86.1" y="321.4" width="6.8" height="29.4" fill="#bdbdbd" stroke="#666" stroke-width="0.7"/>
<line x1="96.3" y1="326.1" x2="96.3" y2="317.9" stroke="#777" stroke-width="0.8"/>
<rect x="92.9" y="326.1" width="6.8" height="24.7" fill="#050505"/>
<text x="97.2" y="354.2" font-size="8.2" font-weight="bold" text-anchor="end" transform="rotate(-90 97.2 354.2)" fill="#000" textLength="21.5" lengthAdjust="spacingAndGlyphs">NKp46</text>
<line x1="112.2" y1="336.1" x2="112.2" y2="334.3" stroke="#777" stroke-width="0.8"/>
<rect x="108.8" y="336.1" width="6.8" height="14.7" fill="#bdbdbd" stroke="#666" stroke-width="0.7"/>
<line x1="119" y1="236.7" x2="119" y2="225" stroke="#777" stroke-width="0.8"/>
<rect x="115.6" y="236.7" width="6.8" height="114.1" fill="#050505"/>
<text x="119.9" y="354.2" font-size="8.2" font-weight="bold" text-anchor="end" transform="rotate(-90 119.9 354.2)" fill="#000" textLength="24.9" lengthAdjust="spacingAndGlyphs">CD158a</text>
<line x1="135" y1="338.5" x2="135" y2="337" stroke="#777" stroke-width="0.8"/>
<rect x="131.6" y="338.5" width="6.8" height="12.3" fill="#bdbdbd" stroke="#666" stroke-width="0.7"/>
<line x1="141.8" y1="347.3" x2="141.8" y2="346.7" stroke="#777" stroke-width="0.8"/>
<rect x="138.4" y="347.3" width="6.8" height="3.5" fill="#050505"/>
<text x="142.7" y="354.2" font-size="8.2" font-weight="bold" text-anchor="end" transform="rotate(-90 142.7 354.2)" fill="#000" textLength="25.3" lengthAdjust="spacingAndGlyphs">CD158b</text>
<line x1="157.7" y1="320.2" x2="157.7" y2="317.9" stroke="#777" stroke-width="0.8"/>
<rect x="154.3" y="320.2" width="6.8" height="30.6" fill="#bdbdbd" stroke="#666" stroke-width="0.7"/>
<line x1="164.5" y1="269.7" x2="164.5" y2="269.3" stroke="#777" stroke-width="0.8"/>
<rect x="161.1" y="269.7" width="6.8" height="81.1" fill="#050505"/>
<text x="165.4" y="354.2" font-size="8.2" font-weight="bold" text-anchor="end" transform="rotate(-90 165.4 354.2)" fill="#000" textLength="17.4" lengthAdjust="spacingAndGlyphs">CD16</text>
<rect x="45.3" y="215.9" width="44.7" height="18.4" fill="#fff" stroke="#111" stroke-width="1.1"/>
<rect x="48.4" y="219.6" width="3" height="3" fill="#ddd" stroke="#333" stroke-width="0.7"/>
<text x="53.7" y="223.2" font-size="6.4" fill="#000">NL Control</text>
<rect x="48.2" y="228.6" width="3.4" height="3.4" fill="#000"/>
<text x="53.7" y="232.1" font-size="6.4" fill="#000">LGL Patient</text>
<text x="10.4" y="289" font-size="8.7" font-weight="bold" text-anchor="middle" transform="rotate(-90 10.4 289)" fill="#000" textLength="88" lengthAdjust="spacingAndGlyphs">Specific Lysis (%)&#160;&#160;P815</text>
<text x="209.2" y="192.2" font-size="11" font-weight="bold" fill="#000">D</text>
<rect x="233.7" y="237.4" width="214.1" height="80.8" fill="none" stroke="#888" stroke-width="0.9"/>
<line x1="341" y1="237.4" x2="341" y2="318.2" stroke="#777" stroke-width="0.9"/>
<line x1="233.7" y1="237.4" x2="233.7" y2="318.2" stroke="#333" stroke-width="0.9"/>
<line x1="233.7" y1="318.2" x2="447.8" y2="318.2" stroke="#333" stroke-width="0.9"/>
<line x1="231.2" y1="318.2" x2="233.7" y2="318.2" stroke="#555" stroke-width="0.8"/>
<text x="230.2" y="320.7" font-size="7" font-weight="bold" text-anchor="end" fill="#222">0</text>
<line x1="231.2" y1="308.1" x2="233.7" y2="308.1" stroke="#555" stroke-width="0.8"/>
<text x="230.2" y="310.6" font-size="7" font-weight="bold" text-anchor="end" fill="#222">10</text>
<line x1="231.2" y1="298" x2="233.7" y2="298" stroke="#555" stroke-width="0.8"/>
<text x="230.2" y="300.5" font-size="7" font-weight="bold" text-anchor="end" fill="#222">20</text>
<line x1="231.2" y1="287.9" x2="233.7" y2="287.9" stroke="#555" stroke-width="0.8"/>
<text x="230.2" y="290.4" font-size="7" font-weight="bold" text-anchor="end" fill="#222">30</text>
<line x1="231.2" y1="277.8" x2="233.7" y2="277.8" stroke="#555" stroke-width="0.8"/>
<text x="230.2" y="280.3" font-size="7" font-weight="bold" text-anchor="end" fill="#222">40</text>
<line x1="231.2" y1="267.7" x2="233.7" y2="267.7" stroke="#555" stroke-width="0.8"/>
<text x="230.2" y="270.2" font-size="7" font-weight="bold" text-anchor="end" fill="#222">50</text>
<line x1="231.2" y1="257.6" x2="233.7" y2="257.6" stroke="#555" stroke-width="0.8"/>
<text x="230.2" y="260.1" font-size="7" font-weight="bold" text-anchor="end" fill="#222">60</text>
<line x1="231.2" y1="247.5" x2="233.7" y2="247.5" stroke="#555" stroke-width="0.8"/>
<text x="230.2" y="250" font-size="7" font-weight="bold" text-anchor="end" fill="#222">70</text>
<line x1="231.2" y1="237.4" x2="233.7" y2="237.4" stroke="#555" stroke-width="0.8"/>
<text x="230.2" y="239.9" font-size="7" font-weight="bold" text-anchor="end" fill="#222">80</text>
<line x1="233.7" y1="318.2" x2="233.7" y2="335.4" stroke="#777" stroke-width="0.9"/>
<line x1="447.8" y1="318.2" x2="447.8" y2="330" stroke="#888" stroke-width="0.9"/>
<line x1="260.6" y1="319.7" x2="260.6" y2="327.5" stroke="#777" stroke-width="0.8"/>
<line x1="286.8" y1="319.7" x2="286.8" y2="327.5" stroke="#777" stroke-width="0.8"/>
<line x1="313" y1="319.7" x2="313" y2="327.5" stroke="#777" stroke-width="0.8"/>
<line x1="341" y1="319.7" x2="341" y2="327.5" stroke="#777" stroke-width="0.8"/>
<line x1="367.7" y1="319.7" x2="367.7" y2="327.5" stroke="#777" stroke-width="0.8"/>
<line x1="394.6" y1="319.7" x2="394.6" y2="327.5" stroke="#777" stroke-width="0.8"/>
<line x1="421.4" y1="319.7" x2="421.4" y2="327.5" stroke="#777" stroke-width="0.8"/>
<text x="247.3" y="325.8" font-size="6" font-weight="bold" text-anchor="middle" fill="#222">6:1</text>
<text x="273.5" y="325.8" font-size="6" font-weight="bold" text-anchor="middle" fill="#222">12:1</text>
<text x="300" y="325.8" font-size="6" font-weight="bold" text-anchor="middle" fill="#222">25:1</text>
<text x="326.3" y="325.8" font-size="6" font-weight="bold" text-anchor="middle" fill="#222">50:1</text>
<text x="353.8" y="325.8" font-size="6" font-weight="bold" text-anchor="middle" fill="#222">6:1</text>
<text x="380.6" y="325.8" font-size="6" font-weight="bold" text-anchor="middle" fill="#222">12:1</text>
<text x="407.5" y="325.8" font-size="6" font-weight="bold" text-anchor="middle" fill="#222">25:1</text>
<text x="434.8" y="325.8" font-size="6" font-weight="bold" text-anchor="middle" fill="#222">50:1</text>
<text x="344.8" y="341.2" font-size="6.2" font-weight="bold" text-anchor="middle" fill="#222">Effector:Target Ratio</text>
<text x="286.2" y="235.3" font-size="7.8" font-weight="bold" text-anchor="middle" fill="#000">LGL Patient</text>
<text x="391" y="236.1" font-size="7.8" font-weight="bold" text-anchor="middle" fill="#000">Healthy Control</text>
<text x="217.2" y="281" font-size="7.2" font-weight="bold" text-anchor="middle" transform="rotate(-90 217.2 281)" fill="#222" textLength="50" lengthAdjust="spacingAndGlyphs">Specific Lysis (%)</text>
<polyline points="247.3,279.8 273.5,260.6 300,252 326.3,248.5" fill="none" stroke="#777" stroke-width="0.9"/>
<line x1="247.3" y1="277.8" x2="247.3" y2="281.8" stroke="#666" stroke-width="0.6"/>
<line x1="246.3" y1="277.8" x2="248.3" y2="277.8" stroke="#666" stroke-width="0.5"/>
<line x1="246.3" y1="281.8" x2="248.3" y2="281.8" stroke="#666" stroke-width="0.5"/>
<path d="M247.3 278.2l1.6 1.6l-1.6 1.6l-1.6 -1.6z" fill="#111"/>
<line x1="273.5" y1="259.4" x2="273.5" y2="261.8" stroke="#666" stroke-width="0.6"/>
<line x1="272.5" y1="259.4" x2="274.5" y2="259.4" stroke="#666" stroke-width="0.5"/>
<line x1="272.5" y1="261.8" x2="274.5" y2="261.8" stroke="#666" stroke-width="0.5"/>
<path d="M273.5 259l1.6 1.6l-1.6 1.6l-1.6 -1.6z" fill="#111"/>
<line x1="300" y1="249" x2="300" y2="255.1" stroke="#666" stroke-width="0.6"/>
<line x1="299" y1="249" x2="301" y2="249" stroke="#666" stroke-width="0.5"/>
<line x1="299" y1="255.1" x2="301" y2="255.1" stroke="#666" stroke-width="0.5"/>
<path d="M300 250.4l1.6 1.6l-1.6 1.6l-1.6 -1.6z" fill="#111"/>
<line x1="326.3" y1="246.3" x2="326.3" y2="250.7" stroke="#666" stroke-width="0.6"/>
<line x1="325.3" y1="246.3" x2="327.3" y2="246.3" stroke="#666" stroke-width="0.5"/>
<line x1="325.3" y1="250.7" x2="327.3" y2="250.7" stroke="#666" stroke-width="0.5"/>
<path d="M326.3 246.9l1.6 1.6l-1.6 1.6l-1.6 -1.6z" fill="#111"/>
<polyline points="247.3,283.9 273.5,280.3 300,277.3 326.3,268.7" fill="none" stroke="#777" stroke-width="0.9" stroke-dasharray="3 2"/>
<path d="M247.3 282.3l1.6 1.6l-1.6 1.6l-1.6 -1.6z" fill="#111"/>
<line x1="273.5" y1="278.3" x2="273.5" y2="282.3" stroke="#666" stroke-width="0.6"/>
<line x1="272.5" y1="278.3" x2="274.5" y2="278.3" stroke="#666" stroke-width="0.5"/>
<line x1="272.5" y1="282.3" x2="274.5" y2="282.3" stroke="#666" stroke-width="0.5"/>
<path d="M273.5 278.7l1.6 1.6l-1.6 1.6l-1.6 -1.6z" fill="#111"/>
<line x1="300" y1="272.2" x2="300" y2="282.3" stroke="#666" stroke-width="0.6"/>
<line x1="299" y1="272.2" x2="301" y2="272.2" stroke="#666" stroke-width="0.5"/>
<line x1="299" y1="282.3" x2="301" y2="282.3" stroke="#666" stroke-width="0.5"/>
<path d="M300 275.7l1.6 1.6l-1.6 1.6l-1.6 -1.6z" fill="#111"/>
<line x1="326.3" y1="267.7" x2="326.3" y2="269.7" stroke="#666" stroke-width="0.6"/>
<line x1="325.3" y1="267.7" x2="327.3" y2="267.7" stroke="#666" stroke-width="0.5"/>
<line x1="325.3" y1="269.7" x2="327.3" y2="269.7" stroke="#666" stroke-width="0.5"/>
<path d="M326.3 267.1l1.6 1.6l-1.6 1.6l-1.6 -1.6z" fill="#111"/>
<polyline points="353.8,310.8 380.6,308.1 407.5,298.2 434.8,290.4" fill="none" stroke="#777" stroke-width="0.9"/>
<path d="M353.8 309.2l1.6 1.6l-1.6 1.6l-1.6 -1.6z" fill="#111"/>
<path d="M380.6 306.5l1.6 1.6l-1.6 1.6l-1.6 -1.6z" fill="#111"/>
<path d="M407.5 296.6l1.6 1.6l-1.6 1.6l-1.6 -1.6z" fill="#111"/>
<line x1="434.8" y1="285.9" x2="434.8" y2="295" stroke="#666" stroke-width="0.6"/>
<line x1="433.8" y1="285.9" x2="435.8" y2="285.9" stroke="#666" stroke-width="0.5"/>
<line x1="433.8" y1="295" x2="435.8" y2="295" stroke="#666" stroke-width="0.5"/>
<path d="M434.8 288.8l1.6 1.6l-1.6 1.6l-1.6 -1.6z" fill="#111"/>
<polyline points="353.8,315.7 380.6,312.9 407.5,312.1 434.8,308.6" fill="none" stroke="#777" stroke-width="0.9" stroke-dasharray="3 2"/>
<path d="M353.8 314.1l1.6 1.6l-1.6 1.6l-1.6 -1.6z" fill="#111"/>
<path d="M380.6 311.3l1.6 1.6l-1.6 1.6l-1.6 -1.6z" fill="#111"/>
<path d="M407.5 310.5l1.6 1.6l-1.6 1.6l-1.6 -1.6z" fill="#111"/>
<path d="M434.8 307l1.6 1.6l-1.6 1.6l-1.6 -1.6z" fill="#111"/>
<rect x="455.9" y="246.2" width="37.9" height="16.8" fill="#fff" stroke="#333" stroke-width="1"/>
<line x1="458" y1="251.2" x2="471.5" y2="251.2" stroke="#222" stroke-width="0.8"/>
<path d="M464.6 249.6l1.5 1.6l-1.5 1.6l-1.5 -1.6z" fill="#000"/>
<text x="472.3" y="253.2" font-size="4.8" fill="#222" textLength="10.5" lengthAdjust="spacingAndGlyphs">K562</text>
<line x1="458" y1="259.2" x2="471.5" y2="259.2" stroke="#222" stroke-width="0.8" stroke-dasharray="1.5 3"/>
<path d="M464.6 257.6l1.5 1.6l-1.5 1.6l-1.5 -1.6z" fill="#000"/>
<text x="472.3" y="261.2" font-size="4.8" fill="#222" textLength="20" lengthAdjust="spacingAndGlyphs">- CRL 2598</text>
<text x="1.8" y="409.3" font-size="10.8" font-weight="bold" fill="#000">E</text>
<rect x="39.6" y="414.4" width="225.9" height="160.6" fill="none" stroke="#111" stroke-width="1"/>
<line x1="37.1" y1="575" x2="39.6" y2="575" stroke="#000" stroke-width="1"/>
<text x="34.1" y="577.5" font-size="7" font-weight="bold" text-anchor="end" fill="#000">0</text>
<line x1="37.1" y1="554.9" x2="39.6" y2="554.9" stroke="#000" stroke-width="1"/>
<text x="34.1" y="557.4" font-size="7" font-weight="bold" text-anchor="end" fill="#000">2</text>
<line x1="37.1" y1="534.9" x2="39.6" y2="534.9" stroke="#000" stroke-width="1"/>
<text x="34.1" y="537.4" font-size="7" font-weight="bold" text-anchor="end" fill="#000">4</text>
<line x1="37.1" y1="514.8" x2="39.6" y2="514.8" stroke="#000" stroke-width="1"/>
<text x="34.1" y="517.3" font-size="7" font-weight="bold" text-anchor="end" fill="#000">6</text>
<line x1="37.1" y1="494.7" x2="39.6" y2="494.7" stroke="#000" stroke-width="1"/>
<text x="34.1" y="497.2" font-size="7" font-weight="bold" text-anchor="end" fill="#000">8</text>
<line x1="37.1" y1="474.6" x2="39.6" y2="474.6" stroke="#000" stroke-width="1"/>
<text x="34.1" y="477.1" font-size="7" font-weight="bold" text-anchor="end" fill="#000">10</text>
<line x1="37.1" y1="454.5" x2="39.6" y2="454.5" stroke="#000" stroke-width="1"/>
<text x="34.1" y="457" font-size="7" font-weight="bold" text-anchor="end" fill="#000">12</text>
<line x1="37.1" y1="434.5" x2="39.6" y2="434.5" stroke="#000" stroke-width="1"/>
<text x="34.1" y="437" font-size="7" font-weight="bold" text-anchor="end" fill="#000">14</text>
<line x1="37.1" y1="414.4" x2="39.6" y2="414.4" stroke="#000" stroke-width="1"/>
<text x="34.1" y="416.9" font-size="7" font-weight="bold" text-anchor="end" fill="#000">16</text>
<line x1="39.6" y1="575" x2="39.6" y2="587" stroke="#555" stroke-width="0.8"/>
<line x1="71.9" y1="575" x2="71.9" y2="587" stroke="#555" stroke-width="0.8"/>
<line x1="104.1" y1="575" x2="104.1" y2="587" stroke="#555" stroke-width="0.8"/>
<line x1="136.4" y1="575" x2="136.4" y2="587" stroke="#555" stroke-width="0.8"/>
<line x1="168.7" y1="575" x2="168.7" y2="587" stroke="#555" stroke-width="0.8"/>
<line x1="201" y1="575" x2="201" y2="587" stroke="#555" stroke-width="0.8"/>
<line x1="233.2" y1="575" x2="233.2" y2="587" stroke="#555" stroke-width="0.8"/>
<line x1="265.5" y1="575" x2="265.5" y2="587" stroke="#555" stroke-width="0.8"/>
<line x1="39.6" y1="575" x2="39.6" y2="597" stroke="#555" stroke-width="0.8"/>
<line x1="168.7" y1="575" x2="168.7" y2="597" stroke="#555" stroke-width="0.8"/>
<line x1="136.4" y1="575" x2="136.4" y2="587" stroke="#555" stroke-width="0.8"/>
<line x1="265.5" y1="575" x2="265.5" y2="597" stroke="#555" stroke-width="0.8"/>
<rect x="46.3" y="550.9" width="9.4" height="24.1" fill="#c4c4c4" stroke="#777" stroke-width="0.6"/>
<line x1="51" y1="555.4" x2="51" y2="546.4" stroke="#555" stroke-width="0.7"/>
<line x1="49.8" y1="546.4" x2="52.2" y2="546.4" stroke="#555" stroke-width="0.7"/>
<line x1="49.8" y1="555.4" x2="52.2" y2="555.4" stroke="#555" stroke-width="0.7"/>
<line x1="60.4" y1="562" x2="60.4" y2="558.4" stroke="#555" stroke-width="0.7"/>
<line x1="59.2" y1="558.4" x2="61.6" y2="558.4" stroke="#555" stroke-width="0.7"/>
<rect x="55.7" y="562" width="9.4" height="13" fill="#050505"/>
<text x="55.7" y="585.6" font-size="5.7" text-anchor="middle" fill="#111">No stimulus</text>
<rect x="78.6" y="539.9" width="9.4" height="35.1" fill="#c4c4c4" stroke="#777" stroke-width="0.6"/>
<line x1="83.3" y1="543.4" x2="83.3" y2="536.4" stroke="#555" stroke-width="0.7"/>
<line x1="82.1" y1="536.4" x2="84.5" y2="536.4" stroke="#555" stroke-width="0.7"/>
<line x1="82.1" y1="543.4" x2="84.5" y2="543.4" stroke="#555" stroke-width="0.7"/>
<line x1="92.7" y1="568" x2="92.7" y2="565" stroke="#555" stroke-width="0.7"/>
<line x1="91.5" y1="565" x2="93.9" y2="565" stroke="#555" stroke-width="0.7"/>
<rect x="88" y="568" width="9.4" height="7" fill="#050505"/>
<text x="88" y="585.6" font-size="5.7" text-anchor="middle" fill="#111">CRL-2598</text>
<rect x="110.9" y="524.8" width="9.4" height="50.2" fill="#c4c4c4" stroke="#777" stroke-width="0.6"/>
<line x1="115.6" y1="531.3" x2="115.6" y2="518.3" stroke="#555" stroke-width="0.7"/>
<line x1="114.4" y1="518.3" x2="116.8" y2="518.3" stroke="#555" stroke-width="0.7"/>
<line x1="114.4" y1="531.3" x2="116.8" y2="531.3" stroke="#555" stroke-width="0.7"/>
<line x1="125" y1="529.8" x2="125" y2="524.8" stroke="#555" stroke-width="0.7"/>
<line x1="123.8" y1="524.8" x2="126.2" y2="524.8" stroke="#555" stroke-width="0.7"/>
<rect x="120.3" y="529.8" width="9.4" height="45.2" fill="#050505"/>
<text x="120.3" y="585.6" font-size="5.7" text-anchor="middle" fill="#111">SEB</text>
<rect x="175.4" y="520.8" width="9.4" height="54.2" fill="#c4c4c4" stroke="#777" stroke-width="0.6"/>
<line x1="180.1" y1="527.8" x2="180.1" y2="513.8" stroke="#555" stroke-width="0.7"/>
<line x1="178.9" y1="513.8" x2="181.3" y2="513.8" stroke="#555" stroke-width="0.7"/>
<line x1="178.9" y1="527.8" x2="181.3" y2="527.8" stroke="#555" stroke-width="0.7"/>
<rect x="184.8" y="573" width="9.4" height="2" fill="#050505"/>
<text x="184.8" y="585.6" font-size="5.7" text-anchor="middle" fill="#111">No stimulus</text>
<rect x="207.7" y="482.7" width="9.4" height="92.3" fill="#c4c4c4" stroke="#777" stroke-width="0.6"/>
<line x1="212.4" y1="489.2" x2="212.4" y2="476.1" stroke="#555" stroke-width="0.7"/>
<line x1="211.2" y1="476.1" x2="213.6" y2="476.1" stroke="#555" stroke-width="0.7"/>
<line x1="211.2" y1="489.2" x2="213.6" y2="489.2" stroke="#555" stroke-width="0.7"/>
<rect x="217.1" y="572.5" width="9.4" height="2.5" fill="#050505"/>
<text x="217.1" y="585.6" font-size="5.7" text-anchor="middle" fill="#111">CRL-2598</text>
<rect x="240" y="470.6" width="9.4" height="104.4" fill="#c4c4c4" stroke="#777" stroke-width="0.6"/>
<line x1="244.7" y1="479.1" x2="244.7" y2="462.1" stroke="#555" stroke-width="0.7"/>
<line x1="243.5" y1="462.1" x2="245.9" y2="462.1" stroke="#555" stroke-width="0.7"/>
<line x1="243.5" y1="479.1" x2="245.9" y2="479.1" stroke="#555" stroke-width="0.7"/>
<line x1="254.1" y1="449.5" x2="254.1" y2="438.5" stroke="#555" stroke-width="0.7"/>
<line x1="252.9" y1="438.5" x2="255.3" y2="438.5" stroke="#555" stroke-width="0.7"/>
<rect x="249.4" y="449.5" width="9.4" height="125.5" fill="#050505"/>
<text x="249.4" y="585.6" font-size="5.7" text-anchor="middle" fill="#111">SEB</text>
<rect x="53.8" y="422.3" width="33.7" height="17.1" fill="#fff" stroke="#111" stroke-width="1"/>
<rect x="56" y="425.2" width="3" height="3" fill="#ddd" stroke="#333" stroke-width="0.6"/>
<text x="61" y="429.3" font-size="6.6" font-weight="bold" fill="#000">LGL</text>
<rect x="56" y="434.1" width="3" height="3" fill="#000"/>
<text x="61" y="438.2" font-size="6.6" font-weight="bold" fill="#000">Control</text>
<text x="93.9" y="595.9" font-size="9.2" font-weight="bold" fill="#000">IFN<tspan font-weight="normal" font-size="8.6" dx="0.6">&#947;</tspan></text>
<text x="205.5" y="598.7" font-size="9.2" font-weight="bold" fill="#000">TNF<tspan font-weight="normal" font-size="9.4" dx="0.4">&#945;</tspan></text>
<text x="20.7" y="494.2" font-size="8" font-weight="bold" text-anchor="middle" transform="rotate(-90 20.7 494.2)" fill="#000" textLength="38" lengthAdjust="spacingAndGlyphs">% Positive</text>
<text x="306.5" y="408.6" font-size="10.5" font-weight="bold" fill="#000">F</text>
<rect x="332.6" y="430.7" width="141.2" height="125.9" fill="none" stroke="#111" stroke-width="1"/>
<line x1="330.1" y1="556.6" x2="332.6" y2="556.6" stroke="#000" stroke-width="1"/>
<text x="327.6" y="559.1" font-size="7" font-weight="bold" text-anchor="end" fill="#000">0</text>
<line x1="330.1" y1="535.6" x2="332.6" y2="535.6" stroke="#000" stroke-width="1"/>
<text x="327.6" y="538.1" font-size="7" font-weight="bold" text-anchor="end" fill="#000">10</text>
<line x1="330.1" y1="514.6" x2="332.6" y2="514.6" stroke="#000" stroke-width="1"/>
<text x="327.6" y="517.1" font-size="7" font-weight="bold" text-anchor="end" fill="#000">20</text>
<line x1="330.1" y1="493.6" x2="332.6" y2="493.6" stroke="#000" stroke-width="1"/>
<text x="327.6" y="496.1" font-size="7" font-weight="bold" text-anchor="end" fill="#000">30</text>
<line x1="330.1" y1="472.7" x2="332.6" y2="472.7" stroke="#000" stroke-width="1"/>
<text x="327.6" y="475.2" font-size="7" font-weight="bold" text-anchor="end" fill="#000">40</text>
<line x1="330.1" y1="451.7" x2="332.6" y2="451.7" stroke="#000" stroke-width="1"/>
<text x="327.6" y="454.2" font-size="7" font-weight="bold" text-anchor="end" fill="#000">50</text>
<line x1="330.1" y1="430.7" x2="332.6" y2="430.7" stroke="#000" stroke-width="1"/>
<text x="327.6" y="433.2" font-size="7" font-weight="bold" text-anchor="end" fill="#000">60</text>
<text x="395.2" y="427.9" font-size="6.8" font-weight="bold" text-anchor="middle" fill="#000" textLength="59.6" lengthAdjust="spacingAndGlyphs">Lysis of CRL-2598</text>
<line x1="340.5" y1="454.2" x2="340.5" y2="449" stroke="#333" stroke-width="0.7"/>
<line x1="339.2" y1="449" x2="341.8" y2="449" stroke="#333" stroke-width="0.8"/>
<rect x="338.7" y="454.5" width="3.6" height="102.1" fill="#151515" stroke="#111" stroke-width="0.6"/>
<line x1="344.6" y1="471.6" x2="344.6" y2="460.5" stroke="#333" stroke-width="0.7"/>
<line x1="343.3" y1="460.5" x2="345.9" y2="460.5" stroke="#333" stroke-width="0.8"/>
<rect x="342.8" y="471.9" width="3.6" height="84.7" fill="#5a5a5a" stroke="#111" stroke-width="0.6"/>
<line x1="348.8" y1="476.9" x2="348.8" y2="470.6" stroke="#333" stroke-width="0.7"/>
<line x1="347.5" y1="470.6" x2="350.1" y2="470.6" stroke="#333" stroke-width="0.8"/>
<rect x="347" y="477.2" width="3.6" height="79.4" fill="#fff" stroke="#111" stroke-width="0.6"/>
<line x1="352.9" y1="485.3" x2="352.9" y2="482.1" stroke="#333" stroke-width="0.7"/>
<line x1="351.6" y1="482.1" x2="354.2" y2="482.1" stroke="#333" stroke-width="0.8"/>
<rect x="351.1" y="485.6" width="3.6" height="71" fill="#fff" stroke="#111" stroke-width="0.6"/>
<line x1="368.6" y1="451.1" x2="368.6" y2="439.5" stroke="#333" stroke-width="0.7"/>
<line x1="367.3" y1="439.5" x2="369.9" y2="439.5" stroke="#333" stroke-width="0.8"/>
<rect x="366.8" y="451.4" width="3.6" height="105.2" fill="#151515" stroke="#111" stroke-width="0.6"/>
<line x1="372.8" y1="463" x2="372.8" y2="442" stroke="#333" stroke-width="0.7"/>
<line x1="371.4" y1="442" x2="374" y2="442" stroke="#333" stroke-width="0.8"/>
<rect x="370.9" y="463.3" width="3.6" height="93.3" fill="#5a5a5a" stroke="#111" stroke-width="0.6"/>
<line x1="376.9" y1="466.4" x2="376.9" y2="459.4" stroke="#333" stroke-width="0.7"/>
<line x1="375.6" y1="459.4" x2="378.2" y2="459.4" stroke="#333" stroke-width="0.8"/>
<rect x="375.1" y="466.7" width="3.6" height="89.9" fill="#fff" stroke="#111" stroke-width="0.6"/>
<line x1="381.1" y1="488.4" x2="381.1" y2="483.6" stroke="#333" stroke-width="0.7"/>
<line x1="379.8" y1="483.6" x2="382.3" y2="483.6" stroke="#333" stroke-width="0.8"/>
<rect x="379.2" y="488.7" width="3.6" height="67.9" fill="#fff" stroke="#111" stroke-width="0.6"/>
<line x1="395.7" y1="509.6" x2="395.7" y2="505.8" stroke="#333" stroke-width="0.7"/>
<line x1="394.4" y1="505.8" x2="397" y2="505.8" stroke="#333" stroke-width="0.8"/>
<rect x="393.9" y="509.9" width="3.6" height="46.7" fill="#151515" stroke="#111" stroke-width="0.6"/>
<line x1="399.9" y1="515.5" x2="399.9" y2="513.4" stroke="#333" stroke-width="0.7"/>
<line x1="398.6" y1="513.4" x2="401.1" y2="513.4" stroke="#333" stroke-width="0.8"/>
<rect x="398.1" y="515.8" width="3.6" height="40.8" fill="#5a5a5a" stroke="#111" stroke-width="0.6"/>
<line x1="404" y1="522" x2="404" y2="519.5" stroke="#333" stroke-width="0.7"/>
<line x1="402.7" y1="519.5" x2="405.3" y2="519.5" stroke="#333" stroke-width="0.8"/>
<rect x="402.2" y="522.3" width="3.6" height="34.3" fill="#fff" stroke="#111" stroke-width="0.6"/>
<line x1="408.2" y1="531.4" x2="408.2" y2="528.3" stroke="#333" stroke-width="0.7"/>
<line x1="406.9" y1="528.3" x2="409.4" y2="528.3" stroke="#333" stroke-width="0.8"/>
<rect x="406.4" y="531.7" width="3.6" height="24.9" fill="#fff" stroke="#111" stroke-width="0.6"/>
<line x1="423.3" y1="503.5" x2="423.3" y2="497.6" stroke="#333" stroke-width="0.7"/>
<line x1="422" y1="497.6" x2="424.6" y2="497.6" stroke="#333" stroke-width="0.8"/>
<rect x="421.5" y="503.8" width="3.6" height="52.8" fill="#151515" stroke="#111" stroke-width="0.6"/>
<line x1="427.4" y1="515.3" x2="427.4" y2="513.2" stroke="#333" stroke-width="0.7"/>
<line x1="426.1" y1="513.2" x2="428.7" y2="513.2" stroke="#333" stroke-width="0.8"/>
<rect x="425.6" y="515.6" width="3.6" height="41" fill="#5a5a5a" stroke="#111" stroke-width="0.6"/>
<line x1="431.6" y1="516.7" x2="431.6" y2="513.6" stroke="#333" stroke-width="0.7"/>
<line x1="430.3" y1="513.6" x2="432.9" y2="513.6" stroke="#333" stroke-width="0.8"/>
<rect x="429.8" y="517" width="3.6" height="39.6" fill="#fff" stroke="#111" stroke-width="0.6"/>
<line x1="435.8" y1="535.6" x2="435.8" y2="533.1" stroke="#333" stroke-width="0.7"/>
<line x1="434.4" y1="533.1" x2="437" y2="533.1" stroke="#333" stroke-width="0.8"/>
<rect x="433.9" y="535.9" width="3.6" height="20.7" fill="#fff" stroke="#111" stroke-width="0.6"/>
<line x1="450.4" y1="531.4" x2="450.4" y2="524.1" stroke="#333" stroke-width="0.7"/>
<line x1="449.1" y1="524.1" x2="451.7" y2="524.1" stroke="#333" stroke-width="0.8"/>
<rect x="448.6" y="531.7" width="3.6" height="24.9" fill="#151515" stroke="#111" stroke-width="0.6"/>
<line x1="454.6" y1="535.6" x2="454.6" y2="530.4" stroke="#333" stroke-width="0.7"/>
<line x1="453.2" y1="530.4" x2="455.8" y2="530.4" stroke="#333" stroke-width="0.8"/>
<rect x="452.8" y="535.9" width="3.6" height="20.7" fill="#5a5a5a" stroke="#111" stroke-width="0.6"/>
<line x1="458.7" y1="537.7" x2="458.7" y2="533.5" stroke="#333" stroke-width="0.7"/>
<line x1="457.4" y1="533.5" x2="460" y2="533.5" stroke="#333" stroke-width="0.8"/>
<rect x="456.9" y="538" width="3.6" height="18.6" fill="#fff" stroke="#111" stroke-width="0.6"/>
<line x1="462.9" y1="544.4" x2="462.9" y2="541.3" stroke="#333" stroke-width="0.7"/>
<line x1="461.6" y1="541.3" x2="464.1" y2="541.3" stroke="#333" stroke-width="0.8"/>
<rect x="461.1" y="544.7" width="3.6" height="11.9" fill="#fff" stroke="#111" stroke-width="0.6"/>
<text x="346.5" y="566.3" font-size="5.9" font-weight="bold" text-anchor="middle" fill="#000">Mock</text>
<text x="373.2" y="566.3" font-size="5.9" font-weight="bold" text-anchor="middle" fill="#000">CD56</text>
<text x="399.6" y="566.3" font-size="5.9" font-weight="bold" text-anchor="middle" fill="#000">dnDAP10</text>
<text x="428.9" y="566.3" font-size="5.9" font-weight="bold" text-anchor="middle" fill="#000">dnDAP12</text>
<text x="458.3" y="566.3" font-size="5.9" font-weight="bold" text-anchor="middle" fill="#000">dnDAP10</text>
<text x="458.3" y="574" font-size="5.9" font-weight="bold" text-anchor="middle" fill="#000">+</text>
<text x="458.3" y="581.3" font-size="5.9" font-weight="bold" text-anchor="middle" fill="#000">dnDAP12</text>
<text x="312.6" y="497" font-size="7.2" text-anchor="middle" transform="rotate(-90 312.6 497)" fill="#000" textLength="57.5" lengthAdjust="spacingAndGlyphs">Specific Lysis (%)</text>
<rect x="481.2" y="445.8" width="27.3" height="49.2" fill="#fff" stroke="#111" stroke-width="1"/>
<rect x="483.5" y="451.9" width="3" height="3" fill="#151515" stroke="#111" stroke-width="0.6"/>
<text x="488.8" y="455.8" font-size="6.4" font-weight="bold" fill="#000">50:1</text>
<rect x="483.5" y="463.8" width="3" height="3" fill="#5a5a5a" stroke="#111" stroke-width="0.6"/>
<text x="488.8" y="467.7" font-size="6.4" font-weight="bold" fill="#000">25:1</text>
<rect x="483.5" y="475.7" width="3" height="3" fill="#fff" stroke="#111" stroke-width="0.6"/>
<text x="488.8" y="479.6" font-size="6.4" font-weight="bold" fill="#000">12:1</text>
<rect x="483.5" y="487.6" width="3" height="3" fill="#fff" stroke="#111" stroke-width="0.6"/>
<text x="488.8" y="491.5" font-size="6.4" font-weight="bold" fill="#000">&#160;6:1</text>
</svg>
</body></html>
